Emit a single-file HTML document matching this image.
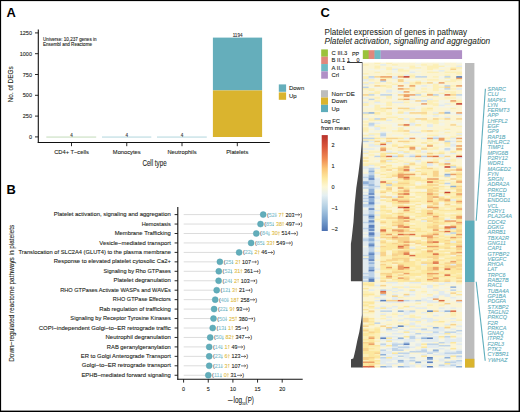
<!DOCTYPE html>
<html><head><meta charset="utf-8"><title>Figure</title>
<style>
html,body{margin:0;padding:0;background:#fff;width:520px;height:412px;overflow:hidden}
svg{display:block;font-family:"Liberation Sans", sans-serif}
</style></head>
<body>
<svg width="520" height="412" viewBox="0 0 520 412" shape-rendering="auto">
<rect x="0" y="0" width="520" height="412" fill="#fff"/>
<text x="6.6" y="16.9" font-size="12.9" font-weight="bold" fill="#000">A</text>
<line x1="38.3" y1="29.6" x2="38.3" y2="143" stroke="#111" stroke-width="1.1"/>
<line x1="37.8" y1="142.5" x2="269.8" y2="142.5" stroke="#111" stroke-width="1.1"/>
<line x1="35" y1="136.90" x2="38.3" y2="136.90" stroke="#111" stroke-width="0.9"/>
<text x="32" y="138.90" font-size="5.5" fill="#231f20" text-anchor="end" stroke="#231f20" stroke-width="0.1">0</text>
<line x1="35" y1="116.10" x2="38.3" y2="116.10" stroke="#111" stroke-width="0.9"/>
<text x="32" y="118.10" font-size="5.5" fill="#231f20" text-anchor="end" stroke="#231f20" stroke-width="0.1">250</text>
<line x1="35" y1="95.30" x2="38.3" y2="95.30" stroke="#111" stroke-width="0.9"/>
<text x="32" y="97.30" font-size="5.5" fill="#231f20" text-anchor="end" stroke="#231f20" stroke-width="0.1">500</text>
<line x1="35" y1="74.50" x2="38.3" y2="74.50" stroke="#111" stroke-width="0.9"/>
<text x="32" y="76.50" font-size="5.5" fill="#231f20" text-anchor="end" stroke="#231f20" stroke-width="0.1">750</text>
<line x1="35" y1="53.70" x2="38.3" y2="53.70" stroke="#111" stroke-width="0.9"/>
<text x="32" y="55.70" font-size="5.5" fill="#231f20" text-anchor="end" stroke="#231f20" stroke-width="0.1">1000</text>
<line x1="35" y1="32.90" x2="38.3" y2="32.90" stroke="#111" stroke-width="0.9"/>
<text x="32" y="34.90" font-size="5.5" fill="#231f20" text-anchor="end" stroke="#231f20" stroke-width="0.1">1250</text>
<line x1="71.5" y1="142.5" x2="71.5" y2="146.2" stroke="#111" stroke-width="0.9"/>
<text x="71.5" y="153.9" font-size="5.75" fill="#231f20" text-anchor="middle" stroke="#231f20" stroke-width="0.1">CD4+ T−cells</text>
<line x1="126.75" y1="142.5" x2="126.75" y2="146.2" stroke="#111" stroke-width="0.9"/>
<text x="126.75" y="153.9" font-size="5.75" fill="#231f20" text-anchor="middle" stroke="#231f20" stroke-width="0.1">Monocytes</text>
<line x1="182.0" y1="142.5" x2="182.0" y2="146.2" stroke="#111" stroke-width="0.9"/>
<text x="182.0" y="153.9" font-size="5.75" fill="#231f20" text-anchor="middle" stroke="#231f20" stroke-width="0.1">Neutrophils</text>
<line x1="237.3" y1="142.5" x2="237.3" y2="146.2" stroke="#111" stroke-width="0.9"/>
<text x="237.3" y="153.9" font-size="5.75" fill="#231f20" text-anchor="middle" stroke="#231f20" stroke-width="0.1">Platelets</text>
<rect x="46.3" y="136.6" width="49.9" height="0.9" fill="#bcd8b2"/>
<rect x="102" y="136.6" width="49.3" height="0.9" fill="#a9d2da"/>
<rect x="157" y="136.6" width="49.8" height="0.9" fill="#a9d2da"/>
<text x="71.5" y="136.7" font-size="4.6" fill="#333" text-anchor="middle" stroke="#333" stroke-width="0.1">4</text>
<text x="126.75" y="136.7" font-size="4.6" fill="#333" text-anchor="middle" stroke="#333" stroke-width="0.1">4</text>
<text x="182.0" y="136.7" font-size="4.6" fill="#333" text-anchor="middle" stroke="#333" stroke-width="0.1">4</text>
<rect x="212.9" y="37.6" width="49.2" height="52.8" fill="#65aebb"/>
<rect x="212.9" y="90.4" width="49.2" height="46.6" fill="#dab42e"/>
<text x="237.6" y="36.7" font-size="4.6" fill="#333" text-anchor="middle" stroke="#333" stroke-width="0.1">1194</text>
<text x="43" y="40.6" font-size="4.6" fill="#231f20" textLength="53.6" lengthAdjust="spacingAndGlyphs" stroke="#231f20" stroke-width="0.1">Universe: 10,237 genes in</text>
<text x="43" y="45.6" font-size="4.6" fill="#231f20" stroke="#231f20" stroke-width="0.1">Ensembl and Reactome</text>
<rect x="278.8" y="84.4" width="7.3" height="7.4" fill="#65aebb"/>
<rect x="278.8" y="92.4" width="7.3" height="7.4" fill="#dab42e"/>
<text x="289" y="90.0" font-size="6.0" fill="#231f20" textLength="15.2" lengthAdjust="spacingAndGlyphs" stroke="#231f20" stroke-width="0.1">Down</text>
<text x="289" y="97.8" font-size="6.0" fill="#231f20" stroke="#231f20" stroke-width="0.1">Up</text>
<text x="154.5" y="165.8" font-size="8.4" text-anchor="middle" fill="#231f20" textLength="24.2" lengthAdjust="spacingAndGlyphs" stroke="#231f20" stroke-width="0.1">Cell type</text>
<text transform="translate(13.0,84.3) rotate(-90)" x="0" y="0" font-size="8.0" text-anchor="middle" fill="#231f20" textLength="36" lengthAdjust="spacingAndGlyphs" stroke="#231f20" stroke-width="0.1">No. of DEGs</text>
<text x="6.5" y="194.3" font-size="12.9" font-weight="bold" fill="#000">B</text>
<line x1="177.8" y1="207.0" x2="177.8" y2="379.7" stroke="#111" stroke-width="1.1"/>
<line x1="177.3" y1="379.2" x2="302.7" y2="379.2" stroke="#111" stroke-width="1.1"/>
<line x1="174.6" y1="214.60" x2="177.8" y2="214.60" stroke="#111" stroke-width="0.9"/>
<text x="53.75" y="216.20" font-size="5.6" fill="#231f20" textLength="117.10" lengthAdjust="spacingAndGlyphs" stroke="#231f20" stroke-width="0.1">Platelet activation, signaling and aggregation</text>
<line x1="183.7" y1="214.60" x2="263.2" y2="214.60" stroke="#dcdcdc" stroke-width="1"/>
<circle cx="263.2" cy="214.60" r="3.0" fill="#62adba" stroke="#4f9faf" stroke-width="0.45"/>
<text x="267.00" y="216.55" font-size="5.4" fill="#555" stroke="#555" stroke-width="0.1">(</text><text x="268.80" y="216.55" font-size="5.4" fill="#86c1cd" stroke="#86c1cd" stroke-width="0.1">52</text><path d="M275.90 212.80 V216.50 M275.10 215.50 L275.90 216.55 L276.70 215.50" stroke="#5aa6b4" stroke-width="0.55" fill="none"/><text x="278.60" y="216.55" font-size="5.4" fill="#e0bb45" stroke="#e0bb45" stroke-width="0.1">7</text><path d="M282.70 216.55 V212.90 M281.90 213.90 L282.70 212.85 L283.50 213.90" stroke="#e0bb45" stroke-width="0.55" fill="none"/><text x="285.40" y="216.55" font-size="5.4" fill="#231f20" stroke="#231f20" stroke-width="0.1">203</text><path d="M295.00 214.70 H299.60 M298.50 213.70 L299.70 214.70 L298.50 215.70" stroke="#231f20" stroke-width="0.6" fill="none"/><text x="300.20" y="216.55" font-size="5.4" fill="#231f20" stroke="#231f20" stroke-width="0.1">)</text>
<line x1="174.6" y1="224.05" x2="177.8" y2="224.05" stroke="#111" stroke-width="0.9"/>
<text x="141.65" y="225.65" font-size="5.6" fill="#231f20" textLength="29.20" lengthAdjust="spacingAndGlyphs" stroke="#231f20" stroke-width="0.1">Hemostasis</text>
<line x1="183.7" y1="224.05" x2="260.5" y2="224.05" stroke="#dcdcdc" stroke-width="1"/>
<circle cx="260.5" cy="224.05" r="3.0" fill="#62adba" stroke="#4f9faf" stroke-width="0.45"/>
<text x="264.30" y="226.00" font-size="5.4" fill="#555" stroke="#555" stroke-width="0.1">(</text><text x="266.10" y="226.00" font-size="5.4" fill="#86c1cd" stroke="#86c1cd" stroke-width="0.1">85</text><path d="M273.20 222.25 V225.95 M272.40 224.95 L273.20 226.00 L274.00 224.95" stroke="#5aa6b4" stroke-width="0.55" fill="none"/><text x="275.90" y="226.00" font-size="5.4" fill="#e0bb45" stroke="#e0bb45" stroke-width="0.1">38</text><path d="M283.00 226.00 V222.35 M282.20 223.35 L283.00 222.30 L283.80 223.35" stroke="#e0bb45" stroke-width="0.55" fill="none"/><text x="285.70" y="226.00" font-size="5.4" fill="#231f20" stroke="#231f20" stroke-width="0.1">497</text><path d="M295.30 224.15 H299.90 M298.80 223.15 L300.00 224.15 L298.80 225.15" stroke="#231f20" stroke-width="0.6" fill="none"/><text x="300.50" y="226.00" font-size="5.4" fill="#231f20" stroke="#231f20" stroke-width="0.1">)</text>
<line x1="174.6" y1="233.50" x2="177.8" y2="233.50" stroke="#111" stroke-width="0.9"/>
<text x="114.65" y="235.10" font-size="5.6" fill="#231f20" textLength="56.20" lengthAdjust="spacingAndGlyphs" stroke="#231f20" stroke-width="0.1">Membrane Trafficking</text>
<line x1="183.7" y1="233.50" x2="256.3" y2="233.50" stroke="#dcdcdc" stroke-width="1"/>
<circle cx="256.3" cy="233.50" r="3.0" fill="#62adba" stroke="#4f9faf" stroke-width="0.45"/>
<text x="260.10" y="235.45" font-size="5.4" fill="#555" stroke="#555" stroke-width="0.1">(</text><text x="261.90" y="235.45" font-size="5.4" fill="#86c1cd" stroke="#86c1cd" stroke-width="0.1">84</text><path d="M269.00 231.70 V235.40 M268.20 234.40 L269.00 235.45 L269.80 234.40" stroke="#5aa6b4" stroke-width="0.55" fill="none"/><text x="271.70" y="235.45" font-size="5.4" fill="#e0bb45" stroke="#e0bb45" stroke-width="0.1">30</text><path d="M278.80 235.45 V231.80 M278.00 232.80 L278.80 231.75 L279.60 232.80" stroke="#e0bb45" stroke-width="0.55" fill="none"/><text x="281.50" y="235.45" font-size="5.4" fill="#231f20" stroke="#231f20" stroke-width="0.1">514</text><path d="M291.10 233.60 H295.70 M294.60 232.60 L295.80 233.60 L294.60 234.60" stroke="#231f20" stroke-width="0.6" fill="none"/><text x="296.30" y="235.45" font-size="5.4" fill="#231f20" stroke="#231f20" stroke-width="0.1">)</text>
<line x1="174.6" y1="242.95" x2="177.8" y2="242.95" stroke="#111" stroke-width="0.9"/>
<text x="99.35" y="244.55" font-size="5.6" fill="#231f20" textLength="71.50" lengthAdjust="spacingAndGlyphs" stroke="#231f20" stroke-width="0.1">Vesicle−mediated transport</text>
<line x1="183.7" y1="242.95" x2="251.1" y2="242.95" stroke="#dcdcdc" stroke-width="1"/>
<circle cx="251.1" cy="242.95" r="3.0" fill="#62adba" stroke="#4f9faf" stroke-width="0.45"/>
<text x="254.90" y="244.90" font-size="5.4" fill="#555" stroke="#555" stroke-width="0.1">(</text><text x="256.70" y="244.90" font-size="5.4" fill="#86c1cd" stroke="#86c1cd" stroke-width="0.1">85</text><path d="M263.80 241.15 V244.85 M263.00 243.85 L263.80 244.90 L264.60 243.85" stroke="#5aa6b4" stroke-width="0.55" fill="none"/><text x="266.50" y="244.90" font-size="5.4" fill="#e0bb45" stroke="#e0bb45" stroke-width="0.1">33</text><path d="M273.60 244.90 V241.25 M272.80 242.25 L273.60 241.20 L274.40 242.25" stroke="#e0bb45" stroke-width="0.55" fill="none"/><text x="276.30" y="244.90" font-size="5.4" fill="#231f20" stroke="#231f20" stroke-width="0.1">549</text><path d="M285.90 243.05 H290.50 M289.40 242.05 L290.60 243.05 L289.40 244.05" stroke="#231f20" stroke-width="0.6" fill="none"/><text x="291.10" y="244.90" font-size="5.4" fill="#231f20" stroke="#231f20" stroke-width="0.1">)</text>
<line x1="174.6" y1="252.40" x2="177.8" y2="252.40" stroke="#111" stroke-width="0.9"/>
<text x="18.55" y="254.00" font-size="5.6" fill="#231f20" textLength="152.30" lengthAdjust="spacingAndGlyphs" stroke="#231f20" stroke-width="0.1">Translocation of SLC2A4 (GLUT4) to the plasma membrane</text>
<line x1="183.7" y1="252.40" x2="239.1" y2="252.40" stroke="#dcdcdc" stroke-width="1"/>
<circle cx="239.1" cy="252.40" r="3.0" fill="#62adba" stroke="#4f9faf" stroke-width="0.45"/>
<text x="242.90" y="254.35" font-size="5.4" fill="#555" stroke="#555" stroke-width="0.1">(</text><text x="244.70" y="254.35" font-size="5.4" fill="#86c1cd" stroke="#86c1cd" stroke-width="0.1">22</text><path d="M251.80 250.60 V254.30 M251.00 253.30 L251.80 254.35 L252.60 253.30" stroke="#5aa6b4" stroke-width="0.55" fill="none"/><text x="254.50" y="254.35" font-size="5.4" fill="#e0bb45" stroke="#e0bb45" stroke-width="0.1">2</text><path d="M258.60 254.35 V250.70 M257.80 251.70 L258.60 250.65 L259.40 251.70" stroke="#e0bb45" stroke-width="0.55" fill="none"/><text x="261.30" y="254.35" font-size="5.4" fill="#231f20" stroke="#231f20" stroke-width="0.1">46</text><path d="M267.90 252.50 H272.50 M271.40 251.50 L272.60 252.50 L271.40 253.50" stroke="#231f20" stroke-width="0.6" fill="none"/><text x="273.10" y="254.35" font-size="5.4" fill="#231f20" stroke="#231f20" stroke-width="0.1">)</text>
<line x1="174.6" y1="261.85" x2="177.8" y2="261.85" stroke="#111" stroke-width="0.9"/>
<text x="53.75" y="263.45" font-size="5.6" fill="#231f20" textLength="117.10" lengthAdjust="spacingAndGlyphs" stroke="#231f20" stroke-width="0.1">Response to elevated platelet cytosolic Ca2+</text>
<line x1="183.7" y1="261.85" x2="219.9" y2="261.85" stroke="#dcdcdc" stroke-width="1"/>
<circle cx="219.9" cy="261.85" r="3.0" fill="#62adba" stroke="#4f9faf" stroke-width="0.45"/>
<text x="223.70" y="263.80" font-size="5.4" fill="#555" stroke="#555" stroke-width="0.1">(</text><text x="225.50" y="263.80" font-size="5.4" fill="#86c1cd" stroke="#86c1cd" stroke-width="0.1">25</text><path d="M232.60 260.05 V263.75 M231.80 262.75 L232.60 263.80 L233.40 262.75" stroke="#5aa6b4" stroke-width="0.55" fill="none"/><text x="235.30" y="263.80" font-size="5.4" fill="#e0bb45" stroke="#e0bb45" stroke-width="0.1">2</text><path d="M239.40 263.80 V260.15 M238.60 261.15 L239.40 260.10 L240.20 261.15" stroke="#e0bb45" stroke-width="0.55" fill="none"/><text x="242.10" y="263.80" font-size="5.4" fill="#231f20" stroke="#231f20" stroke-width="0.1">107</text><path d="M251.70 261.95 H256.30 M255.20 260.95 L256.40 261.95 L255.20 262.95" stroke="#231f20" stroke-width="0.6" fill="none"/><text x="256.90" y="263.80" font-size="5.4" fill="#231f20" stroke="#231f20" stroke-width="0.1">)</text>
<line x1="174.6" y1="271.30" x2="177.8" y2="271.30" stroke="#111" stroke-width="0.9"/>
<text x="103.45" y="272.90" font-size="5.6" fill="#231f20" textLength="67.40" lengthAdjust="spacingAndGlyphs" stroke="#231f20" stroke-width="0.1">Signaling by Rho GTPases</text>
<line x1="183.7" y1="271.30" x2="218.8" y2="271.30" stroke="#dcdcdc" stroke-width="1"/>
<circle cx="218.8" cy="271.30" r="3.0" fill="#62adba" stroke="#4f9faf" stroke-width="0.45"/>
<text x="222.60" y="273.25" font-size="5.4" fill="#555" stroke="#555" stroke-width="0.1">(</text><text x="224.40" y="273.25" font-size="5.4" fill="#86c1cd" stroke="#86c1cd" stroke-width="0.1">52</text><path d="M231.50 269.50 V273.20 M230.70 272.20 L231.50 273.25 L232.30 272.20" stroke="#5aa6b4" stroke-width="0.55" fill="none"/><text x="234.20" y="273.25" font-size="5.4" fill="#e0bb45" stroke="#e0bb45" stroke-width="0.1">31</text><path d="M241.30 273.25 V269.60 M240.50 270.60 L241.30 269.55 L242.10 270.60" stroke="#e0bb45" stroke-width="0.55" fill="none"/><text x="244.00" y="273.25" font-size="5.4" fill="#231f20" stroke="#231f20" stroke-width="0.1">361</text><path d="M253.60 271.40 H258.20 M257.10 270.40 L258.30 271.40 L257.10 272.40" stroke="#231f20" stroke-width="0.6" fill="none"/><text x="258.80" y="273.25" font-size="5.4" fill="#231f20" stroke="#231f20" stroke-width="0.1">)</text>
<line x1="174.6" y1="280.75" x2="177.8" y2="280.75" stroke="#111" stroke-width="0.9"/>
<text x="113.55" y="282.35" font-size="5.6" fill="#231f20" textLength="57.30" lengthAdjust="spacingAndGlyphs" stroke="#231f20" stroke-width="0.1">Platelet degranulation</text>
<line x1="183.7" y1="280.75" x2="218.6" y2="280.75" stroke="#dcdcdc" stroke-width="1"/>
<circle cx="218.6" cy="280.75" r="3.0" fill="#62adba" stroke="#4f9faf" stroke-width="0.45"/>
<text x="222.40" y="282.70" font-size="5.4" fill="#555" stroke="#555" stroke-width="0.1">(</text><text x="224.20" y="282.70" font-size="5.4" fill="#86c1cd" stroke="#86c1cd" stroke-width="0.1">24</text><path d="M231.30 278.95 V282.65 M230.50 281.65 L231.30 282.70 L232.10 281.65" stroke="#5aa6b4" stroke-width="0.55" fill="none"/><text x="234.00" y="282.70" font-size="5.4" fill="#e0bb45" stroke="#e0bb45" stroke-width="0.1">2</text><path d="M238.10 282.70 V279.05 M237.30 280.05 L238.10 279.00 L238.90 280.05" stroke="#e0bb45" stroke-width="0.55" fill="none"/><text x="240.80" y="282.70" font-size="5.4" fill="#231f20" stroke="#231f20" stroke-width="0.1">103</text><path d="M250.40 280.85 H255.00 M253.90 279.85 L255.10 280.85 L253.90 281.85" stroke="#231f20" stroke-width="0.6" fill="none"/><text x="255.60" y="282.70" font-size="5.4" fill="#231f20" stroke="#231f20" stroke-width="0.1">)</text>
<line x1="174.6" y1="290.20" x2="177.8" y2="290.20" stroke="#111" stroke-width="0.9"/>
<text x="60.15" y="291.80" font-size="5.6" fill="#231f20" textLength="110.70" lengthAdjust="spacingAndGlyphs" stroke="#231f20" stroke-width="0.1">RHO GTPases Activate WASPs and WAVEs</text>
<line x1="183.7" y1="290.20" x2="216.7" y2="290.20" stroke="#dcdcdc" stroke-width="1"/>
<circle cx="216.7" cy="290.20" r="3.0" fill="#62adba" stroke="#4f9faf" stroke-width="0.45"/>
<text x="220.50" y="292.15" font-size="5.4" fill="#555" stroke="#555" stroke-width="0.1">(</text><text x="222.30" y="292.15" font-size="5.4" fill="#86c1cd" stroke="#86c1cd" stroke-width="0.1">12</text><path d="M229.40 288.40 V292.10 M228.60 291.10 L229.40 292.15 L230.20 291.10" stroke="#5aa6b4" stroke-width="0.55" fill="none"/><text x="232.10" y="292.15" font-size="5.4" fill="#e0bb45" stroke="#e0bb45" stroke-width="0.1">3</text><path d="M236.20 292.15 V288.50 M235.40 289.50 L236.20 288.45 L237.00 289.50" stroke="#e0bb45" stroke-width="0.55" fill="none"/><text x="238.90" y="292.15" font-size="5.4" fill="#231f20" stroke="#231f20" stroke-width="0.1">21</text><path d="M245.50 290.30 H250.10 M249.00 289.30 L250.20 290.30 L249.00 291.30" stroke="#231f20" stroke-width="0.6" fill="none"/><text x="250.70" y="292.15" font-size="5.4" fill="#231f20" stroke="#231f20" stroke-width="0.1">)</text>
<line x1="174.6" y1="299.65" x2="177.8" y2="299.65" stroke="#111" stroke-width="0.9"/>
<text x="112.85" y="301.25" font-size="5.6" fill="#231f20" textLength="58.00" lengthAdjust="spacingAndGlyphs" stroke="#231f20" stroke-width="0.1">RHO GTPase Effectors</text>
<line x1="183.7" y1="299.65" x2="215.2" y2="299.65" stroke="#dcdcdc" stroke-width="1"/>
<circle cx="215.2" cy="299.65" r="3.0" fill="#62adba" stroke="#4f9faf" stroke-width="0.45"/>
<text x="219.00" y="301.60" font-size="5.4" fill="#555" stroke="#555" stroke-width="0.1">(</text><text x="220.80" y="301.60" font-size="5.4" fill="#86c1cd" stroke="#86c1cd" stroke-width="0.1">40</text><path d="M227.90 297.85 V301.55 M227.10 300.55 L227.90 301.60 L228.70 300.55" stroke="#5aa6b4" stroke-width="0.55" fill="none"/><text x="230.60" y="301.60" font-size="5.4" fill="#e0bb45" stroke="#e0bb45" stroke-width="0.1">18</text><path d="M237.70 301.60 V297.95 M236.90 298.95 L237.70 297.90 L238.50 298.95" stroke="#e0bb45" stroke-width="0.55" fill="none"/><text x="240.40" y="301.60" font-size="5.4" fill="#231f20" stroke="#231f20" stroke-width="0.1">258</text><path d="M250.00 299.75 H254.60 M253.50 298.75 L254.70 299.75 L253.50 300.75" stroke="#231f20" stroke-width="0.6" fill="none"/><text x="255.20" y="301.60" font-size="5.4" fill="#231f20" stroke="#231f20" stroke-width="0.1">)</text>
<line x1="174.6" y1="309.10" x2="177.8" y2="309.10" stroke="#111" stroke-width="0.9"/>
<text x="99.15" y="310.70" font-size="5.6" fill="#231f20" textLength="71.70" lengthAdjust="spacingAndGlyphs" stroke="#231f20" stroke-width="0.1">Rab regulation of trafficking</text>
<line x1="183.7" y1="309.10" x2="214.1" y2="309.10" stroke="#dcdcdc" stroke-width="1"/>
<circle cx="214.1" cy="309.10" r="3.0" fill="#62adba" stroke="#4f9faf" stroke-width="0.45"/>
<text x="217.90" y="311.05" font-size="5.4" fill="#555" stroke="#555" stroke-width="0.1">(</text><text x="219.70" y="311.05" font-size="5.4" fill="#86c1cd" stroke="#86c1cd" stroke-width="0.1">22</text><path d="M226.80 307.30 V311.00 M226.00 310.00 L226.80 311.05 L227.60 310.00" stroke="#5aa6b4" stroke-width="0.55" fill="none"/><text x="229.50" y="311.05" font-size="5.4" fill="#e0bb45" stroke="#e0bb45" stroke-width="0.1">9</text><path d="M233.60 311.05 V307.40 M232.80 308.40 L233.60 307.35 L234.40 308.40" stroke="#e0bb45" stroke-width="0.55" fill="none"/><text x="236.30" y="311.05" font-size="5.4" fill="#231f20" stroke="#231f20" stroke-width="0.1">93</text><path d="M242.90 309.20 H247.50 M246.40 308.20 L247.60 309.20 L246.40 310.20" stroke="#231f20" stroke-width="0.6" fill="none"/><text x="248.10" y="311.05" font-size="5.4" fill="#231f20" stroke="#231f20" stroke-width="0.1">)</text>
<line x1="174.6" y1="318.55" x2="177.8" y2="318.55" stroke="#111" stroke-width="0.9"/>
<text x="70.35" y="320.15" font-size="5.6" fill="#231f20" textLength="100.50" lengthAdjust="spacingAndGlyphs" stroke="#231f20" stroke-width="0.1">Signaling by Receptor Tyrosine Kinases</text>
<line x1="183.7" y1="318.55" x2="213.5" y2="318.55" stroke="#dcdcdc" stroke-width="1"/>
<circle cx="213.5" cy="318.55" r="3.0" fill="#62adba" stroke="#4f9faf" stroke-width="0.45"/>
<text x="217.30" y="320.50" font-size="5.4" fill="#555" stroke="#555" stroke-width="0.1">(</text><text x="219.10" y="320.50" font-size="5.4" fill="#86c1cd" stroke="#86c1cd" stroke-width="0.1">50</text><path d="M226.20 316.75 V320.45 M225.40 319.45 L226.20 320.50 L227.00 319.45" stroke="#5aa6b4" stroke-width="0.55" fill="none"/><text x="228.90" y="320.50" font-size="5.4" fill="#e0bb45" stroke="#e0bb45" stroke-width="0.1">25</text><path d="M236.00 320.50 V316.85 M235.20 317.85 L236.00 316.80 L236.80 317.85" stroke="#e0bb45" stroke-width="0.55" fill="none"/><text x="238.70" y="320.50" font-size="5.4" fill="#231f20" stroke="#231f20" stroke-width="0.1">380</text><path d="M248.30 318.65 H252.90 M251.80 317.65 L253.00 318.65 L251.80 319.65" stroke="#231f20" stroke-width="0.6" fill="none"/><text x="253.50" y="320.50" font-size="5.4" fill="#231f20" stroke="#231f20" stroke-width="0.1">)</text>
<line x1="174.6" y1="328.00" x2="177.8" y2="328.00" stroke="#111" stroke-width="0.9"/>
<text x="38.75" y="329.60" font-size="5.6" fill="#231f20" textLength="132.10" lengthAdjust="spacingAndGlyphs" stroke="#231f20" stroke-width="0.1">COPI−independent Golgi−to−ER retrograde traffic</text>
<line x1="183.7" y1="328.00" x2="212.7" y2="328.00" stroke="#dcdcdc" stroke-width="1"/>
<circle cx="212.7" cy="328.00" r="3.0" fill="#62adba" stroke="#4f9faf" stroke-width="0.45"/>
<text x="216.50" y="329.95" font-size="5.4" fill="#555" stroke="#555" stroke-width="0.1">(</text><text x="218.30" y="329.95" font-size="5.4" fill="#86c1cd" stroke="#86c1cd" stroke-width="0.1">13</text><path d="M225.40 326.20 V329.90 M224.60 328.90 L225.40 329.95 L226.20 328.90" stroke="#5aa6b4" stroke-width="0.55" fill="none"/><text x="228.10" y="329.95" font-size="5.4" fill="#e0bb45" stroke="#e0bb45" stroke-width="0.1">1</text><path d="M232.20 329.95 V326.30 M231.40 327.30 L232.20 326.25 L233.00 327.30" stroke="#e0bb45" stroke-width="0.55" fill="none"/><text x="234.90" y="329.95" font-size="5.4" fill="#231f20" stroke="#231f20" stroke-width="0.1">35</text><path d="M241.50 328.10 H246.10 M245.00 327.10 L246.20 328.10 L245.00 329.10" stroke="#231f20" stroke-width="0.6" fill="none"/><text x="246.70" y="329.95" font-size="5.4" fill="#231f20" stroke="#231f20" stroke-width="0.1">)</text>
<line x1="174.6" y1="337.45" x2="177.8" y2="337.45" stroke="#111" stroke-width="0.9"/>
<text x="105.55" y="339.05" font-size="5.6" fill="#231f20" textLength="65.30" lengthAdjust="spacingAndGlyphs" stroke="#231f20" stroke-width="0.1">Neutrophil degranulation</text>
<line x1="183.7" y1="337.45" x2="210.2" y2="337.45" stroke="#dcdcdc" stroke-width="1"/>
<circle cx="210.2" cy="337.45" r="3.0" fill="#62adba" stroke="#4f9faf" stroke-width="0.45"/>
<text x="214.00" y="339.40" font-size="5.4" fill="#555" stroke="#555" stroke-width="0.1">(</text><text x="215.80" y="339.40" font-size="5.4" fill="#86c1cd" stroke="#86c1cd" stroke-width="0.1">50</text><path d="M222.90 335.65 V339.35 M222.10 338.35 L222.90 339.40 L223.70 338.35" stroke="#5aa6b4" stroke-width="0.55" fill="none"/><text x="225.60" y="339.40" font-size="5.4" fill="#e0bb45" stroke="#e0bb45" stroke-width="0.1">82</text><path d="M232.70 339.40 V335.75 M231.90 336.75 L232.70 335.70 L233.50 336.75" stroke="#e0bb45" stroke-width="0.55" fill="none"/><text x="235.40" y="339.40" font-size="5.4" fill="#231f20" stroke="#231f20" stroke-width="0.1">347</text><path d="M245.00 337.55 H249.60 M248.50 336.55 L249.70 337.55 L248.50 338.55" stroke="#231f20" stroke-width="0.6" fill="none"/><text x="250.20" y="339.40" font-size="5.4" fill="#231f20" stroke="#231f20" stroke-width="0.1">)</text>
<line x1="174.6" y1="346.90" x2="177.8" y2="346.90" stroke="#111" stroke-width="0.9"/>
<text x="106.85" y="348.50" font-size="5.6" fill="#231f20" textLength="64.00" lengthAdjust="spacingAndGlyphs" stroke="#231f20" stroke-width="0.1">RAB geranylgeranylation</text>
<line x1="183.7" y1="346.90" x2="209.2" y2="346.90" stroke="#dcdcdc" stroke-width="1"/>
<circle cx="209.2" cy="346.90" r="3.0" fill="#62adba" stroke="#4f9faf" stroke-width="0.45"/>
<text x="213.00" y="348.85" font-size="5.4" fill="#555" stroke="#555" stroke-width="0.1">(</text><text x="214.80" y="348.85" font-size="5.4" fill="#86c1cd" stroke="#86c1cd" stroke-width="0.1">14</text><path d="M221.90 345.10 V348.80 M221.10 347.80 L221.90 348.85 L222.70 347.80" stroke="#5aa6b4" stroke-width="0.55" fill="none"/><text x="224.60" y="348.85" font-size="5.4" fill="#e0bb45" stroke="#e0bb45" stroke-width="0.1">1</text><path d="M228.70 348.85 V345.20 M227.90 346.20 L228.70 345.15 L229.50 346.20" stroke="#e0bb45" stroke-width="0.55" fill="none"/><text x="231.40" y="348.85" font-size="5.4" fill="#231f20" stroke="#231f20" stroke-width="0.1">49</text><path d="M238.00 347.00 H242.60 M241.50 346.00 L242.70 347.00 L241.50 348.00" stroke="#231f20" stroke-width="0.6" fill="none"/><text x="243.20" y="348.85" font-size="5.4" fill="#231f20" stroke="#231f20" stroke-width="0.1">)</text>
<line x1="174.6" y1="356.35" x2="177.8" y2="356.35" stroke="#111" stroke-width="0.9"/>
<text x="80.75" y="357.95" font-size="5.6" fill="#231f20" textLength="90.10" lengthAdjust="spacingAndGlyphs" stroke="#231f20" stroke-width="0.1">ER to Golgi Anterograde Transport</text>
<line x1="183.7" y1="356.35" x2="209.2" y2="356.35" stroke="#dcdcdc" stroke-width="1"/>
<circle cx="209.2" cy="356.35" r="3.0" fill="#62adba" stroke="#4f9faf" stroke-width="0.45"/>
<text x="213.00" y="358.30" font-size="5.4" fill="#555" stroke="#555" stroke-width="0.1">(</text><text x="214.80" y="358.30" font-size="5.4" fill="#86c1cd" stroke="#86c1cd" stroke-width="0.1">23</text><path d="M221.90 354.55 V358.25 M221.10 357.25 L221.90 358.30 L222.70 357.25" stroke="#5aa6b4" stroke-width="0.55" fill="none"/><text x="224.60" y="358.30" font-size="5.4" fill="#e0bb45" stroke="#e0bb45" stroke-width="0.1">6</text><path d="M228.70 358.30 V354.65 M227.90 355.65 L228.70 354.60 L229.50 355.65" stroke="#e0bb45" stroke-width="0.55" fill="none"/><text x="231.40" y="358.30" font-size="5.4" fill="#231f20" stroke="#231f20" stroke-width="0.1">123</text><path d="M241.00 356.45 H245.60 M244.50 355.45 L245.70 356.45 L244.50 357.45" stroke="#231f20" stroke-width="0.6" fill="none"/><text x="246.20" y="358.30" font-size="5.4" fill="#231f20" stroke="#231f20" stroke-width="0.1">)</text>
<line x1="174.6" y1="365.80" x2="177.8" y2="365.80" stroke="#111" stroke-width="0.9"/>
<text x="81.85" y="367.40" font-size="5.6" fill="#231f20" textLength="89.00" lengthAdjust="spacingAndGlyphs" stroke="#231f20" stroke-width="0.1">Golgi−to−ER retrograde transport</text>
<line x1="183.7" y1="365.80" x2="209.2" y2="365.80" stroke="#dcdcdc" stroke-width="1"/>
<circle cx="209.2" cy="365.80" r="3.0" fill="#62adba" stroke="#4f9faf" stroke-width="0.45"/>
<text x="213.00" y="367.75" font-size="5.4" fill="#555" stroke="#555" stroke-width="0.1">(</text><text x="214.80" y="367.75" font-size="5.4" fill="#86c1cd" stroke="#86c1cd" stroke-width="0.1">21</text><path d="M221.90 364.00 V367.70 M221.10 366.70 L221.90 367.75 L222.70 366.70" stroke="#5aa6b4" stroke-width="0.55" fill="none"/><text x="224.60" y="367.75" font-size="5.4" fill="#e0bb45" stroke="#e0bb45" stroke-width="0.1">3</text><path d="M228.70 367.75 V364.10 M227.90 365.10 L228.70 364.05 L229.50 365.10" stroke="#e0bb45" stroke-width="0.55" fill="none"/><text x="231.40" y="367.75" font-size="5.4" fill="#231f20" stroke="#231f20" stroke-width="0.1">107</text><path d="M241.00 365.90 H245.60 M244.50 364.90 L245.70 365.90 L244.50 366.90" stroke="#231f20" stroke-width="0.6" fill="none"/><text x="246.20" y="367.75" font-size="5.4" fill="#231f20" stroke="#231f20" stroke-width="0.1">)</text>
<line x1="174.6" y1="375.25" x2="177.8" y2="375.25" stroke="#111" stroke-width="0.9"/>
<text x="81.45" y="376.85" font-size="5.6" fill="#231f20" textLength="89.40" lengthAdjust="spacingAndGlyphs" stroke="#231f20" stroke-width="0.1">EPHB−mediated forward signaling</text>
<line x1="183.7" y1="375.25" x2="208.3" y2="375.25" stroke="#dcdcdc" stroke-width="1"/>
<circle cx="208.3" cy="375.25" r="3.0" fill="#62adba" stroke="#4f9faf" stroke-width="0.45"/>
<text x="212.10" y="377.20" font-size="5.4" fill="#555" stroke="#555" stroke-width="0.1">(</text><text x="213.90" y="377.20" font-size="5.4" fill="#86c1cd" stroke="#86c1cd" stroke-width="0.1">11</text><path d="M221.00 373.45 V377.15 M220.20 376.15 L221.00 377.20 L221.80 376.15" stroke="#5aa6b4" stroke-width="0.55" fill="none"/><text x="223.70" y="377.20" font-size="5.4" fill="#e0bb45" stroke="#e0bb45" stroke-width="0.1">0</text><path d="M227.80 377.20 V373.55 M227.00 374.55 L227.80 373.50 L228.60 374.55" stroke="#e0bb45" stroke-width="0.55" fill="none"/><text x="230.50" y="377.20" font-size="5.4" fill="#231f20" stroke="#231f20" stroke-width="0.1">31</text><path d="M237.10 375.35 H241.70 M240.60 374.35 L241.80 375.35 L240.60 376.35" stroke="#231f20" stroke-width="0.6" fill="none"/><text x="242.30" y="377.20" font-size="5.4" fill="#231f20" stroke="#231f20" stroke-width="0.1">)</text>
<line x1="183.60" y1="379.2" x2="183.60" y2="382.6" stroke="#111" stroke-width="0.9"/>
<text x="183.60" y="390.8" font-size="5.4" fill="#231f20" text-anchor="middle" stroke="#231f20" stroke-width="0.1">0</text>
<line x1="208.25" y1="379.2" x2="208.25" y2="382.6" stroke="#111" stroke-width="0.9"/>
<text x="208.25" y="390.8" font-size="5.4" fill="#231f20" text-anchor="middle" stroke="#231f20" stroke-width="0.1">5</text>
<line x1="232.90" y1="379.2" x2="232.90" y2="382.6" stroke="#111" stroke-width="0.9"/>
<text x="232.90" y="390.8" font-size="5.4" fill="#231f20" text-anchor="middle" stroke="#231f20" stroke-width="0.1">10</text>
<line x1="257.55" y1="379.2" x2="257.55" y2="382.6" stroke="#111" stroke-width="0.9"/>
<text x="257.55" y="390.8" font-size="5.4" fill="#231f20" text-anchor="middle" stroke="#231f20" stroke-width="0.1">15</text>
<line x1="282.20" y1="379.2" x2="282.20" y2="382.6" stroke="#111" stroke-width="0.9"/>
<text x="282.20" y="390.8" font-size="5.4" fill="#231f20" text-anchor="middle" stroke="#231f20" stroke-width="0.1">20</text>
<text x="227.8" y="402.7" font-size="8" fill="#231f20" textLength="5.5" lengthAdjust="spacingAndGlyphs" stroke="#231f20" stroke-width="0.1">−</text>
<text x="233.6" y="402.7" font-size="8.2" fill="#231f20" textLength="8.5" lengthAdjust="spacingAndGlyphs" stroke="#231f20" stroke-width="0.1">log</text>
<text x="242.0" y="404.8" font-size="4.4" fill="#231f20" textLength="3.6" lengthAdjust="spacingAndGlyphs" stroke="#231f20" stroke-width="0.1">10</text>
<text x="245.6" y="402.7" font-size="8.2" fill="#231f20" textLength="8.3" lengthAdjust="spacingAndGlyphs" stroke="#231f20" stroke-width="0.1">(P)</text>
<text transform="translate(13.6,293.3) rotate(-90)" x="0" y="0" font-size="7.6" text-anchor="middle" fill="#231f20" textLength="137" lengthAdjust="spacingAndGlyphs" stroke="#231f20" stroke-width="0.1">Down−regulated reactome pathways in platelets</text>
<text x="320.6" y="17.1" font-size="12.9" font-weight="bold" fill="#000">C</text>
<text x="324.5" y="35.3" font-size="8.9" fill="#231f20" stroke="#231f20" stroke-width="0.05" textLength="142.6" lengthAdjust="spacingAndGlyphs">Platelet expression of genes in pathway</text>
<text x="324.5" y="44.3" font-size="8.9" font-style="italic" fill="#231f20" stroke="#231f20" stroke-width="0.05" textLength="165.7" lengthAdjust="spacingAndGlyphs">Platelet activation, signalling and aggregation</text>
<rect x="321.2" y="49.40" width="6.7" height="7.33" fill="#9bc23b"/>
<text x="331.6" y="55.00" font-size="5.85" fill="#231f20" stroke="#231f20" stroke-width="0.1">C III.3</text>
<rect x="321.2" y="56.72" width="6.7" height="7.33" fill="#e0877c"/>
<text x="331.6" y="62.32" font-size="5.85" fill="#231f20" stroke="#231f20" stroke-width="0.1">B II.1</text>
<rect x="321.2" y="64.04" width="6.7" height="7.33" fill="#6dbac3"/>
<text x="331.6" y="69.64" font-size="5.85" fill="#231f20" stroke="#231f20" stroke-width="0.1">A II.1</text>
<rect x="321.2" y="71.36" width="6.7" height="7.33" fill="#b08fc6"/>
<text x="331.6" y="76.96" font-size="5.85" fill="#231f20" stroke="#231f20" stroke-width="0.1">Crl</text>
<text x="351.9" y="55.5" font-size="5.4" fill="#231f20" stroke="#231f20" stroke-width="0.1">PP</text>
<text x="347.0" y="61.7" font-size="5.4" fill="#231f20" stroke="#231f20" stroke-width="0.1">1</text>
<text x="356.6" y="61.7" font-size="5.4" fill="#231f20" stroke="#231f20" stroke-width="0.1">0</text>
<path d="M347.0 62.5 H362.4" stroke="#222" stroke-width="0.9" fill="none"/>
<rect x="321.0" y="90.20" width="7" height="7.31" fill="#bdbdbd"/>
<text x="331.6" y="96.00" font-size="6.1" fill="#231f20" stroke="#231f20" stroke-width="0.1">Non−DE</text>
<rect x="321.0" y="97.50" width="7" height="7.31" fill="#dab42e"/>
<text x="331.6" y="103.30" font-size="6.1" fill="#231f20" stroke="#231f20" stroke-width="0.1">Down</text>
<rect x="321.0" y="104.80" width="7" height="7.31" fill="#5eadbb"/>
<text x="331.6" y="110.60" font-size="6.1" fill="#231f20" stroke="#231f20" stroke-width="0.1">Up</text>
<text x="321.0" y="123.4" font-size="5.75" fill="#231f20" stroke="#231f20" stroke-width="0.1">Log FC</text>
<text x="321.0" y="129.7" font-size="6.05" fill="#231f20" stroke="#231f20" stroke-width="0.1">from mean</text>
<defs><linearGradient id="cb" x1="0" y1="0" x2="0" y2="1"><stop offset="0" stop-color="#b8312b"/><stop offset="0.12" stop-color="#d9553a"/><stop offset="0.25" stop-color="#f08c52"/><stop offset="0.35" stop-color="#fbc677"/><stop offset="0.45" stop-color="#fde9a0"/><stop offset="0.54" stop-color="#fcf7d6"/><stop offset="0.63" stop-color="#e4eff2"/><stop offset="0.77" stop-color="#aac9e1"/><stop offset="0.90" stop-color="#739bca"/><stop offset="1" stop-color="#4b70b1"/></linearGradient></defs>
<rect x="321.7" y="135.1" width="6.1" height="95.9" fill="url(#cb)"/>
<text x="331.6" y="146.5" font-size="5.5" fill="#231f20" stroke="#231f20" stroke-width="0.1">2</text>
<text x="331.6" y="167.9" font-size="5.5" fill="#231f20" stroke="#231f20" stroke-width="0.1">1</text>
<text x="331.6" y="189.0" font-size="5.5" fill="#231f20" stroke="#231f20" stroke-width="0.1">0</text>
<text x="331.6" y="210.3" font-size="5.5" fill="#231f20" stroke="#231f20" stroke-width="0.1">−1</text>
<text x="331.6" y="230.9" font-size="5.5" fill="#231f20" stroke="#231f20" stroke-width="0.1">−2</text>
<rect x="380.32" y="50.2" width="81.76" height="8.8" fill="#b08fc6"/>
<rect x="362.80" y="50.2" width="6.24" height="8.8" fill="#9bc23b"/>
<rect x="368.64" y="50.2" width="6.24" height="8.8" fill="#e0877c"/>
<rect x="374.48" y="50.2" width="6.04" height="8.8" fill="#6dbac3"/>
<g><rect x="362.80" y="62.60" width="6.34" height="2.00" fill="#fbf4d2"/>
<rect x="362.80" y="64.10" width="6.34" height="2.00" fill="#fcefb6"/>
<rect x="362.80" y="65.60" width="6.34" height="8.01" fill="#fbf4d2"/>
<rect x="362.80" y="73.11" width="6.34" height="2.00" fill="#fcefb6"/>
<rect x="362.80" y="74.62" width="6.34" height="2.00" fill="#f3f4e6"/>
<rect x="362.80" y="76.12" width="6.34" height="3.50" fill="#fcefb6"/>
<rect x="362.80" y="79.12" width="6.34" height="2.00" fill="#e2ebef"/>
<rect x="362.80" y="80.62" width="6.34" height="2.00" fill="#f3f4e6"/>
<rect x="362.80" y="82.13" width="6.34" height="2.00" fill="#fcefb6"/>
<rect x="362.80" y="83.63" width="6.34" height="2.00" fill="#e2ebef"/>
<rect x="362.80" y="85.13" width="6.34" height="2.00" fill="#fbf4d2"/>
<rect x="362.80" y="86.63" width="6.34" height="2.00" fill="#bed3e8"/>
<rect x="362.80" y="88.13" width="6.34" height="2.00" fill="#fcefb6"/>
<rect x="362.80" y="89.64" width="6.34" height="5.01" fill="#fbf4d2"/>
<rect x="362.80" y="94.14" width="6.34" height="2.00" fill="#f8d38c"/>
<rect x="362.80" y="95.64" width="6.34" height="2.00" fill="#fbf4d2"/>
<rect x="362.80" y="97.15" width="6.34" height="2.00" fill="#e2ebef"/>
<rect x="362.80" y="98.65" width="6.34" height="3.50" fill="#fbf4d2"/>
<rect x="362.80" y="101.65" width="6.34" height="2.00" fill="#e2ebef"/>
<rect x="362.80" y="103.15" width="6.34" height="3.50" fill="#fcefb6"/>
<rect x="362.80" y="106.16" width="6.34" height="2.00" fill="#f3f4e6"/>
<rect x="362.80" y="107.66" width="6.34" height="5.01" fill="#fbf4d2"/>
<rect x="362.80" y="112.17" width="6.34" height="2.00" fill="#bed3e8"/>
<rect x="362.80" y="113.67" width="6.34" height="2.00" fill="#fcefb6"/>
<rect x="362.80" y="115.17" width="6.34" height="3.50" fill="#fbf4d2"/>
<rect x="362.80" y="118.17" width="6.34" height="2.00" fill="#e2ebef"/>
<rect x="362.80" y="119.67" width="6.34" height="2.00" fill="#fbf4d2"/>
<rect x="362.80" y="121.18" width="6.34" height="2.00" fill="#fcefb6"/>
<rect x="362.80" y="122.68" width="6.34" height="2.00" fill="#fbf4d2"/>
<rect x="362.80" y="124.18" width="6.34" height="2.00" fill="#fcefb6"/>
<rect x="362.80" y="125.68" width="6.34" height="2.00" fill="#fbf4d2"/>
<rect x="362.80" y="127.18" width="6.34" height="5.01" fill="#fcefb6"/>
<rect x="362.80" y="131.69" width="6.34" height="2.00" fill="#fbf4d2"/>
<rect x="362.80" y="133.19" width="6.34" height="2.00" fill="#f3f4e6"/>
<rect x="362.80" y="134.69" width="6.34" height="2.00" fill="#fcefb6"/>
<rect x="362.80" y="136.20" width="6.34" height="2.00" fill="#fbf4d2"/>
<rect x="362.80" y="137.70" width="6.34" height="2.00" fill="#bed3e8"/>
<rect x="362.80" y="139.20" width="6.34" height="2.00" fill="#fcefb6"/>
<rect x="362.80" y="140.70" width="6.34" height="2.00" fill="#bed3e8"/>
<rect x="362.80" y="142.20" width="6.34" height="2.00" fill="#f3f4e6"/>
<rect x="362.80" y="143.71" width="6.34" height="5.01" fill="#fbf4d2"/>
<rect x="362.80" y="148.21" width="6.34" height="2.00" fill="#e2ebef"/>
<rect x="362.80" y="149.71" width="6.34" height="2.00" fill="#fbf4d2"/>
<rect x="362.80" y="151.22" width="6.34" height="2.00" fill="#e2ebef"/>
<rect x="362.80" y="152.72" width="6.34" height="2.00" fill="#fcefb6"/>
<rect x="362.80" y="154.22" width="6.34" height="2.00" fill="#f3f4e6"/>
<rect x="362.80" y="155.72" width="6.34" height="2.00" fill="#fbf4d2"/>
<rect x="362.80" y="157.22" width="6.34" height="2.00" fill="#fce79e"/>
<rect x="362.80" y="158.73" width="6.34" height="2.00" fill="#fbf4d2"/>
<rect x="362.80" y="160.23" width="6.34" height="2.00" fill="#fce79e"/>
<rect x="362.80" y="161.73" width="6.34" height="2.00" fill="#fbf4d2"/>
<rect x="362.80" y="163.23" width="6.34" height="3.50" fill="#fcefb6"/>
<rect x="362.80" y="166.24" width="6.34" height="3.50" fill="#e2ebef"/>
<rect x="362.80" y="169.24" width="6.34" height="3.50" fill="#f3f4e6"/>
<rect x="362.80" y="172.24" width="6.34" height="2.00" fill="#fbf4d2"/>
<rect x="362.80" y="173.75" width="6.34" height="3.50" fill="#e2ebef"/>
<rect x="362.80" y="176.75" width="6.34" height="2.00" fill="#bed3e8"/>
<rect x="362.80" y="178.25" width="6.34" height="3.50" fill="#e2ebef"/>
<rect x="362.80" y="181.26" width="6.34" height="3.50" fill="#8fb0d8"/>
<rect x="362.80" y="184.26" width="6.34" height="2.00" fill="#bed3e8"/>
<rect x="362.80" y="185.76" width="6.34" height="2.00" fill="#e2ebef"/>
<rect x="362.80" y="187.26" width="6.34" height="2.00" fill="#bed3e8"/>
<rect x="362.80" y="188.77" width="6.34" height="3.50" fill="#f3f4e6"/>
<rect x="362.80" y="191.77" width="6.34" height="2.00" fill="#e2ebef"/>
<rect x="362.80" y="193.27" width="6.34" height="2.00" fill="#f3f4e6"/>
<rect x="362.80" y="194.77" width="6.34" height="2.00" fill="#bed3e8"/>
<rect x="362.80" y="196.28" width="6.34" height="2.00" fill="#e2ebef"/>
<rect x="362.80" y="197.78" width="6.34" height="2.00" fill="#bed3e8"/>
<rect x="362.80" y="199.28" width="6.34" height="2.00" fill="#e2ebef"/>
<rect x="362.80" y="200.78" width="6.34" height="2.00" fill="#bed3e8"/>
<rect x="362.80" y="202.28" width="6.34" height="2.00" fill="#f3f4e6"/>
<rect x="362.80" y="203.79" width="6.34" height="3.50" fill="#bed3e8"/>
<rect x="362.80" y="206.79" width="6.34" height="2.00" fill="#e2ebef"/>
<rect x="362.80" y="208.29" width="6.34" height="2.00" fill="#f3f4e6"/>
<rect x="362.80" y="209.79" width="6.34" height="5.01" fill="#e2ebef"/>
<rect x="362.80" y="214.30" width="6.34" height="2.00" fill="#bed3e8"/>
<rect x="362.80" y="215.80" width="6.34" height="6.51" fill="#e2ebef"/>
<rect x="362.80" y="221.81" width="6.34" height="2.00" fill="#bed3e8"/>
<rect x="362.80" y="223.31" width="6.34" height="5.01" fill="#e2ebef"/>
<rect x="362.80" y="227.82" width="6.34" height="2.00" fill="#bed3e8"/>
<rect x="362.80" y="229.32" width="6.34" height="3.50" fill="#e2ebef"/>
<rect x="362.80" y="232.32" width="6.34" height="2.00" fill="#f3f4e6"/>
<rect x="362.80" y="233.82" width="6.34" height="2.00" fill="#e2ebef"/>
<rect x="362.80" y="235.33" width="6.34" height="2.00" fill="#f3f4e6"/>
<rect x="362.80" y="236.83" width="6.34" height="2.00" fill="#e2ebef"/>
<rect x="362.80" y="238.33" width="6.34" height="3.50" fill="#bed3e8"/>
<rect x="362.80" y="241.33" width="6.34" height="5.01" fill="#e2ebef"/>
<rect x="362.80" y="245.84" width="6.34" height="2.00" fill="#f3f4e6"/>
<rect x="362.80" y="247.34" width="6.34" height="8.01" fill="#e2ebef"/>
<rect x="362.80" y="254.85" width="6.34" height="2.00" fill="#bed3e8"/>
<rect x="362.80" y="256.35" width="6.34" height="2.00" fill="#fbf4d2"/>
<rect x="362.80" y="257.86" width="6.34" height="2.00" fill="#bed3e8"/>
<rect x="362.80" y="259.36" width="6.34" height="14.02" fill="#e2ebef"/>
<rect x="362.80" y="272.88" width="6.34" height="2.00" fill="#bed3e8"/>
<rect x="362.80" y="274.38" width="6.34" height="2.00" fill="#e2ebef"/>
<rect x="362.80" y="275.88" width="6.34" height="3.50" fill="#bed3e8"/>
<rect x="362.80" y="278.88" width="6.34" height="2.00" fill="#e2ebef"/>
<rect x="362.80" y="280.39" width="6.34" height="2.00" fill="#bed3e8"/>
<rect x="362.80" y="281.89" width="6.34" height="2.00" fill="#fcefb6"/>
<rect x="362.80" y="283.39" width="6.34" height="2.00" fill="#fce79e"/>
<rect x="362.80" y="284.89" width="6.34" height="2.00" fill="#fcefb6"/>
<rect x="362.80" y="286.39" width="6.34" height="2.00" fill="#fbf4d2"/>
<rect x="362.80" y="287.90" width="6.34" height="2.00" fill="#fce79e"/>
<rect x="362.80" y="289.40" width="6.34" height="2.00" fill="#fbf4d2"/>
<rect x="362.80" y="290.90" width="6.34" height="3.50" fill="#fcefb6"/>
<rect x="362.80" y="293.90" width="6.34" height="2.00" fill="#fce79e"/>
<rect x="362.80" y="295.41" width="6.34" height="2.00" fill="#fcefb6"/>
<rect x="362.80" y="296.91" width="6.34" height="5.01" fill="#fbf4d2"/>
<rect x="362.80" y="301.41" width="6.34" height="2.00" fill="#fce79e"/>
<rect x="362.80" y="302.92" width="6.34" height="2.00" fill="#fcefb6"/>
<rect x="362.80" y="304.42" width="6.34" height="2.00" fill="#fce79e"/>
<rect x="362.80" y="305.92" width="6.34" height="2.00" fill="#fcefb6"/>
<rect x="362.80" y="307.42" width="6.34" height="2.00" fill="#fbf4d2"/>
<rect x="362.80" y="308.92" width="6.34" height="2.00" fill="#fce79e"/>
<rect x="362.80" y="310.43" width="6.34" height="2.00" fill="#fbf4d2"/>
<rect x="362.80" y="311.93" width="6.34" height="2.00" fill="#fcefb6"/>
<rect x="362.80" y="313.43" width="6.34" height="3.50" fill="#fbf4d2"/>
<rect x="362.80" y="316.43" width="6.34" height="2.00" fill="#fcefb6"/>
<rect x="362.80" y="317.93" width="6.34" height="5.01" fill="#f8d38c"/>
<rect x="362.80" y="322.44" width="6.34" height="2.00" fill="#fbf4d2"/>
<rect x="362.80" y="323.94" width="6.34" height="2.00" fill="#fcefb6"/>
<rect x="362.80" y="325.44" width="6.34" height="2.00" fill="#f8d38c"/>
<rect x="362.80" y="326.95" width="6.34" height="2.00" fill="#fbf4d2"/>
<rect x="362.80" y="328.45" width="6.34" height="2.00" fill="#fce79e"/>
<rect x="362.80" y="329.95" width="6.34" height="2.00" fill="#f8d38c"/>
<rect x="362.80" y="331.45" width="6.34" height="2.00" fill="#fcefb6"/>
<rect x="362.80" y="332.95" width="6.34" height="3.50" fill="#fce79e"/>
<rect x="362.80" y="335.96" width="6.34" height="3.50" fill="#fcefb6"/>
<rect x="362.80" y="338.96" width="6.34" height="2.00" fill="#fce79e"/>
<rect x="362.80" y="340.46" width="6.34" height="2.00" fill="#fcefb6"/>
<rect x="362.80" y="341.97" width="6.34" height="2.00" fill="#f8d38c"/>
<rect x="362.80" y="343.47" width="6.34" height="5.01" fill="#fce79e"/>
<rect x="362.80" y="347.97" width="6.34" height="3.50" fill="#f8d38c"/>
<rect x="362.80" y="350.98" width="6.34" height="3.50" fill="#fce79e"/>
<rect x="362.80" y="353.98" width="6.34" height="3.50" fill="#fcefb6"/>
<rect x="362.80" y="356.99" width="6.34" height="3.50" fill="#f8d38c"/>
<rect x="362.80" y="359.99" width="6.34" height="2.00" fill="#fcefb6"/>
<rect x="362.80" y="361.49" width="6.34" height="2.00" fill="#eca066"/>
<rect x="362.80" y="362.99" width="6.34" height="3.50" fill="#fce79e"/>
<rect x="362.80" y="366.00" width="6.34" height="1.50" fill="#dc6a45"/>
<rect x="368.64" y="62.60" width="6.34" height="6.51" fill="#fbf4d2"/>
<rect x="368.64" y="68.61" width="6.34" height="2.00" fill="#f3f4e6"/>
<rect x="368.64" y="70.11" width="6.34" height="6.51" fill="#fbf4d2"/>
<rect x="368.64" y="76.12" width="6.34" height="2.00" fill="#bed3e8"/>
<rect x="368.64" y="77.62" width="6.34" height="2.00" fill="#e2ebef"/>
<rect x="368.64" y="79.12" width="6.34" height="2.00" fill="#fcefb6"/>
<rect x="368.64" y="80.62" width="6.34" height="2.00" fill="#fbf4d2"/>
<rect x="368.64" y="82.13" width="6.34" height="2.00" fill="#e2ebef"/>
<rect x="368.64" y="83.63" width="6.34" height="3.50" fill="#fbf4d2"/>
<rect x="368.64" y="86.63" width="6.34" height="2.00" fill="#f3f4e6"/>
<rect x="368.64" y="88.13" width="6.34" height="3.50" fill="#fcefb6"/>
<rect x="368.64" y="91.14" width="6.34" height="2.00" fill="#f3f4e6"/>
<rect x="368.64" y="92.64" width="6.34" height="2.00" fill="#fcefb6"/>
<rect x="368.64" y="94.14" width="6.34" height="2.00" fill="#bed3e8"/>
<rect x="368.64" y="95.64" width="6.34" height="3.50" fill="#fbf4d2"/>
<rect x="368.64" y="98.65" width="6.34" height="2.00" fill="#bed3e8"/>
<rect x="368.64" y="100.15" width="6.34" height="5.01" fill="#fbf4d2"/>
<rect x="368.64" y="104.66" width="6.34" height="3.50" fill="#f3f4e6"/>
<rect x="368.64" y="107.66" width="6.34" height="5.01" fill="#fbf4d2"/>
<rect x="368.64" y="112.17" width="6.34" height="2.00" fill="#8fb0d8"/>
<rect x="368.64" y="113.67" width="6.34" height="2.00" fill="#fbf4d2"/>
<rect x="368.64" y="115.17" width="6.34" height="2.00" fill="#f3f4e6"/>
<rect x="368.64" y="116.67" width="6.34" height="2.00" fill="#fbf4d2"/>
<rect x="368.64" y="118.17" width="6.34" height="3.50" fill="#fcefb6"/>
<rect x="368.64" y="121.18" width="6.34" height="2.00" fill="#fbf4d2"/>
<rect x="368.64" y="122.68" width="6.34" height="3.50" fill="#bed3e8"/>
<rect x="368.64" y="125.68" width="6.34" height="2.00" fill="#e2ebef"/>
<rect x="368.64" y="127.18" width="6.34" height="2.00" fill="#f3f4e6"/>
<rect x="368.64" y="128.69" width="6.34" height="2.00" fill="#fbf4d2"/>
<rect x="368.64" y="130.19" width="6.34" height="3.50" fill="#f3f4e6"/>
<rect x="368.64" y="133.19" width="6.34" height="2.00" fill="#fcefb6"/>
<rect x="368.64" y="134.69" width="6.34" height="2.00" fill="#e2ebef"/>
<rect x="368.64" y="136.20" width="6.34" height="2.00" fill="#fbf4d2"/>
<rect x="368.64" y="137.70" width="6.34" height="2.00" fill="#bed3e8"/>
<rect x="368.64" y="139.20" width="6.34" height="2.00" fill="#fcefb6"/>
<rect x="368.64" y="140.70" width="6.34" height="2.00" fill="#e2ebef"/>
<rect x="368.64" y="142.20" width="6.34" height="2.00" fill="#fbf4d2"/>
<rect x="368.64" y="143.71" width="6.34" height="3.50" fill="#e2ebef"/>
<rect x="368.64" y="146.71" width="6.34" height="2.00" fill="#fbf4d2"/>
<rect x="368.64" y="148.21" width="6.34" height="2.00" fill="#e2ebef"/>
<rect x="368.64" y="149.71" width="6.34" height="2.00" fill="#fbf4d2"/>
<rect x="368.64" y="151.22" width="6.34" height="2.00" fill="#fcefb6"/>
<rect x="368.64" y="152.72" width="6.34" height="2.00" fill="#fbf4d2"/>
<rect x="368.64" y="154.22" width="6.34" height="2.00" fill="#fcefb6"/>
<rect x="368.64" y="155.72" width="6.34" height="8.01" fill="#fbf4d2"/>
<rect x="368.64" y="163.23" width="6.34" height="2.00" fill="#fcefb6"/>
<rect x="368.64" y="164.73" width="6.34" height="2.00" fill="#e2ebef"/>
<rect x="368.64" y="166.24" width="6.34" height="2.00" fill="#f3f4e6"/>
<rect x="368.64" y="167.74" width="6.34" height="3.50" fill="#bed3e8"/>
<rect x="368.64" y="170.74" width="6.34" height="2.00" fill="#8fb0d8"/>
<rect x="368.64" y="172.24" width="6.34" height="3.50" fill="#bed3e8"/>
<rect x="368.64" y="175.25" width="6.34" height="3.50" fill="#8fb0d8"/>
<rect x="368.64" y="178.25" width="6.34" height="2.00" fill="#5b80bd"/>
<rect x="368.64" y="179.75" width="6.34" height="5.01" fill="#bed3e8"/>
<rect x="368.64" y="184.26" width="6.34" height="2.00" fill="#8fb0d8"/>
<rect x="368.64" y="185.76" width="6.34" height="3.50" fill="#bed3e8"/>
<rect x="368.64" y="188.77" width="6.34" height="5.01" fill="#8fb0d8"/>
<rect x="368.64" y="193.27" width="6.34" height="2.00" fill="#5b80bd"/>
<rect x="368.64" y="194.77" width="6.34" height="2.00" fill="#bed3e8"/>
<rect x="368.64" y="196.28" width="6.34" height="2.00" fill="#5b80bd"/>
<rect x="368.64" y="197.78" width="6.34" height="5.01" fill="#8fb0d8"/>
<rect x="368.64" y="202.28" width="6.34" height="2.00" fill="#5b80bd"/>
<rect x="368.64" y="203.79" width="6.34" height="2.00" fill="#8fb0d8"/>
<rect x="368.64" y="205.29" width="6.34" height="3.50" fill="#bed3e8"/>
<rect x="368.64" y="208.29" width="6.34" height="2.00" fill="#5b80bd"/>
<rect x="368.64" y="209.79" width="6.34" height="5.01" fill="#bed3e8"/>
<rect x="368.64" y="214.30" width="6.34" height="2.00" fill="#8fb0d8"/>
<rect x="368.64" y="215.80" width="6.34" height="2.00" fill="#5b80bd"/>
<rect x="368.64" y="217.30" width="6.34" height="2.00" fill="#8fb0d8"/>
<rect x="368.64" y="218.80" width="6.34" height="2.00" fill="#bed3e8"/>
<rect x="368.64" y="220.31" width="6.34" height="2.00" fill="#5b80bd"/>
<rect x="368.64" y="221.81" width="6.34" height="2.00" fill="#8fb0d8"/>
<rect x="368.64" y="223.31" width="6.34" height="2.00" fill="#bed3e8"/>
<rect x="368.64" y="224.81" width="6.34" height="3.50" fill="#5b80bd"/>
<rect x="368.64" y="227.82" width="6.34" height="2.00" fill="#8fb0d8"/>
<rect x="368.64" y="229.32" width="6.34" height="2.00" fill="#5b80bd"/>
<rect x="368.64" y="230.82" width="6.34" height="2.00" fill="#bed3e8"/>
<rect x="368.64" y="232.32" width="6.34" height="3.50" fill="#5b80bd"/>
<rect x="368.64" y="235.33" width="6.34" height="2.00" fill="#8fb0d8"/>
<rect x="368.64" y="236.83" width="6.34" height="2.00" fill="#bed3e8"/>
<rect x="368.64" y="238.33" width="6.34" height="3.50" fill="#8fb0d8"/>
<rect x="368.64" y="241.33" width="6.34" height="2.00" fill="#bed3e8"/>
<rect x="368.64" y="242.84" width="6.34" height="2.00" fill="#8fb0d8"/>
<rect x="368.64" y="244.34" width="6.34" height="2.00" fill="#5b80bd"/>
<rect x="368.64" y="245.84" width="6.34" height="2.00" fill="#8fb0d8"/>
<rect x="368.64" y="247.34" width="6.34" height="5.01" fill="#bed3e8"/>
<rect x="368.64" y="251.85" width="6.34" height="2.00" fill="#8fb0d8"/>
<rect x="368.64" y="253.35" width="6.34" height="2.00" fill="#5b80bd"/>
<rect x="368.64" y="254.85" width="6.34" height="5.01" fill="#8fb0d8"/>
<rect x="368.64" y="259.36" width="6.34" height="2.00" fill="#5b80bd"/>
<rect x="368.64" y="260.86" width="6.34" height="2.00" fill="#bed3e8"/>
<rect x="368.64" y="262.36" width="6.34" height="2.00" fill="#8fb0d8"/>
<rect x="368.64" y="263.86" width="6.34" height="3.50" fill="#bed3e8"/>
<rect x="368.64" y="266.87" width="6.34" height="3.50" fill="#8fb0d8"/>
<rect x="368.64" y="269.87" width="6.34" height="2.00" fill="#5b80bd"/>
<rect x="368.64" y="271.37" width="6.34" height="6.51" fill="#bed3e8"/>
<rect x="368.64" y="277.38" width="6.34" height="2.00" fill="#8fb0d8"/>
<rect x="368.64" y="278.88" width="6.34" height="3.50" fill="#5b80bd"/>
<rect x="368.64" y="281.89" width="6.34" height="2.00" fill="#fcefb6"/>
<rect x="368.64" y="283.39" width="6.34" height="3.50" fill="#fce79e"/>
<rect x="368.64" y="286.39" width="6.34" height="3.50" fill="#fbf4d2"/>
<rect x="368.64" y="289.40" width="6.34" height="2.00" fill="#e2ebef"/>
<rect x="368.64" y="290.90" width="6.34" height="2.00" fill="#fbf4d2"/>
<rect x="368.64" y="292.40" width="6.34" height="2.00" fill="#fcefb6"/>
<rect x="368.64" y="293.90" width="6.34" height="2.00" fill="#fce79e"/>
<rect x="368.64" y="295.41" width="6.34" height="6.51" fill="#fbf4d2"/>
<rect x="368.64" y="301.41" width="6.34" height="3.50" fill="#fce79e"/>
<rect x="368.64" y="304.42" width="6.34" height="2.00" fill="#fbf4d2"/>
<rect x="368.64" y="305.92" width="6.34" height="2.00" fill="#fce79e"/>
<rect x="368.64" y="307.42" width="6.34" height="2.00" fill="#fcefb6"/>
<rect x="368.64" y="308.92" width="6.34" height="2.00" fill="#fbf4d2"/>
<rect x="368.64" y="310.43" width="6.34" height="2.00" fill="#f8d38c"/>
<rect x="368.64" y="311.93" width="6.34" height="2.00" fill="#fcefb6"/>
<rect x="368.64" y="313.43" width="6.34" height="5.01" fill="#fbf4d2"/>
<rect x="368.64" y="317.93" width="6.34" height="2.00" fill="#fce79e"/>
<rect x="368.64" y="319.44" width="6.34" height="2.00" fill="#fcefb6"/>
<rect x="368.64" y="320.94" width="6.34" height="2.00" fill="#fce79e"/>
<rect x="368.64" y="322.44" width="6.34" height="2.00" fill="#fcefb6"/>
<rect x="368.64" y="323.94" width="6.34" height="2.00" fill="#fce79e"/>
<rect x="368.64" y="325.44" width="6.34" height="3.50" fill="#fbf4d2"/>
<rect x="368.64" y="328.45" width="6.34" height="3.50" fill="#fcefb6"/>
<rect x="368.64" y="331.45" width="6.34" height="2.00" fill="#f8d38c"/>
<rect x="368.64" y="332.95" width="6.34" height="2.00" fill="#fce79e"/>
<rect x="368.64" y="334.46" width="6.34" height="2.00" fill="#fcefb6"/>
<rect x="368.64" y="335.96" width="6.34" height="2.00" fill="#f8d38c"/>
<rect x="368.64" y="337.46" width="6.34" height="2.00" fill="#eca066"/>
<rect x="368.64" y="338.96" width="6.34" height="3.50" fill="#fce79e"/>
<rect x="368.64" y="341.97" width="6.34" height="2.00" fill="#f8d38c"/>
<rect x="368.64" y="343.47" width="6.34" height="2.00" fill="#eca066"/>
<rect x="368.64" y="344.97" width="6.34" height="2.00" fill="#fce79e"/>
<rect x="368.64" y="346.47" width="6.34" height="2.00" fill="#fcefb6"/>
<rect x="368.64" y="347.97" width="6.34" height="2.00" fill="#fce79e"/>
<rect x="368.64" y="349.48" width="6.34" height="2.00" fill="#fcefb6"/>
<rect x="368.64" y="350.98" width="6.34" height="6.51" fill="#fce79e"/>
<rect x="368.64" y="356.99" width="6.34" height="2.00" fill="#f8d38c"/>
<rect x="368.64" y="358.49" width="6.34" height="3.50" fill="#fce79e"/>
<rect x="368.64" y="361.49" width="6.34" height="2.00" fill="#eca066"/>
<rect x="368.64" y="362.99" width="6.34" height="2.00" fill="#fce79e"/>
<rect x="368.64" y="364.50" width="6.34" height="2.00" fill="#f8d38c"/>
<rect x="368.64" y="366.00" width="6.34" height="1.50" fill="#dc6a45"/>
<rect x="374.48" y="62.60" width="6.34" height="2.00" fill="#fcefb6"/>
<rect x="374.48" y="64.10" width="6.34" height="2.00" fill="#fbf4d2"/>
<rect x="374.48" y="65.60" width="6.34" height="3.50" fill="#fcefb6"/>
<rect x="374.48" y="68.61" width="6.34" height="2.00" fill="#fbf4d2"/>
<rect x="374.48" y="70.11" width="6.34" height="2.00" fill="#f3f4e6"/>
<rect x="374.48" y="71.61" width="6.34" height="2.00" fill="#fcefb6"/>
<rect x="374.48" y="73.11" width="6.34" height="3.50" fill="#fbf4d2"/>
<rect x="374.48" y="76.12" width="6.34" height="2.00" fill="#f8d38c"/>
<rect x="374.48" y="77.62" width="6.34" height="2.00" fill="#f3f4e6"/>
<rect x="374.48" y="79.12" width="6.34" height="3.50" fill="#fbf4d2"/>
<rect x="374.48" y="82.13" width="6.34" height="2.00" fill="#fcefb6"/>
<rect x="374.48" y="83.63" width="6.34" height="2.00" fill="#fbf4d2"/>
<rect x="374.48" y="85.13" width="6.34" height="2.00" fill="#f8d38c"/>
<rect x="374.48" y="86.63" width="6.34" height="2.00" fill="#f3f4e6"/>
<rect x="374.48" y="88.13" width="6.34" height="3.50" fill="#fbf4d2"/>
<rect x="374.48" y="91.14" width="6.34" height="3.50" fill="#fcefb6"/>
<rect x="374.48" y="94.14" width="6.34" height="2.00" fill="#f3f4e6"/>
<rect x="374.48" y="95.64" width="6.34" height="2.00" fill="#fbf4d2"/>
<rect x="374.48" y="97.15" width="6.34" height="2.00" fill="#fcefb6"/>
<rect x="374.48" y="98.65" width="6.34" height="2.00" fill="#fbf4d2"/>
<rect x="374.48" y="100.15" width="6.34" height="2.00" fill="#fcefb6"/>
<rect x="374.48" y="101.65" width="6.34" height="2.00" fill="#e2ebef"/>
<rect x="374.48" y="103.15" width="6.34" height="2.00" fill="#f3f4e6"/>
<rect x="374.48" y="104.66" width="6.34" height="6.51" fill="#fcefb6"/>
<rect x="374.48" y="110.66" width="6.34" height="2.00" fill="#fbf4d2"/>
<rect x="374.48" y="112.17" width="6.34" height="2.00" fill="#fce79e"/>
<rect x="374.48" y="113.67" width="6.34" height="2.00" fill="#fcefb6"/>
<rect x="374.48" y="115.17" width="6.34" height="3.50" fill="#fbf4d2"/>
<rect x="374.48" y="118.17" width="6.34" height="2.00" fill="#bed3e8"/>
<rect x="374.48" y="119.67" width="6.34" height="2.00" fill="#fcefb6"/>
<rect x="374.48" y="121.18" width="6.34" height="2.00" fill="#f3f4e6"/>
<rect x="374.48" y="122.68" width="6.34" height="2.00" fill="#e2ebef"/>
<rect x="374.48" y="124.18" width="6.34" height="2.00" fill="#fbf4d2"/>
<rect x="374.48" y="125.68" width="6.34" height="2.00" fill="#fcefb6"/>
<rect x="374.48" y="127.18" width="6.34" height="3.50" fill="#e2ebef"/>
<rect x="374.48" y="130.19" width="6.34" height="2.00" fill="#fbf4d2"/>
<rect x="374.48" y="131.69" width="6.34" height="2.00" fill="#f3f4e6"/>
<rect x="374.48" y="133.19" width="6.34" height="2.00" fill="#fcefb6"/>
<rect x="374.48" y="134.69" width="6.34" height="3.50" fill="#fbf4d2"/>
<rect x="374.48" y="137.70" width="6.34" height="2.00" fill="#fce79e"/>
<rect x="374.48" y="139.20" width="6.34" height="2.00" fill="#fbf4d2"/>
<rect x="374.48" y="140.70" width="6.34" height="2.00" fill="#f8d38c"/>
<rect x="374.48" y="142.20" width="6.34" height="2.00" fill="#fbf4d2"/>
<rect x="374.48" y="143.71" width="6.34" height="2.00" fill="#fcefb6"/>
<rect x="374.48" y="145.21" width="6.34" height="2.00" fill="#e2ebef"/>
<rect x="374.48" y="146.71" width="6.34" height="3.50" fill="#f3f4e6"/>
<rect x="374.48" y="149.71" width="6.34" height="2.00" fill="#fbf4d2"/>
<rect x="374.48" y="151.22" width="6.34" height="2.00" fill="#fcefb6"/>
<rect x="374.48" y="152.72" width="6.34" height="2.00" fill="#f3f4e6"/>
<rect x="374.48" y="154.22" width="6.34" height="2.00" fill="#fbf4d2"/>
<rect x="374.48" y="155.72" width="6.34" height="2.00" fill="#bed3e8"/>
<rect x="374.48" y="157.22" width="6.34" height="3.50" fill="#fbf4d2"/>
<rect x="374.48" y="160.23" width="6.34" height="2.00" fill="#f3f4e6"/>
<rect x="374.48" y="161.73" width="6.34" height="2.00" fill="#fbf4d2"/>
<rect x="374.48" y="163.23" width="6.34" height="3.50" fill="#fcefb6"/>
<rect x="374.48" y="166.24" width="6.34" height="2.00" fill="#fbf4d2"/>
<rect x="374.48" y="167.74" width="6.34" height="2.00" fill="#e2ebef"/>
<rect x="374.48" y="169.24" width="6.34" height="3.50" fill="#fbf4d2"/>
<rect x="374.48" y="172.24" width="6.34" height="2.00" fill="#fcefb6"/>
<rect x="374.48" y="173.75" width="6.34" height="2.00" fill="#f3f4e6"/>
<rect x="374.48" y="175.25" width="6.34" height="2.00" fill="#fbf4d2"/>
<rect x="374.48" y="176.75" width="6.34" height="2.00" fill="#f3f4e6"/>
<rect x="374.48" y="178.25" width="6.34" height="8.01" fill="#e2ebef"/>
<rect x="374.48" y="185.76" width="6.34" height="2.00" fill="#bed3e8"/>
<rect x="374.48" y="187.26" width="6.34" height="2.00" fill="#e2ebef"/>
<rect x="374.48" y="188.77" width="6.34" height="2.00" fill="#f3f4e6"/>
<rect x="374.48" y="190.27" width="6.34" height="3.50" fill="#fbf4d2"/>
<rect x="374.48" y="193.27" width="6.34" height="3.50" fill="#f3f4e6"/>
<rect x="374.48" y="196.28" width="6.34" height="3.50" fill="#e2ebef"/>
<rect x="374.48" y="199.28" width="6.34" height="3.50" fill="#f3f4e6"/>
<rect x="374.48" y="202.28" width="6.34" height="2.00" fill="#e2ebef"/>
<rect x="374.48" y="203.79" width="6.34" height="2.00" fill="#f3f4e6"/>
<rect x="374.48" y="205.29" width="6.34" height="2.00" fill="#fbf4d2"/>
<rect x="374.48" y="206.79" width="6.34" height="2.00" fill="#f3f4e6"/>
<rect x="374.48" y="208.29" width="6.34" height="2.00" fill="#fbf4d2"/>
<rect x="374.48" y="209.79" width="6.34" height="2.00" fill="#e2ebef"/>
<rect x="374.48" y="211.30" width="6.34" height="3.50" fill="#fbf4d2"/>
<rect x="374.48" y="214.30" width="6.34" height="2.00" fill="#e2ebef"/>
<rect x="374.48" y="215.80" width="6.34" height="3.50" fill="#fbf4d2"/>
<rect x="374.48" y="218.80" width="6.34" height="2.00" fill="#fcefb6"/>
<rect x="374.48" y="220.31" width="6.34" height="2.00" fill="#fbf4d2"/>
<rect x="374.48" y="221.81" width="6.34" height="11.01" fill="#f3f4e6"/>
<rect x="374.48" y="232.32" width="6.34" height="5.01" fill="#e2ebef"/>
<rect x="374.48" y="236.83" width="6.34" height="2.00" fill="#fbf4d2"/>
<rect x="374.48" y="238.33" width="6.34" height="2.00" fill="#f3f4e6"/>
<rect x="374.48" y="239.83" width="6.34" height="2.00" fill="#e2ebef"/>
<rect x="374.48" y="241.33" width="6.34" height="5.01" fill="#f3f4e6"/>
<rect x="374.48" y="245.84" width="6.34" height="2.00" fill="#e2ebef"/>
<rect x="374.48" y="247.34" width="6.34" height="2.00" fill="#fbf4d2"/>
<rect x="374.48" y="248.84" width="6.34" height="2.00" fill="#f3f4e6"/>
<rect x="374.48" y="250.35" width="6.34" height="2.00" fill="#fbf4d2"/>
<rect x="374.48" y="251.85" width="6.34" height="3.50" fill="#e2ebef"/>
<rect x="374.48" y="254.85" width="6.34" height="5.01" fill="#f3f4e6"/>
<rect x="374.48" y="259.36" width="6.34" height="2.00" fill="#fbf4d2"/>
<rect x="374.48" y="260.86" width="6.34" height="8.01" fill="#f3f4e6"/>
<rect x="374.48" y="268.37" width="6.34" height="2.00" fill="#e2ebef"/>
<rect x="374.48" y="269.87" width="6.34" height="2.00" fill="#f3f4e6"/>
<rect x="374.48" y="271.37" width="6.34" height="2.00" fill="#fbf4d2"/>
<rect x="374.48" y="272.88" width="6.34" height="5.01" fill="#f3f4e6"/>
<rect x="374.48" y="277.38" width="6.34" height="2.00" fill="#e2ebef"/>
<rect x="374.48" y="278.88" width="6.34" height="2.00" fill="#f3f4e6"/>
<rect x="374.48" y="280.39" width="6.34" height="3.50" fill="#fbf4d2"/>
<rect x="374.48" y="283.39" width="6.34" height="2.00" fill="#f3f4e6"/>
<rect x="374.48" y="284.89" width="6.34" height="2.00" fill="#e2ebef"/>
<rect x="374.48" y="286.39" width="6.34" height="2.00" fill="#fbf4d2"/>
<rect x="374.48" y="287.90" width="6.34" height="2.00" fill="#f3f4e6"/>
<rect x="374.48" y="289.40" width="6.34" height="6.51" fill="#fbf4d2"/>
<rect x="374.48" y="295.41" width="6.34" height="2.00" fill="#fcefb6"/>
<rect x="374.48" y="296.91" width="6.34" height="2.00" fill="#e2ebef"/>
<rect x="374.48" y="298.41" width="6.34" height="2.00" fill="#fbf4d2"/>
<rect x="374.48" y="299.91" width="6.34" height="2.00" fill="#e2ebef"/>
<rect x="374.48" y="301.41" width="6.34" height="2.00" fill="#fbf4d2"/>
<rect x="374.48" y="302.92" width="6.34" height="2.00" fill="#f3f4e6"/>
<rect x="374.48" y="304.42" width="6.34" height="3.50" fill="#fbf4d2"/>
<rect x="374.48" y="307.42" width="6.34" height="2.00" fill="#e2ebef"/>
<rect x="374.48" y="308.92" width="6.34" height="2.00" fill="#fbf4d2"/>
<rect x="374.48" y="310.43" width="6.34" height="8.01" fill="#f3f4e6"/>
<rect x="374.48" y="317.93" width="6.34" height="2.00" fill="#fbf4d2"/>
<rect x="374.48" y="319.44" width="6.34" height="2.00" fill="#f3f4e6"/>
<rect x="374.48" y="320.94" width="6.34" height="2.00" fill="#fbf4d2"/>
<rect x="374.48" y="322.44" width="6.34" height="2.00" fill="#bed3e8"/>
<rect x="374.48" y="323.94" width="6.34" height="3.50" fill="#fbf4d2"/>
<rect x="374.48" y="326.95" width="6.34" height="2.00" fill="#fcefb6"/>
<rect x="374.48" y="328.45" width="6.34" height="5.01" fill="#fce79e"/>
<rect x="374.48" y="332.95" width="6.34" height="6.51" fill="#fcefb6"/>
<rect x="374.48" y="338.96" width="6.34" height="2.00" fill="#fbf4d2"/>
<rect x="374.48" y="340.46" width="6.34" height="2.00" fill="#fcefb6"/>
<rect x="374.48" y="341.97" width="6.34" height="3.50" fill="#fbf4d2"/>
<rect x="374.48" y="344.97" width="6.34" height="2.00" fill="#fce79e"/>
<rect x="374.48" y="346.47" width="6.34" height="5.01" fill="#fcefb6"/>
<rect x="374.48" y="350.98" width="6.34" height="2.00" fill="#fce79e"/>
<rect x="374.48" y="352.48" width="6.34" height="2.00" fill="#f8d38c"/>
<rect x="374.48" y="353.98" width="6.34" height="2.00" fill="#fcefb6"/>
<rect x="374.48" y="355.48" width="6.34" height="3.50" fill="#fce79e"/>
<rect x="374.48" y="358.49" width="6.34" height="2.00" fill="#fbf4d2"/>
<rect x="374.48" y="359.99" width="6.34" height="2.00" fill="#fce79e"/>
<rect x="374.48" y="361.49" width="6.34" height="2.00" fill="#fcefb6"/>
<rect x="374.48" y="362.99" width="6.34" height="2.00" fill="#fce79e"/>
<rect x="374.48" y="364.50" width="6.34" height="2.00" fill="#fbf4d2"/>
<rect x="374.48" y="366.00" width="6.34" height="1.50" fill="#fcefb6"/>
<rect x="380.32" y="62.60" width="6.34" height="2.00" fill="#fbf4d2"/>
<rect x="380.32" y="64.10" width="6.34" height="2.00" fill="#e2ebef"/>
<rect x="380.32" y="65.60" width="6.34" height="3.50" fill="#fbf4d2"/>
<rect x="380.32" y="68.61" width="6.34" height="2.00" fill="#f3f4e6"/>
<rect x="380.32" y="70.11" width="6.34" height="6.51" fill="#fbf4d2"/>
<rect x="380.32" y="76.12" width="6.34" height="2.00" fill="#eca066"/>
<rect x="380.32" y="77.62" width="6.34" height="2.00" fill="#fcefb6"/>
<rect x="380.32" y="79.12" width="6.34" height="2.00" fill="#eca066"/>
<rect x="380.32" y="80.62" width="6.34" height="2.00" fill="#bed3e8"/>
<rect x="380.32" y="82.13" width="6.34" height="3.50" fill="#fbf4d2"/>
<rect x="380.32" y="85.13" width="6.34" height="2.00" fill="#fce79e"/>
<rect x="380.32" y="86.63" width="6.34" height="6.51" fill="#fbf4d2"/>
<rect x="380.32" y="92.64" width="6.34" height="2.00" fill="#f3f4e6"/>
<rect x="380.32" y="94.14" width="6.34" height="2.00" fill="#bed3e8"/>
<rect x="380.32" y="95.64" width="6.34" height="2.00" fill="#fbf4d2"/>
<rect x="380.32" y="97.15" width="6.34" height="2.00" fill="#f3f4e6"/>
<rect x="380.32" y="98.65" width="6.34" height="5.01" fill="#fbf4d2"/>
<rect x="380.32" y="103.15" width="6.34" height="2.00" fill="#f3f4e6"/>
<rect x="380.32" y="104.66" width="6.34" height="2.00" fill="#fbf4d2"/>
<rect x="380.32" y="106.16" width="6.34" height="2.00" fill="#f3f4e6"/>
<rect x="380.32" y="107.66" width="6.34" height="2.00" fill="#fce79e"/>
<rect x="380.32" y="109.16" width="6.34" height="3.50" fill="#fcefb6"/>
<rect x="380.32" y="112.17" width="6.34" height="6.51" fill="#fbf4d2"/>
<rect x="380.32" y="118.17" width="6.34" height="2.00" fill="#f8d38c"/>
<rect x="380.32" y="119.67" width="6.34" height="2.00" fill="#fcefb6"/>
<rect x="380.32" y="121.18" width="6.34" height="3.50" fill="#f3f4e6"/>
<rect x="380.32" y="124.18" width="6.34" height="3.50" fill="#fbf4d2"/>
<rect x="380.32" y="127.18" width="6.34" height="2.00" fill="#fcefb6"/>
<rect x="380.32" y="128.69" width="6.34" height="3.50" fill="#fbf4d2"/>
<rect x="380.32" y="131.69" width="6.34" height="2.00" fill="#e2ebef"/>
<rect x="380.32" y="133.19" width="6.34" height="3.50" fill="#bed3e8"/>
<rect x="380.32" y="136.20" width="6.34" height="2.00" fill="#e2ebef"/>
<rect x="380.32" y="137.70" width="6.34" height="2.00" fill="#fcefb6"/>
<rect x="380.32" y="139.20" width="6.34" height="2.00" fill="#fbf4d2"/>
<rect x="380.32" y="140.70" width="6.34" height="2.00" fill="#f3f4e6"/>
<rect x="380.32" y="142.20" width="6.34" height="2.00" fill="#fce79e"/>
<rect x="380.32" y="143.71" width="6.34" height="2.00" fill="#dc6a45"/>
<rect x="380.32" y="145.21" width="6.34" height="2.00" fill="#f3f4e6"/>
<rect x="380.32" y="146.71" width="6.34" height="2.00" fill="#f8d38c"/>
<rect x="380.32" y="148.21" width="6.34" height="3.50" fill="#eca066"/>
<rect x="380.32" y="151.22" width="6.34" height="2.00" fill="#fbf4d2"/>
<rect x="380.32" y="152.72" width="6.34" height="3.50" fill="#fce79e"/>
<rect x="380.32" y="155.72" width="6.34" height="2.00" fill="#f8d38c"/>
<rect x="380.32" y="157.22" width="6.34" height="3.50" fill="#fcefb6"/>
<rect x="380.32" y="160.23" width="6.34" height="2.00" fill="#f8d38c"/>
<rect x="380.32" y="161.73" width="6.34" height="2.00" fill="#fce79e"/>
<rect x="380.32" y="163.23" width="6.34" height="2.00" fill="#fcefb6"/>
<rect x="380.32" y="164.73" width="6.34" height="2.00" fill="#fbf4d2"/>
<rect x="380.32" y="166.24" width="6.34" height="2.00" fill="#f8d38c"/>
<rect x="380.32" y="167.74" width="6.34" height="5.01" fill="#fcefb6"/>
<rect x="380.32" y="172.24" width="6.34" height="2.00" fill="#fbf4d2"/>
<rect x="380.32" y="173.75" width="6.34" height="2.00" fill="#fce79e"/>
<rect x="380.32" y="175.25" width="6.34" height="2.00" fill="#fbf4d2"/>
<rect x="380.32" y="176.75" width="6.34" height="2.00" fill="#fcefb6"/>
<rect x="380.32" y="178.25" width="6.34" height="2.00" fill="#fbf4d2"/>
<rect x="380.32" y="179.75" width="6.34" height="2.00" fill="#fcefb6"/>
<rect x="380.32" y="181.26" width="6.34" height="2.00" fill="#dc6a45"/>
<rect x="380.32" y="182.76" width="6.34" height="2.00" fill="#fce79e"/>
<rect x="380.32" y="184.26" width="6.34" height="5.01" fill="#fcefb6"/>
<rect x="380.32" y="188.77" width="6.34" height="2.00" fill="#fbf4d2"/>
<rect x="380.32" y="190.27" width="6.34" height="2.00" fill="#fce79e"/>
<rect x="380.32" y="191.77" width="6.34" height="2.00" fill="#f8d38c"/>
<rect x="380.32" y="193.27" width="6.34" height="2.00" fill="#fbf4d2"/>
<rect x="380.32" y="194.77" width="6.34" height="2.00" fill="#fcefb6"/>
<rect x="380.32" y="196.28" width="6.34" height="2.00" fill="#f8d38c"/>
<rect x="380.32" y="197.78" width="6.34" height="2.00" fill="#f3f4e6"/>
<rect x="380.32" y="199.28" width="6.34" height="2.00" fill="#fce79e"/>
<rect x="380.32" y="200.78" width="6.34" height="5.01" fill="#fbf4d2"/>
<rect x="380.32" y="205.29" width="6.34" height="3.50" fill="#fce79e"/>
<rect x="380.32" y="208.29" width="6.34" height="2.00" fill="#fcefb6"/>
<rect x="380.32" y="209.79" width="6.34" height="2.00" fill="#fce79e"/>
<rect x="380.32" y="211.30" width="6.34" height="3.50" fill="#fcefb6"/>
<rect x="380.32" y="214.30" width="6.34" height="5.01" fill="#fce79e"/>
<rect x="380.32" y="218.80" width="6.34" height="2.00" fill="#fbf4d2"/>
<rect x="380.32" y="220.31" width="6.34" height="2.00" fill="#fce79e"/>
<rect x="380.32" y="221.81" width="6.34" height="2.00" fill="#f8d38c"/>
<rect x="380.32" y="223.31" width="6.34" height="2.00" fill="#fcefb6"/>
<rect x="380.32" y="224.81" width="6.34" height="2.00" fill="#fbf4d2"/>
<rect x="380.32" y="226.31" width="6.34" height="3.50" fill="#fce79e"/>
<rect x="380.32" y="229.32" width="6.34" height="2.00" fill="#dc6a45"/>
<rect x="380.32" y="230.82" width="6.34" height="2.00" fill="#eca066"/>
<rect x="380.32" y="232.32" width="6.34" height="2.00" fill="#fce79e"/>
<rect x="380.32" y="233.82" width="6.34" height="2.00" fill="#f8d38c"/>
<rect x="380.32" y="235.33" width="6.34" height="2.00" fill="#fce79e"/>
<rect x="380.32" y="236.83" width="6.34" height="2.00" fill="#f8d38c"/>
<rect x="380.32" y="238.33" width="6.34" height="2.00" fill="#fbf4d2"/>
<rect x="380.32" y="239.83" width="6.34" height="2.00" fill="#fce79e"/>
<rect x="380.32" y="241.33" width="6.34" height="2.00" fill="#f8d38c"/>
<rect x="380.32" y="242.84" width="6.34" height="2.00" fill="#fce79e"/>
<rect x="380.32" y="244.34" width="6.34" height="2.00" fill="#fcefb6"/>
<rect x="380.32" y="245.84" width="6.34" height="2.00" fill="#f8d38c"/>
<rect x="380.32" y="247.34" width="6.34" height="5.01" fill="#fce79e"/>
<rect x="380.32" y="251.85" width="6.34" height="5.01" fill="#f8d38c"/>
<rect x="380.32" y="256.35" width="6.34" height="5.01" fill="#fcefb6"/>
<rect x="380.32" y="260.86" width="6.34" height="2.00" fill="#f8d38c"/>
<rect x="380.32" y="262.36" width="6.34" height="2.00" fill="#fcefb6"/>
<rect x="380.32" y="263.86" width="6.34" height="2.00" fill="#f8d38c"/>
<rect x="380.32" y="265.37" width="6.34" height="5.01" fill="#fce79e"/>
<rect x="380.32" y="269.87" width="6.34" height="3.50" fill="#fcefb6"/>
<rect x="380.32" y="272.88" width="6.34" height="2.00" fill="#f8d38c"/>
<rect x="380.32" y="274.38" width="6.34" height="2.00" fill="#fce79e"/>
<rect x="380.32" y="275.88" width="6.34" height="2.00" fill="#fcefb6"/>
<rect x="380.32" y="277.38" width="6.34" height="2.00" fill="#fce79e"/>
<rect x="380.32" y="278.88" width="6.34" height="2.00" fill="#fcefb6"/>
<rect x="380.32" y="280.39" width="6.34" height="2.00" fill="#f8d38c"/>
<rect x="380.32" y="281.89" width="6.34" height="3.50" fill="#fbf4d2"/>
<rect x="380.32" y="284.89" width="6.34" height="2.00" fill="#f8d38c"/>
<rect x="380.32" y="286.39" width="6.34" height="3.50" fill="#fbf4d2"/>
<rect x="380.32" y="289.40" width="6.34" height="2.00" fill="#bed3e8"/>
<rect x="380.32" y="290.90" width="6.34" height="2.00" fill="#dc6a45"/>
<rect x="380.32" y="292.40" width="6.34" height="2.00" fill="#eca066"/>
<rect x="380.32" y="293.90" width="6.34" height="2.00" fill="#bed3e8"/>
<rect x="380.32" y="295.41" width="6.34" height="3.50" fill="#f3f4e6"/>
<rect x="380.32" y="298.41" width="6.34" height="2.00" fill="#e2ebef"/>
<rect x="380.32" y="299.91" width="6.34" height="2.00" fill="#5b80bd"/>
<rect x="380.32" y="301.41" width="6.34" height="2.00" fill="#f3f4e6"/>
<rect x="380.32" y="302.92" width="6.34" height="2.00" fill="#fbf4d2"/>
<rect x="380.32" y="304.42" width="6.34" height="2.00" fill="#f3f4e6"/>
<rect x="380.32" y="305.92" width="6.34" height="2.00" fill="#e2ebef"/>
<rect x="380.32" y="307.42" width="6.34" height="2.00" fill="#fce79e"/>
<rect x="380.32" y="308.92" width="6.34" height="2.00" fill="#f3f4e6"/>
<rect x="380.32" y="310.43" width="6.34" height="2.00" fill="#bed3e8"/>
<rect x="380.32" y="311.93" width="6.34" height="2.00" fill="#fbf4d2"/>
<rect x="380.32" y="313.43" width="6.34" height="2.00" fill="#e2ebef"/>
<rect x="380.32" y="314.93" width="6.34" height="2.00" fill="#fcefb6"/>
<rect x="380.32" y="316.43" width="6.34" height="2.00" fill="#fbf4d2"/>
<rect x="380.32" y="317.93" width="6.34" height="2.00" fill="#fcefb6"/>
<rect x="380.32" y="319.44" width="6.34" height="3.50" fill="#f3f4e6"/>
<rect x="380.32" y="322.44" width="6.34" height="2.00" fill="#fbf4d2"/>
<rect x="380.32" y="323.94" width="6.34" height="2.00" fill="#f3f4e6"/>
<rect x="380.32" y="325.44" width="6.34" height="2.00" fill="#f8d38c"/>
<rect x="380.32" y="326.95" width="6.34" height="2.00" fill="#fbf4d2"/>
<rect x="380.32" y="328.45" width="6.34" height="3.50" fill="#f3f4e6"/>
<rect x="380.32" y="331.45" width="6.34" height="2.00" fill="#fbf4d2"/>
<rect x="380.32" y="332.95" width="6.34" height="3.50" fill="#f3f4e6"/>
<rect x="380.32" y="335.96" width="6.34" height="2.00" fill="#e2ebef"/>
<rect x="380.32" y="337.46" width="6.34" height="2.00" fill="#5b80bd"/>
<rect x="380.32" y="338.96" width="6.34" height="2.00" fill="#e2ebef"/>
<rect x="380.32" y="340.46" width="6.34" height="3.50" fill="#f3f4e6"/>
<rect x="380.32" y="343.47" width="6.34" height="2.00" fill="#bed3e8"/>
<rect x="380.32" y="344.97" width="6.34" height="2.00" fill="#e2ebef"/>
<rect x="380.32" y="346.47" width="6.34" height="2.00" fill="#fbf4d2"/>
<rect x="380.32" y="347.97" width="6.34" height="2.00" fill="#f3f4e6"/>
<rect x="380.32" y="349.48" width="6.34" height="2.00" fill="#bed3e8"/>
<rect x="380.32" y="350.98" width="6.34" height="3.50" fill="#e2ebef"/>
<rect x="380.32" y="353.98" width="6.34" height="2.00" fill="#8fb0d8"/>
<rect x="380.32" y="355.48" width="6.34" height="2.00" fill="#f3f4e6"/>
<rect x="380.32" y="356.99" width="6.34" height="2.00" fill="#bed3e8"/>
<rect x="380.32" y="358.49" width="6.34" height="6.51" fill="#e2ebef"/>
<rect x="380.32" y="364.50" width="6.34" height="2.00" fill="#fbf4d2"/>
<rect x="380.32" y="366.00" width="6.34" height="1.50" fill="#8fb0d8"/>
<rect x="386.16" y="62.60" width="6.34" height="2.00" fill="#fcefb6"/>
<rect x="386.16" y="64.10" width="6.34" height="3.50" fill="#fbf4d2"/>
<rect x="386.16" y="67.11" width="6.34" height="3.50" fill="#fcefb6"/>
<rect x="386.16" y="70.11" width="6.34" height="3.50" fill="#fbf4d2"/>
<rect x="386.16" y="73.11" width="6.34" height="2.00" fill="#fcefb6"/>
<rect x="386.16" y="74.62" width="6.34" height="2.00" fill="#fbf4d2"/>
<rect x="386.16" y="76.12" width="6.34" height="2.00" fill="#eca066"/>
<rect x="386.16" y="77.62" width="6.34" height="2.00" fill="#fcefb6"/>
<rect x="386.16" y="79.12" width="6.34" height="3.50" fill="#fbf4d2"/>
<rect x="386.16" y="82.13" width="6.34" height="2.00" fill="#fcefb6"/>
<rect x="386.16" y="83.63" width="6.34" height="2.00" fill="#fbf4d2"/>
<rect x="386.16" y="85.13" width="6.34" height="3.50" fill="#fcefb6"/>
<rect x="386.16" y="88.13" width="6.34" height="2.00" fill="#fbf4d2"/>
<rect x="386.16" y="89.64" width="6.34" height="3.50" fill="#e2ebef"/>
<rect x="386.16" y="92.64" width="6.34" height="2.00" fill="#fbf4d2"/>
<rect x="386.16" y="94.14" width="6.34" height="2.00" fill="#bed3e8"/>
<rect x="386.16" y="95.64" width="6.34" height="3.50" fill="#fcefb6"/>
<rect x="386.16" y="98.65" width="6.34" height="3.50" fill="#fbf4d2"/>
<rect x="386.16" y="101.65" width="6.34" height="5.01" fill="#fcefb6"/>
<rect x="386.16" y="106.16" width="6.34" height="2.00" fill="#fbf4d2"/>
<rect x="386.16" y="107.66" width="6.34" height="2.00" fill="#f8d38c"/>
<rect x="386.16" y="109.16" width="6.34" height="3.50" fill="#fbf4d2"/>
<rect x="386.16" y="112.17" width="6.34" height="3.50" fill="#fcefb6"/>
<rect x="386.16" y="115.17" width="6.34" height="2.00" fill="#fbf4d2"/>
<rect x="386.16" y="116.67" width="6.34" height="2.00" fill="#fcefb6"/>
<rect x="386.16" y="118.17" width="6.34" height="2.00" fill="#fbf4d2"/>
<rect x="386.16" y="119.67" width="6.34" height="2.00" fill="#e2ebef"/>
<rect x="386.16" y="121.18" width="6.34" height="2.00" fill="#fbf4d2"/>
<rect x="386.16" y="122.68" width="6.34" height="2.00" fill="#f3f4e6"/>
<rect x="386.16" y="124.18" width="6.34" height="8.01" fill="#fbf4d2"/>
<rect x="386.16" y="131.69" width="6.34" height="2.00" fill="#f3f4e6"/>
<rect x="386.16" y="133.19" width="6.34" height="5.01" fill="#fbf4d2"/>
<rect x="386.16" y="137.70" width="6.34" height="2.00" fill="#f8d38c"/>
<rect x="386.16" y="139.20" width="6.34" height="2.00" fill="#fcefb6"/>
<rect x="386.16" y="140.70" width="6.34" height="2.00" fill="#f8d38c"/>
<rect x="386.16" y="142.20" width="6.34" height="2.00" fill="#e2ebef"/>
<rect x="386.16" y="143.71" width="6.34" height="5.01" fill="#fbf4d2"/>
<rect x="386.16" y="148.21" width="6.34" height="2.00" fill="#fcefb6"/>
<rect x="386.16" y="149.71" width="6.34" height="2.00" fill="#f3f4e6"/>
<rect x="386.16" y="151.22" width="6.34" height="2.00" fill="#e2ebef"/>
<rect x="386.16" y="152.72" width="6.34" height="2.00" fill="#fce79e"/>
<rect x="386.16" y="154.22" width="6.34" height="2.00" fill="#f3f4e6"/>
<rect x="386.16" y="155.72" width="6.34" height="2.00" fill="#dc6a45"/>
<rect x="386.16" y="157.22" width="6.34" height="2.00" fill="#fbf4d2"/>
<rect x="386.16" y="158.73" width="6.34" height="2.00" fill="#fce79e"/>
<rect x="386.16" y="160.23" width="6.34" height="2.00" fill="#e2ebef"/>
<rect x="386.16" y="161.73" width="6.34" height="2.00" fill="#fcefb6"/>
<rect x="386.16" y="163.23" width="6.34" height="2.00" fill="#fbf4d2"/>
<rect x="386.16" y="164.73" width="6.34" height="2.00" fill="#fce79e"/>
<rect x="386.16" y="166.24" width="6.34" height="3.50" fill="#fcefb6"/>
<rect x="386.16" y="169.24" width="6.34" height="2.00" fill="#f8d38c"/>
<rect x="386.16" y="170.74" width="6.34" height="2.00" fill="#fbf4d2"/>
<rect x="386.16" y="172.24" width="6.34" height="5.01" fill="#fcefb6"/>
<rect x="386.16" y="176.75" width="6.34" height="2.00" fill="#fce79e"/>
<rect x="386.16" y="178.25" width="6.34" height="2.00" fill="#f3f4e6"/>
<rect x="386.16" y="179.75" width="6.34" height="3.50" fill="#fcefb6"/>
<rect x="386.16" y="182.76" width="6.34" height="2.00" fill="#f8d38c"/>
<rect x="386.16" y="184.26" width="6.34" height="2.00" fill="#bed3e8"/>
<rect x="386.16" y="185.76" width="6.34" height="2.00" fill="#fcefb6"/>
<rect x="386.16" y="187.26" width="6.34" height="3.50" fill="#f8d38c"/>
<rect x="386.16" y="190.27" width="6.34" height="2.00" fill="#fce79e"/>
<rect x="386.16" y="191.77" width="6.34" height="3.50" fill="#fbf4d2"/>
<rect x="386.16" y="194.77" width="6.34" height="2.00" fill="#f3f4e6"/>
<rect x="386.16" y="196.28" width="6.34" height="2.00" fill="#f8d38c"/>
<rect x="386.16" y="197.78" width="6.34" height="3.50" fill="#fcefb6"/>
<rect x="386.16" y="200.78" width="6.34" height="2.00" fill="#fce79e"/>
<rect x="386.16" y="202.28" width="6.34" height="5.01" fill="#fbf4d2"/>
<rect x="386.16" y="206.79" width="6.34" height="2.00" fill="#fcefb6"/>
<rect x="386.16" y="208.29" width="6.34" height="2.00" fill="#fbf4d2"/>
<rect x="386.16" y="209.79" width="6.34" height="3.50" fill="#fce79e"/>
<rect x="386.16" y="212.80" width="6.34" height="2.00" fill="#fbf4d2"/>
<rect x="386.16" y="214.30" width="6.34" height="3.50" fill="#fce79e"/>
<rect x="386.16" y="217.30" width="6.34" height="2.00" fill="#f8d38c"/>
<rect x="386.16" y="218.80" width="6.34" height="9.51" fill="#fcefb6"/>
<rect x="386.16" y="227.82" width="6.34" height="2.00" fill="#fce79e"/>
<rect x="386.16" y="229.32" width="6.34" height="3.50" fill="#fcefb6"/>
<rect x="386.16" y="232.32" width="6.34" height="2.00" fill="#fce79e"/>
<rect x="386.16" y="233.82" width="6.34" height="2.00" fill="#eca066"/>
<rect x="386.16" y="235.33" width="6.34" height="2.00" fill="#fcefb6"/>
<rect x="386.16" y="236.83" width="6.34" height="2.00" fill="#f8d38c"/>
<rect x="386.16" y="238.33" width="6.34" height="2.00" fill="#fce79e"/>
<rect x="386.16" y="239.83" width="6.34" height="2.00" fill="#fbf4d2"/>
<rect x="386.16" y="241.33" width="6.34" height="2.00" fill="#fcefb6"/>
<rect x="386.16" y="242.84" width="6.34" height="8.01" fill="#fce79e"/>
<rect x="386.16" y="250.35" width="6.34" height="5.01" fill="#fbf4d2"/>
<rect x="386.16" y="254.85" width="6.34" height="5.01" fill="#fcefb6"/>
<rect x="386.16" y="259.36" width="6.34" height="2.00" fill="#f8d38c"/>
<rect x="386.16" y="260.86" width="6.34" height="2.00" fill="#fce79e"/>
<rect x="386.16" y="262.36" width="6.34" height="3.50" fill="#fcefb6"/>
<rect x="386.16" y="265.37" width="6.34" height="2.00" fill="#fce79e"/>
<rect x="386.16" y="266.87" width="6.34" height="2.00" fill="#eca066"/>
<rect x="386.16" y="268.37" width="6.34" height="2.00" fill="#fce79e"/>
<rect x="386.16" y="269.87" width="6.34" height="3.50" fill="#fcefb6"/>
<rect x="386.16" y="272.88" width="6.34" height="3.50" fill="#f8d38c"/>
<rect x="386.16" y="275.88" width="6.34" height="2.00" fill="#eca066"/>
<rect x="386.16" y="277.38" width="6.34" height="2.00" fill="#f8d38c"/>
<rect x="386.16" y="278.88" width="6.34" height="2.00" fill="#fbf4d2"/>
<rect x="386.16" y="280.39" width="6.34" height="2.00" fill="#fcefb6"/>
<rect x="386.16" y="281.89" width="6.34" height="2.00" fill="#e2ebef"/>
<rect x="386.16" y="283.39" width="6.34" height="3.50" fill="#fbf4d2"/>
<rect x="386.16" y="286.39" width="6.34" height="2.00" fill="#f3f4e6"/>
<rect x="386.16" y="287.90" width="6.34" height="2.00" fill="#fbf4d2"/>
<rect x="386.16" y="289.40" width="6.34" height="2.00" fill="#e2ebef"/>
<rect x="386.16" y="290.90" width="6.34" height="6.51" fill="#fbf4d2"/>
<rect x="386.16" y="296.91" width="6.34" height="2.00" fill="#f3f4e6"/>
<rect x="386.16" y="298.41" width="6.34" height="2.00" fill="#fbf4d2"/>
<rect x="386.16" y="299.91" width="6.34" height="2.00" fill="#f8d38c"/>
<rect x="386.16" y="301.41" width="6.34" height="2.00" fill="#e2ebef"/>
<rect x="386.16" y="302.92" width="6.34" height="2.00" fill="#f3f4e6"/>
<rect x="386.16" y="304.42" width="6.34" height="3.50" fill="#fbf4d2"/>
<rect x="386.16" y="307.42" width="6.34" height="2.00" fill="#e2ebef"/>
<rect x="386.16" y="308.92" width="6.34" height="2.00" fill="#f3f4e6"/>
<rect x="386.16" y="310.43" width="6.34" height="2.00" fill="#bed3e8"/>
<rect x="386.16" y="311.93" width="6.34" height="2.00" fill="#f3f4e6"/>
<rect x="386.16" y="313.43" width="6.34" height="3.50" fill="#fbf4d2"/>
<rect x="386.16" y="316.43" width="6.34" height="2.00" fill="#e2ebef"/>
<rect x="386.16" y="317.93" width="6.34" height="2.00" fill="#fbf4d2"/>
<rect x="386.16" y="319.44" width="6.34" height="2.00" fill="#e2ebef"/>
<rect x="386.16" y="320.94" width="6.34" height="3.50" fill="#fbf4d2"/>
<rect x="386.16" y="323.94" width="6.34" height="2.00" fill="#fcefb6"/>
<rect x="386.16" y="325.44" width="6.34" height="2.00" fill="#f3f4e6"/>
<rect x="386.16" y="326.95" width="6.34" height="2.00" fill="#f8d38c"/>
<rect x="386.16" y="328.45" width="6.34" height="2.00" fill="#bed3e8"/>
<rect x="386.16" y="329.95" width="6.34" height="2.00" fill="#e2ebef"/>
<rect x="386.16" y="331.45" width="6.34" height="2.00" fill="#f3f4e6"/>
<rect x="386.16" y="332.95" width="6.34" height="2.00" fill="#fbf4d2"/>
<rect x="386.16" y="334.46" width="6.34" height="2.00" fill="#f3f4e6"/>
<rect x="386.16" y="335.96" width="6.34" height="2.00" fill="#e2ebef"/>
<rect x="386.16" y="337.46" width="6.34" height="2.00" fill="#fce79e"/>
<rect x="386.16" y="338.96" width="6.34" height="2.00" fill="#e2ebef"/>
<rect x="386.16" y="340.46" width="6.34" height="2.00" fill="#fce79e"/>
<rect x="386.16" y="341.97" width="6.34" height="3.50" fill="#f3f4e6"/>
<rect x="386.16" y="344.97" width="6.34" height="2.00" fill="#fce79e"/>
<rect x="386.16" y="346.47" width="6.34" height="2.00" fill="#f3f4e6"/>
<rect x="386.16" y="347.97" width="6.34" height="2.00" fill="#e2ebef"/>
<rect x="386.16" y="349.48" width="6.34" height="2.00" fill="#f3f4e6"/>
<rect x="386.16" y="350.98" width="6.34" height="3.50" fill="#e2ebef"/>
<rect x="386.16" y="353.98" width="6.34" height="2.00" fill="#f3f4e6"/>
<rect x="386.16" y="355.48" width="6.34" height="2.00" fill="#e2ebef"/>
<rect x="386.16" y="356.99" width="6.34" height="2.00" fill="#fce79e"/>
<rect x="386.16" y="358.49" width="6.34" height="3.50" fill="#e2ebef"/>
<rect x="386.16" y="361.49" width="6.34" height="2.00" fill="#f3f4e6"/>
<rect x="386.16" y="362.99" width="6.34" height="3.50" fill="#e2ebef"/>
<rect x="386.16" y="366.00" width="6.34" height="1.50" fill="#bed3e8"/>
<rect x="392.00" y="62.60" width="6.34" height="2.00" fill="#fbf4d2"/>
<rect x="392.00" y="64.10" width="6.34" height="2.00" fill="#fcefb6"/>
<rect x="392.00" y="65.60" width="6.34" height="2.00" fill="#f3f4e6"/>
<rect x="392.00" y="67.11" width="6.34" height="2.00" fill="#fbf4d2"/>
<rect x="392.00" y="68.61" width="6.34" height="2.00" fill="#e2ebef"/>
<rect x="392.00" y="70.11" width="6.34" height="3.50" fill="#f3f4e6"/>
<rect x="392.00" y="73.11" width="6.34" height="3.50" fill="#fbf4d2"/>
<rect x="392.00" y="76.12" width="6.34" height="3.50" fill="#e2ebef"/>
<rect x="392.00" y="79.12" width="6.34" height="2.00" fill="#fbf4d2"/>
<rect x="392.00" y="80.62" width="6.34" height="2.00" fill="#f3f4e6"/>
<rect x="392.00" y="82.13" width="6.34" height="2.00" fill="#fbf4d2"/>
<rect x="392.00" y="83.63" width="6.34" height="2.00" fill="#fcefb6"/>
<rect x="392.00" y="85.13" width="6.34" height="3.50" fill="#f3f4e6"/>
<rect x="392.00" y="88.13" width="6.34" height="2.00" fill="#fbf4d2"/>
<rect x="392.00" y="89.64" width="6.34" height="3.50" fill="#f3f4e6"/>
<rect x="392.00" y="92.64" width="6.34" height="2.00" fill="#fbf4d2"/>
<rect x="392.00" y="94.14" width="6.34" height="6.51" fill="#f3f4e6"/>
<rect x="392.00" y="100.15" width="6.34" height="2.00" fill="#fbf4d2"/>
<rect x="392.00" y="101.65" width="6.34" height="2.00" fill="#e2ebef"/>
<rect x="392.00" y="103.15" width="6.34" height="6.51" fill="#fbf4d2"/>
<rect x="392.00" y="109.16" width="6.34" height="3.50" fill="#f3f4e6"/>
<rect x="392.00" y="112.17" width="6.34" height="2.00" fill="#fbf4d2"/>
<rect x="392.00" y="113.67" width="6.34" height="2.00" fill="#f3f4e6"/>
<rect x="392.00" y="115.17" width="6.34" height="2.00" fill="#fbf4d2"/>
<rect x="392.00" y="116.67" width="6.34" height="2.00" fill="#fcefb6"/>
<rect x="392.00" y="118.17" width="6.34" height="5.01" fill="#fbf4d2"/>
<rect x="392.00" y="122.68" width="6.34" height="5.01" fill="#f3f4e6"/>
<rect x="392.00" y="127.18" width="6.34" height="2.00" fill="#fbf4d2"/>
<rect x="392.00" y="128.69" width="6.34" height="2.00" fill="#f3f4e6"/>
<rect x="392.00" y="130.19" width="6.34" height="2.00" fill="#fcefb6"/>
<rect x="392.00" y="131.69" width="6.34" height="3.50" fill="#fbf4d2"/>
<rect x="392.00" y="134.69" width="6.34" height="2.00" fill="#f3f4e6"/>
<rect x="392.00" y="136.20" width="6.34" height="2.00" fill="#fbf4d2"/>
<rect x="392.00" y="137.70" width="6.34" height="2.00" fill="#f8d38c"/>
<rect x="392.00" y="139.20" width="6.34" height="5.01" fill="#fbf4d2"/>
<rect x="392.00" y="143.71" width="6.34" height="2.00" fill="#fcefb6"/>
<rect x="392.00" y="145.21" width="6.34" height="2.00" fill="#fce79e"/>
<rect x="392.00" y="146.71" width="6.34" height="5.01" fill="#fbf4d2"/>
<rect x="392.00" y="151.22" width="6.34" height="2.00" fill="#f3f4e6"/>
<rect x="392.00" y="152.72" width="6.34" height="2.00" fill="#fce79e"/>
<rect x="392.00" y="154.22" width="6.34" height="2.00" fill="#f3f4e6"/>
<rect x="392.00" y="155.72" width="6.34" height="2.00" fill="#bed3e8"/>
<rect x="392.00" y="157.22" width="6.34" height="2.00" fill="#fbf4d2"/>
<rect x="392.00" y="158.73" width="6.34" height="2.00" fill="#fcefb6"/>
<rect x="392.00" y="160.23" width="6.34" height="2.00" fill="#fbf4d2"/>
<rect x="392.00" y="161.73" width="6.34" height="2.00" fill="#fcefb6"/>
<rect x="392.00" y="163.23" width="6.34" height="2.00" fill="#f3f4e6"/>
<rect x="392.00" y="164.73" width="6.34" height="3.50" fill="#fbf4d2"/>
<rect x="392.00" y="167.74" width="6.34" height="2.00" fill="#fce79e"/>
<rect x="392.00" y="169.24" width="6.34" height="2.00" fill="#fbf4d2"/>
<rect x="392.00" y="170.74" width="6.34" height="3.50" fill="#fcefb6"/>
<rect x="392.00" y="173.75" width="6.34" height="2.00" fill="#fce79e"/>
<rect x="392.00" y="175.25" width="6.34" height="2.00" fill="#f8d38c"/>
<rect x="392.00" y="176.75" width="6.34" height="3.50" fill="#fbf4d2"/>
<rect x="392.00" y="179.75" width="6.34" height="2.00" fill="#fcefb6"/>
<rect x="392.00" y="181.26" width="6.34" height="2.00" fill="#e2ebef"/>
<rect x="392.00" y="182.76" width="6.34" height="2.00" fill="#fcefb6"/>
<rect x="392.00" y="184.26" width="6.34" height="2.00" fill="#fce79e"/>
<rect x="392.00" y="185.76" width="6.34" height="2.00" fill="#fcefb6"/>
<rect x="392.00" y="187.26" width="6.34" height="5.01" fill="#fbf4d2"/>
<rect x="392.00" y="191.77" width="6.34" height="2.00" fill="#fce79e"/>
<rect x="392.00" y="193.27" width="6.34" height="2.00" fill="#fcefb6"/>
<rect x="392.00" y="194.77" width="6.34" height="2.00" fill="#fbf4d2"/>
<rect x="392.00" y="196.28" width="6.34" height="2.00" fill="#e2ebef"/>
<rect x="392.00" y="197.78" width="6.34" height="2.00" fill="#fce79e"/>
<rect x="392.00" y="199.28" width="6.34" height="2.00" fill="#eca066"/>
<rect x="392.00" y="200.78" width="6.34" height="3.50" fill="#fce79e"/>
<rect x="392.00" y="203.79" width="6.34" height="3.50" fill="#fcefb6"/>
<rect x="392.00" y="206.79" width="6.34" height="6.51" fill="#fbf4d2"/>
<rect x="392.00" y="212.80" width="6.34" height="2.00" fill="#fce79e"/>
<rect x="392.00" y="214.30" width="6.34" height="3.50" fill="#fcefb6"/>
<rect x="392.00" y="217.30" width="6.34" height="2.00" fill="#f8d38c"/>
<rect x="392.00" y="218.80" width="6.34" height="2.00" fill="#fcefb6"/>
<rect x="392.00" y="220.31" width="6.34" height="2.00" fill="#fce79e"/>
<rect x="392.00" y="221.81" width="6.34" height="2.00" fill="#f8d38c"/>
<rect x="392.00" y="223.31" width="6.34" height="2.00" fill="#fce79e"/>
<rect x="392.00" y="224.81" width="6.34" height="2.00" fill="#f8d38c"/>
<rect x="392.00" y="226.31" width="6.34" height="2.00" fill="#fbf4d2"/>
<rect x="392.00" y="227.82" width="6.34" height="2.00" fill="#fcefb6"/>
<rect x="392.00" y="229.32" width="6.34" height="2.00" fill="#eca066"/>
<rect x="392.00" y="230.82" width="6.34" height="2.00" fill="#f8d38c"/>
<rect x="392.00" y="232.32" width="6.34" height="2.00" fill="#fce79e"/>
<rect x="392.00" y="233.82" width="6.34" height="2.00" fill="#fcefb6"/>
<rect x="392.00" y="235.33" width="6.34" height="2.00" fill="#f8d38c"/>
<rect x="392.00" y="236.83" width="6.34" height="2.00" fill="#eca066"/>
<rect x="392.00" y="238.33" width="6.34" height="2.00" fill="#f8d38c"/>
<rect x="392.00" y="239.83" width="6.34" height="3.50" fill="#fcefb6"/>
<rect x="392.00" y="242.84" width="6.34" height="2.00" fill="#f8d38c"/>
<rect x="392.00" y="244.34" width="6.34" height="5.01" fill="#fce79e"/>
<rect x="392.00" y="248.84" width="6.34" height="2.00" fill="#fcefb6"/>
<rect x="392.00" y="250.35" width="6.34" height="3.50" fill="#fce79e"/>
<rect x="392.00" y="253.35" width="6.34" height="3.50" fill="#f8d38c"/>
<rect x="392.00" y="256.35" width="6.34" height="2.00" fill="#fce79e"/>
<rect x="392.00" y="257.86" width="6.34" height="3.50" fill="#f8d38c"/>
<rect x="392.00" y="260.86" width="6.34" height="2.00" fill="#fcefb6"/>
<rect x="392.00" y="262.36" width="6.34" height="2.00" fill="#f8d38c"/>
<rect x="392.00" y="263.86" width="6.34" height="2.00" fill="#fbf4d2"/>
<rect x="392.00" y="265.37" width="6.34" height="3.50" fill="#fcefb6"/>
<rect x="392.00" y="268.37" width="6.34" height="3.50" fill="#fce79e"/>
<rect x="392.00" y="271.37" width="6.34" height="2.00" fill="#f8d38c"/>
<rect x="392.00" y="272.88" width="6.34" height="2.00" fill="#fce79e"/>
<rect x="392.00" y="274.38" width="6.34" height="2.00" fill="#fcefb6"/>
<rect x="392.00" y="275.88" width="6.34" height="2.00" fill="#fce79e"/>
<rect x="392.00" y="277.38" width="6.34" height="2.00" fill="#fcefb6"/>
<rect x="392.00" y="278.88" width="6.34" height="2.00" fill="#fce79e"/>
<rect x="392.00" y="280.39" width="6.34" height="2.00" fill="#fcefb6"/>
<rect x="392.00" y="281.89" width="6.34" height="2.00" fill="#e2ebef"/>
<rect x="392.00" y="283.39" width="6.34" height="3.50" fill="#f3f4e6"/>
<rect x="392.00" y="286.39" width="6.34" height="2.00" fill="#fcefb6"/>
<rect x="392.00" y="287.90" width="6.34" height="2.00" fill="#e2ebef"/>
<rect x="392.00" y="289.40" width="6.34" height="2.00" fill="#fbf4d2"/>
<rect x="392.00" y="290.90" width="6.34" height="2.00" fill="#e2ebef"/>
<rect x="392.00" y="292.40" width="6.34" height="2.00" fill="#fbf4d2"/>
<rect x="392.00" y="293.90" width="6.34" height="2.00" fill="#e2ebef"/>
<rect x="392.00" y="295.41" width="6.34" height="2.00" fill="#f8d38c"/>
<rect x="392.00" y="296.91" width="6.34" height="3.50" fill="#e2ebef"/>
<rect x="392.00" y="299.91" width="6.34" height="2.00" fill="#f8d38c"/>
<rect x="392.00" y="301.41" width="6.34" height="2.00" fill="#e2ebef"/>
<rect x="392.00" y="302.92" width="6.34" height="3.50" fill="#fbf4d2"/>
<rect x="392.00" y="305.92" width="6.34" height="2.00" fill="#e2ebef"/>
<rect x="392.00" y="307.42" width="6.34" height="2.00" fill="#f3f4e6"/>
<rect x="392.00" y="308.92" width="6.34" height="2.00" fill="#fbf4d2"/>
<rect x="392.00" y="310.43" width="6.34" height="2.00" fill="#f3f4e6"/>
<rect x="392.00" y="311.93" width="6.34" height="2.00" fill="#fbf4d2"/>
<rect x="392.00" y="313.43" width="6.34" height="2.00" fill="#fcefb6"/>
<rect x="392.00" y="314.93" width="6.34" height="3.50" fill="#fbf4d2"/>
<rect x="392.00" y="317.93" width="6.34" height="2.00" fill="#f3f4e6"/>
<rect x="392.00" y="319.44" width="6.34" height="6.51" fill="#fbf4d2"/>
<rect x="392.00" y="325.44" width="6.34" height="2.00" fill="#f3f4e6"/>
<rect x="392.00" y="326.95" width="6.34" height="2.00" fill="#bed3e8"/>
<rect x="392.00" y="328.45" width="6.34" height="2.00" fill="#f3f4e6"/>
<rect x="392.00" y="329.95" width="6.34" height="2.00" fill="#e2ebef"/>
<rect x="392.00" y="331.45" width="6.34" height="2.00" fill="#f3f4e6"/>
<rect x="392.00" y="332.95" width="6.34" height="2.00" fill="#e2ebef"/>
<rect x="392.00" y="334.46" width="6.34" height="2.00" fill="#f3f4e6"/>
<rect x="392.00" y="335.96" width="6.34" height="2.00" fill="#e2ebef"/>
<rect x="392.00" y="337.46" width="6.34" height="2.00" fill="#f3f4e6"/>
<rect x="392.00" y="338.96" width="6.34" height="2.00" fill="#e2ebef"/>
<rect x="392.00" y="340.46" width="6.34" height="2.00" fill="#f3f4e6"/>
<rect x="392.00" y="341.97" width="6.34" height="2.00" fill="#e2ebef"/>
<rect x="392.00" y="343.47" width="6.34" height="3.50" fill="#bed3e8"/>
<rect x="392.00" y="346.47" width="6.34" height="2.00" fill="#e2ebef"/>
<rect x="392.00" y="347.97" width="6.34" height="3.50" fill="#bed3e8"/>
<rect x="392.00" y="350.98" width="6.34" height="2.00" fill="#f3f4e6"/>
<rect x="392.00" y="352.48" width="6.34" height="2.00" fill="#fce79e"/>
<rect x="392.00" y="353.98" width="6.34" height="2.00" fill="#e2ebef"/>
<rect x="392.00" y="355.48" width="6.34" height="2.00" fill="#f3f4e6"/>
<rect x="392.00" y="356.99" width="6.34" height="3.50" fill="#e2ebef"/>
<rect x="392.00" y="359.99" width="6.34" height="3.50" fill="#f3f4e6"/>
<rect x="392.00" y="362.99" width="6.34" height="2.00" fill="#e2ebef"/>
<rect x="392.00" y="364.50" width="6.34" height="2.00" fill="#fbf4d2"/>
<rect x="392.00" y="366.00" width="6.34" height="1.50" fill="#f3f4e6"/>
<rect x="397.84" y="62.60" width="6.34" height="5.01" fill="#fbf4d2"/>
<rect x="397.84" y="67.11" width="6.34" height="2.00" fill="#f3f4e6"/>
<rect x="397.84" y="68.61" width="6.34" height="3.50" fill="#fcefb6"/>
<rect x="397.84" y="71.61" width="6.34" height="3.50" fill="#fbf4d2"/>
<rect x="397.84" y="74.62" width="6.34" height="2.00" fill="#fcefb6"/>
<rect x="397.84" y="76.12" width="6.34" height="2.00" fill="#eca066"/>
<rect x="397.84" y="77.62" width="6.34" height="2.00" fill="#fbf4d2"/>
<rect x="397.84" y="79.12" width="6.34" height="3.50" fill="#f8d38c"/>
<rect x="397.84" y="82.13" width="6.34" height="3.50" fill="#fbf4d2"/>
<rect x="397.84" y="85.13" width="6.34" height="2.00" fill="#eca066"/>
<rect x="397.84" y="86.63" width="6.34" height="2.00" fill="#fbf4d2"/>
<rect x="397.84" y="88.13" width="6.34" height="2.00" fill="#eca066"/>
<rect x="397.84" y="89.64" width="6.34" height="2.00" fill="#fbf4d2"/>
<rect x="397.84" y="91.14" width="6.34" height="2.00" fill="#e2ebef"/>
<rect x="397.84" y="92.64" width="6.34" height="2.00" fill="#f3f4e6"/>
<rect x="397.84" y="94.14" width="6.34" height="2.00" fill="#f8d38c"/>
<rect x="397.84" y="95.64" width="6.34" height="3.50" fill="#fbf4d2"/>
<rect x="397.84" y="98.65" width="6.34" height="2.00" fill="#f8d38c"/>
<rect x="397.84" y="100.15" width="6.34" height="2.00" fill="#fbf4d2"/>
<rect x="397.84" y="101.65" width="6.34" height="2.00" fill="#e2ebef"/>
<rect x="397.84" y="103.15" width="6.34" height="2.00" fill="#fbf4d2"/>
<rect x="397.84" y="104.66" width="6.34" height="2.00" fill="#f3f4e6"/>
<rect x="397.84" y="106.16" width="6.34" height="2.00" fill="#fbf4d2"/>
<rect x="397.84" y="107.66" width="6.34" height="2.00" fill="#f8d38c"/>
<rect x="397.84" y="109.16" width="6.34" height="2.00" fill="#fbf4d2"/>
<rect x="397.84" y="110.66" width="6.34" height="2.00" fill="#fcefb6"/>
<rect x="397.84" y="112.17" width="6.34" height="2.00" fill="#fce79e"/>
<rect x="397.84" y="113.67" width="6.34" height="2.00" fill="#f3f4e6"/>
<rect x="397.84" y="115.17" width="6.34" height="2.00" fill="#fbf4d2"/>
<rect x="397.84" y="116.67" width="6.34" height="2.00" fill="#f3f4e6"/>
<rect x="397.84" y="118.17" width="6.34" height="2.00" fill="#fce79e"/>
<rect x="397.84" y="119.67" width="6.34" height="5.01" fill="#fbf4d2"/>
<rect x="397.84" y="124.18" width="6.34" height="2.00" fill="#f8d38c"/>
<rect x="397.84" y="125.68" width="6.34" height="2.00" fill="#f3f4e6"/>
<rect x="397.84" y="127.18" width="6.34" height="3.50" fill="#fcefb6"/>
<rect x="397.84" y="130.19" width="6.34" height="2.00" fill="#fce79e"/>
<rect x="397.84" y="131.69" width="6.34" height="3.50" fill="#fbf4d2"/>
<rect x="397.84" y="134.69" width="6.34" height="2.00" fill="#f3f4e6"/>
<rect x="397.84" y="136.20" width="6.34" height="2.00" fill="#fbf4d2"/>
<rect x="397.84" y="137.70" width="6.34" height="2.00" fill="#fce79e"/>
<rect x="397.84" y="139.20" width="6.34" height="2.00" fill="#fbf4d2"/>
<rect x="397.84" y="140.70" width="6.34" height="2.00" fill="#f8d38c"/>
<rect x="397.84" y="142.20" width="6.34" height="5.01" fill="#fbf4d2"/>
<rect x="397.84" y="146.71" width="6.34" height="2.00" fill="#f8d38c"/>
<rect x="397.84" y="148.21" width="6.34" height="2.00" fill="#fbf4d2"/>
<rect x="397.84" y="149.71" width="6.34" height="2.00" fill="#fcefb6"/>
<rect x="397.84" y="151.22" width="6.34" height="2.00" fill="#e2ebef"/>
<rect x="397.84" y="152.72" width="6.34" height="2.00" fill="#f3f4e6"/>
<rect x="397.84" y="154.22" width="6.34" height="2.00" fill="#fce79e"/>
<rect x="397.84" y="155.72" width="6.34" height="2.00" fill="#f8d38c"/>
<rect x="397.84" y="157.22" width="6.34" height="3.50" fill="#fbf4d2"/>
<rect x="397.84" y="160.23" width="6.34" height="2.00" fill="#fcefb6"/>
<rect x="397.84" y="161.73" width="6.34" height="5.01" fill="#fbf4d2"/>
<rect x="397.84" y="166.24" width="6.34" height="2.00" fill="#fce79e"/>
<rect x="397.84" y="167.74" width="6.34" height="3.50" fill="#f8d38c"/>
<rect x="397.84" y="170.74" width="6.34" height="2.00" fill="#fce79e"/>
<rect x="397.84" y="172.24" width="6.34" height="2.00" fill="#f8d38c"/>
<rect x="397.84" y="173.75" width="6.34" height="5.01" fill="#eca066"/>
<rect x="397.84" y="178.25" width="6.34" height="2.00" fill="#fce79e"/>
<rect x="397.84" y="179.75" width="6.34" height="2.00" fill="#fcefb6"/>
<rect x="397.84" y="181.26" width="6.34" height="2.00" fill="#fce79e"/>
<rect x="397.84" y="182.76" width="6.34" height="2.00" fill="#f8d38c"/>
<rect x="397.84" y="184.26" width="6.34" height="3.50" fill="#fce79e"/>
<rect x="397.84" y="187.26" width="6.34" height="2.00" fill="#eca066"/>
<rect x="397.84" y="188.77" width="6.34" height="2.00" fill="#fcefb6"/>
<rect x="397.84" y="190.27" width="6.34" height="2.00" fill="#f8d38c"/>
<rect x="397.84" y="191.77" width="6.34" height="2.00" fill="#fce79e"/>
<rect x="397.84" y="193.27" width="6.34" height="2.00" fill="#eca066"/>
<rect x="397.84" y="194.77" width="6.34" height="2.00" fill="#fce79e"/>
<rect x="397.84" y="196.28" width="6.34" height="2.00" fill="#eca066"/>
<rect x="397.84" y="197.78" width="6.34" height="2.00" fill="#fce79e"/>
<rect x="397.84" y="199.28" width="6.34" height="2.00" fill="#f8d38c"/>
<rect x="397.84" y="200.78" width="6.34" height="2.00" fill="#eca066"/>
<rect x="397.84" y="202.28" width="6.34" height="2.00" fill="#f8d38c"/>
<rect x="397.84" y="203.79" width="6.34" height="2.00" fill="#fcefb6"/>
<rect x="397.84" y="205.29" width="6.34" height="2.00" fill="#f8d38c"/>
<rect x="397.84" y="206.79" width="6.34" height="2.00" fill="#dc6a45"/>
<rect x="397.84" y="208.29" width="6.34" height="2.00" fill="#fbf4d2"/>
<rect x="397.84" y="209.79" width="6.34" height="3.50" fill="#fcefb6"/>
<rect x="397.84" y="212.80" width="6.34" height="2.00" fill="#f8d38c"/>
<rect x="397.84" y="214.30" width="6.34" height="2.00" fill="#fce79e"/>
<rect x="397.84" y="215.80" width="6.34" height="3.50" fill="#eca066"/>
<rect x="397.84" y="218.80" width="6.34" height="6.51" fill="#f8d38c"/>
<rect x="397.84" y="224.81" width="6.34" height="3.50" fill="#eca066"/>
<rect x="397.84" y="227.82" width="6.34" height="2.00" fill="#fce79e"/>
<rect x="397.84" y="229.32" width="6.34" height="3.50" fill="#eca066"/>
<rect x="397.84" y="232.32" width="6.34" height="2.00" fill="#fce79e"/>
<rect x="397.84" y="233.82" width="6.34" height="2.00" fill="#dc6a45"/>
<rect x="397.84" y="235.33" width="6.34" height="2.00" fill="#fcefb6"/>
<rect x="397.84" y="236.83" width="6.34" height="6.51" fill="#f8d38c"/>
<rect x="397.84" y="242.84" width="6.34" height="2.00" fill="#fce79e"/>
<rect x="397.84" y="244.34" width="6.34" height="2.00" fill="#f8d38c"/>
<rect x="397.84" y="245.84" width="6.34" height="2.00" fill="#dc6a45"/>
<rect x="397.84" y="247.34" width="6.34" height="2.00" fill="#eca066"/>
<rect x="397.84" y="248.84" width="6.34" height="2.00" fill="#fcefb6"/>
<rect x="397.84" y="250.35" width="6.34" height="5.01" fill="#f8d38c"/>
<rect x="397.84" y="254.85" width="6.34" height="3.50" fill="#fce79e"/>
<rect x="397.84" y="257.86" width="6.34" height="2.00" fill="#f8d38c"/>
<rect x="397.84" y="259.36" width="6.34" height="2.00" fill="#fce79e"/>
<rect x="397.84" y="260.86" width="6.34" height="2.00" fill="#fcefb6"/>
<rect x="397.84" y="262.36" width="6.34" height="2.00" fill="#fce79e"/>
<rect x="397.84" y="263.86" width="6.34" height="2.00" fill="#f8d38c"/>
<rect x="397.84" y="265.37" width="6.34" height="5.01" fill="#eca066"/>
<rect x="397.84" y="269.87" width="6.34" height="2.00" fill="#fce79e"/>
<rect x="397.84" y="271.37" width="6.34" height="2.00" fill="#f8d38c"/>
<rect x="397.84" y="272.88" width="6.34" height="2.00" fill="#fcefb6"/>
<rect x="397.84" y="274.38" width="6.34" height="2.00" fill="#f8d38c"/>
<rect x="397.84" y="275.88" width="6.34" height="2.00" fill="#fcefb6"/>
<rect x="397.84" y="277.38" width="6.34" height="2.00" fill="#eca066"/>
<rect x="397.84" y="278.88" width="6.34" height="3.50" fill="#fce79e"/>
<rect x="397.84" y="281.89" width="6.34" height="3.50" fill="#fbf4d2"/>
<rect x="397.84" y="284.89" width="6.34" height="2.00" fill="#f3f4e6"/>
<rect x="397.84" y="286.39" width="6.34" height="2.00" fill="#fcefb6"/>
<rect x="397.84" y="287.90" width="6.34" height="2.00" fill="#fbf4d2"/>
<rect x="397.84" y="289.40" width="6.34" height="2.00" fill="#e2ebef"/>
<rect x="397.84" y="290.90" width="6.34" height="2.00" fill="#f3f4e6"/>
<rect x="397.84" y="292.40" width="6.34" height="2.00" fill="#fbf4d2"/>
<rect x="397.84" y="293.90" width="6.34" height="2.00" fill="#f3f4e6"/>
<rect x="397.84" y="295.41" width="6.34" height="2.00" fill="#fbf4d2"/>
<rect x="397.84" y="296.91" width="6.34" height="2.00" fill="#fcefb6"/>
<rect x="397.84" y="298.41" width="6.34" height="2.00" fill="#f3f4e6"/>
<rect x="397.84" y="299.91" width="6.34" height="2.00" fill="#dc6a45"/>
<rect x="397.84" y="301.41" width="6.34" height="2.00" fill="#e2ebef"/>
<rect x="397.84" y="302.92" width="6.34" height="5.01" fill="#fbf4d2"/>
<rect x="397.84" y="307.42" width="6.34" height="2.00" fill="#fcefb6"/>
<rect x="397.84" y="308.92" width="6.34" height="2.00" fill="#f3f4e6"/>
<rect x="397.84" y="310.43" width="6.34" height="2.00" fill="#8fb0d8"/>
<rect x="397.84" y="311.93" width="6.34" height="2.00" fill="#f3f4e6"/>
<rect x="397.84" y="313.43" width="6.34" height="2.00" fill="#fbf4d2"/>
<rect x="397.84" y="314.93" width="6.34" height="2.00" fill="#e2ebef"/>
<rect x="397.84" y="316.43" width="6.34" height="2.00" fill="#f3f4e6"/>
<rect x="397.84" y="317.93" width="6.34" height="2.00" fill="#fbf4d2"/>
<rect x="397.84" y="319.44" width="6.34" height="2.00" fill="#e2ebef"/>
<rect x="397.84" y="320.94" width="6.34" height="2.00" fill="#f3f4e6"/>
<rect x="397.84" y="322.44" width="6.34" height="2.00" fill="#fcefb6"/>
<rect x="397.84" y="323.94" width="6.34" height="2.00" fill="#fbf4d2"/>
<rect x="397.84" y="325.44" width="6.34" height="2.00" fill="#5b80bd"/>
<rect x="397.84" y="326.95" width="6.34" height="2.00" fill="#fbf4d2"/>
<rect x="397.84" y="328.45" width="6.34" height="2.00" fill="#e2ebef"/>
<rect x="397.84" y="329.95" width="6.34" height="2.00" fill="#f3f4e6"/>
<rect x="397.84" y="331.45" width="6.34" height="2.00" fill="#fbf4d2"/>
<rect x="397.84" y="332.95" width="6.34" height="2.00" fill="#e2ebef"/>
<rect x="397.84" y="334.46" width="6.34" height="3.50" fill="#f3f4e6"/>
<rect x="397.84" y="337.46" width="6.34" height="2.00" fill="#8fb0d8"/>
<rect x="397.84" y="338.96" width="6.34" height="2.00" fill="#e2ebef"/>
<rect x="397.84" y="340.46" width="6.34" height="3.50" fill="#f3f4e6"/>
<rect x="397.84" y="343.47" width="6.34" height="2.00" fill="#bed3e8"/>
<rect x="397.84" y="344.97" width="6.34" height="2.00" fill="#f3f4e6"/>
<rect x="397.84" y="346.47" width="6.34" height="2.00" fill="#bed3e8"/>
<rect x="397.84" y="347.97" width="6.34" height="2.00" fill="#e2ebef"/>
<rect x="397.84" y="349.48" width="6.34" height="2.00" fill="#bed3e8"/>
<rect x="397.84" y="350.98" width="6.34" height="2.00" fill="#fbf4d2"/>
<rect x="397.84" y="352.48" width="6.34" height="2.00" fill="#bed3e8"/>
<rect x="397.84" y="353.98" width="6.34" height="2.00" fill="#f3f4e6"/>
<rect x="397.84" y="355.48" width="6.34" height="2.00" fill="#bed3e8"/>
<rect x="397.84" y="356.99" width="6.34" height="2.00" fill="#f3f4e6"/>
<rect x="397.84" y="358.49" width="6.34" height="2.00" fill="#e2ebef"/>
<rect x="397.84" y="359.99" width="6.34" height="2.00" fill="#8fb0d8"/>
<rect x="397.84" y="361.49" width="6.34" height="2.00" fill="#bed3e8"/>
<rect x="397.84" y="362.99" width="6.34" height="2.00" fill="#f3f4e6"/>
<rect x="397.84" y="364.50" width="6.34" height="2.00" fill="#fbf4d2"/>
<rect x="397.84" y="366.00" width="6.34" height="1.50" fill="#8fb0d8"/>
<rect x="403.68" y="62.60" width="6.34" height="5.01" fill="#fbf4d2"/>
<rect x="403.68" y="67.11" width="6.34" height="2.00" fill="#f3f4e6"/>
<rect x="403.68" y="68.61" width="6.34" height="2.00" fill="#fbf4d2"/>
<rect x="403.68" y="70.11" width="6.34" height="2.00" fill="#fcefb6"/>
<rect x="403.68" y="71.61" width="6.34" height="3.50" fill="#fbf4d2"/>
<rect x="403.68" y="74.62" width="6.34" height="2.00" fill="#e2ebef"/>
<rect x="403.68" y="76.12" width="6.34" height="2.00" fill="#c53b2d"/>
<rect x="403.68" y="77.62" width="6.34" height="2.00" fill="#fbf4d2"/>
<rect x="403.68" y="79.12" width="6.34" height="2.00" fill="#f3f4e6"/>
<rect x="403.68" y="80.62" width="6.34" height="2.00" fill="#fbf4d2"/>
<rect x="403.68" y="82.13" width="6.34" height="2.00" fill="#e2ebef"/>
<rect x="403.68" y="83.63" width="6.34" height="3.50" fill="#fbf4d2"/>
<rect x="403.68" y="86.63" width="6.34" height="2.00" fill="#f3f4e6"/>
<rect x="403.68" y="88.13" width="6.34" height="2.00" fill="#f8d38c"/>
<rect x="403.68" y="89.64" width="6.34" height="2.00" fill="#fbf4d2"/>
<rect x="403.68" y="91.14" width="6.34" height="2.00" fill="#eca066"/>
<rect x="403.68" y="92.64" width="6.34" height="2.00" fill="#fbf4d2"/>
<rect x="403.68" y="94.14" width="6.34" height="3.50" fill="#eca066"/>
<rect x="403.68" y="97.15" width="6.34" height="2.00" fill="#fbf4d2"/>
<rect x="403.68" y="98.65" width="6.34" height="2.00" fill="#eca066"/>
<rect x="403.68" y="100.15" width="6.34" height="2.00" fill="#fbf4d2"/>
<rect x="403.68" y="101.65" width="6.34" height="2.00" fill="#fcefb6"/>
<rect x="403.68" y="103.15" width="6.34" height="3.50" fill="#fbf4d2"/>
<rect x="403.68" y="106.16" width="6.34" height="2.00" fill="#f3f4e6"/>
<rect x="403.68" y="107.66" width="6.34" height="2.00" fill="#f8d38c"/>
<rect x="403.68" y="109.16" width="6.34" height="2.00" fill="#fcefb6"/>
<rect x="403.68" y="110.66" width="6.34" height="2.00" fill="#fbf4d2"/>
<rect x="403.68" y="112.17" width="6.34" height="2.00" fill="#e2ebef"/>
<rect x="403.68" y="113.67" width="6.34" height="2.00" fill="#f3f4e6"/>
<rect x="403.68" y="115.17" width="6.34" height="3.50" fill="#fbf4d2"/>
<rect x="403.68" y="118.17" width="6.34" height="2.00" fill="#e2ebef"/>
<rect x="403.68" y="119.67" width="6.34" height="2.00" fill="#fbf4d2"/>
<rect x="403.68" y="121.18" width="6.34" height="2.00" fill="#f3f4e6"/>
<rect x="403.68" y="122.68" width="6.34" height="2.00" fill="#fbf4d2"/>
<rect x="403.68" y="124.18" width="6.34" height="2.00" fill="#dc6a45"/>
<rect x="403.68" y="125.68" width="6.34" height="2.00" fill="#fcefb6"/>
<rect x="403.68" y="127.18" width="6.34" height="2.00" fill="#f3f4e6"/>
<rect x="403.68" y="128.69" width="6.34" height="2.00" fill="#fbf4d2"/>
<rect x="403.68" y="130.19" width="6.34" height="2.00" fill="#f8d38c"/>
<rect x="403.68" y="131.69" width="6.34" height="2.00" fill="#fbf4d2"/>
<rect x="403.68" y="133.19" width="6.34" height="2.00" fill="#fcefb6"/>
<rect x="403.68" y="134.69" width="6.34" height="3.50" fill="#fbf4d2"/>
<rect x="403.68" y="137.70" width="6.34" height="2.00" fill="#e2ebef"/>
<rect x="403.68" y="139.20" width="6.34" height="2.00" fill="#fbf4d2"/>
<rect x="403.68" y="140.70" width="6.34" height="2.00" fill="#f8d38c"/>
<rect x="403.68" y="142.20" width="6.34" height="2.00" fill="#fcefb6"/>
<rect x="403.68" y="143.71" width="6.34" height="2.00" fill="#f3f4e6"/>
<rect x="403.68" y="145.21" width="6.34" height="3.50" fill="#fce79e"/>
<rect x="403.68" y="148.21" width="6.34" height="3.50" fill="#fbf4d2"/>
<rect x="403.68" y="151.22" width="6.34" height="2.00" fill="#fce79e"/>
<rect x="403.68" y="152.72" width="6.34" height="2.00" fill="#e2ebef"/>
<rect x="403.68" y="154.22" width="6.34" height="2.00" fill="#fbf4d2"/>
<rect x="403.68" y="155.72" width="6.34" height="2.00" fill="#e2ebef"/>
<rect x="403.68" y="157.22" width="6.34" height="5.01" fill="#fbf4d2"/>
<rect x="403.68" y="161.73" width="6.34" height="2.00" fill="#fcefb6"/>
<rect x="403.68" y="163.23" width="6.34" height="2.00" fill="#e2ebef"/>
<rect x="403.68" y="164.73" width="6.34" height="2.00" fill="#fce79e"/>
<rect x="403.68" y="166.24" width="6.34" height="2.00" fill="#eca066"/>
<rect x="403.68" y="167.74" width="6.34" height="2.00" fill="#f8d38c"/>
<rect x="403.68" y="169.24" width="6.34" height="2.00" fill="#dc6a45"/>
<rect x="403.68" y="170.74" width="6.34" height="2.00" fill="#f8d38c"/>
<rect x="403.68" y="172.24" width="6.34" height="2.00" fill="#fcefb6"/>
<rect x="403.68" y="173.75" width="6.34" height="2.00" fill="#eca066"/>
<rect x="403.68" y="175.25" width="6.34" height="2.00" fill="#f8d38c"/>
<rect x="403.68" y="176.75" width="6.34" height="2.00" fill="#dc6a45"/>
<rect x="403.68" y="178.25" width="6.34" height="2.00" fill="#eca066"/>
<rect x="403.68" y="179.75" width="6.34" height="3.50" fill="#fce79e"/>
<rect x="403.68" y="182.76" width="6.34" height="2.00" fill="#f8d38c"/>
<rect x="403.68" y="184.26" width="6.34" height="2.00" fill="#fce79e"/>
<rect x="403.68" y="185.76" width="6.34" height="2.00" fill="#fcefb6"/>
<rect x="403.68" y="187.26" width="6.34" height="2.00" fill="#fce79e"/>
<rect x="403.68" y="188.77" width="6.34" height="2.00" fill="#f8d38c"/>
<rect x="403.68" y="190.27" width="6.34" height="2.00" fill="#eca066"/>
<rect x="403.68" y="191.77" width="6.34" height="2.00" fill="#f8d38c"/>
<rect x="403.68" y="193.27" width="6.34" height="2.00" fill="#dc6a45"/>
<rect x="403.68" y="194.77" width="6.34" height="5.01" fill="#fce79e"/>
<rect x="403.68" y="199.28" width="6.34" height="2.00" fill="#f8d38c"/>
<rect x="403.68" y="200.78" width="6.34" height="2.00" fill="#eca066"/>
<rect x="403.68" y="202.28" width="6.34" height="2.00" fill="#f8d38c"/>
<rect x="403.68" y="203.79" width="6.34" height="2.00" fill="#fbf4d2"/>
<rect x="403.68" y="205.29" width="6.34" height="2.00" fill="#fce79e"/>
<rect x="403.68" y="206.79" width="6.34" height="2.00" fill="#c53b2d"/>
<rect x="403.68" y="208.29" width="6.34" height="2.00" fill="#f8d38c"/>
<rect x="403.68" y="209.79" width="6.34" height="2.00" fill="#eca066"/>
<rect x="403.68" y="211.30" width="6.34" height="2.00" fill="#fce79e"/>
<rect x="403.68" y="212.80" width="6.34" height="3.50" fill="#fcefb6"/>
<rect x="403.68" y="215.80" width="6.34" height="2.00" fill="#f8d38c"/>
<rect x="403.68" y="217.30" width="6.34" height="2.00" fill="#dc6a45"/>
<rect x="403.68" y="218.80" width="6.34" height="2.00" fill="#fce79e"/>
<rect x="403.68" y="220.31" width="6.34" height="2.00" fill="#eca066"/>
<rect x="403.68" y="221.81" width="6.34" height="2.00" fill="#fcefb6"/>
<rect x="403.68" y="223.31" width="6.34" height="3.50" fill="#fce79e"/>
<rect x="403.68" y="226.31" width="6.34" height="2.00" fill="#dc6a45"/>
<rect x="403.68" y="227.82" width="6.34" height="2.00" fill="#fce79e"/>
<rect x="403.68" y="229.32" width="6.34" height="3.50" fill="#f8d38c"/>
<rect x="403.68" y="232.32" width="6.34" height="2.00" fill="#fcefb6"/>
<rect x="403.68" y="233.82" width="6.34" height="2.00" fill="#eca066"/>
<rect x="403.68" y="235.33" width="6.34" height="2.00" fill="#fce79e"/>
<rect x="403.68" y="236.83" width="6.34" height="5.01" fill="#f8d38c"/>
<rect x="403.68" y="241.33" width="6.34" height="2.00" fill="#eca066"/>
<rect x="403.68" y="242.84" width="6.34" height="2.00" fill="#fce79e"/>
<rect x="403.68" y="244.34" width="6.34" height="2.00" fill="#eca066"/>
<rect x="403.68" y="245.84" width="6.34" height="3.50" fill="#f8d38c"/>
<rect x="403.68" y="248.84" width="6.34" height="2.00" fill="#fce79e"/>
<rect x="403.68" y="250.35" width="6.34" height="2.00" fill="#f8d38c"/>
<rect x="403.68" y="251.85" width="6.34" height="2.00" fill="#eca066"/>
<rect x="403.68" y="253.35" width="6.34" height="2.00" fill="#dc6a45"/>
<rect x="403.68" y="254.85" width="6.34" height="3.50" fill="#fce79e"/>
<rect x="403.68" y="257.86" width="6.34" height="5.01" fill="#f8d38c"/>
<rect x="403.68" y="262.36" width="6.34" height="5.01" fill="#fce79e"/>
<rect x="403.68" y="266.87" width="6.34" height="2.00" fill="#dc6a45"/>
<rect x="403.68" y="268.37" width="6.34" height="2.00" fill="#f8d38c"/>
<rect x="403.68" y="269.87" width="6.34" height="3.50" fill="#fce79e"/>
<rect x="403.68" y="272.88" width="6.34" height="2.00" fill="#eca066"/>
<rect x="403.68" y="274.38" width="6.34" height="2.00" fill="#fcefb6"/>
<rect x="403.68" y="275.88" width="6.34" height="2.00" fill="#fce79e"/>
<rect x="403.68" y="277.38" width="6.34" height="3.50" fill="#f8d38c"/>
<rect x="403.68" y="280.39" width="6.34" height="2.00" fill="#fce79e"/>
<rect x="403.68" y="281.89" width="6.34" height="3.50" fill="#f3f4e6"/>
<rect x="403.68" y="284.89" width="6.34" height="2.00" fill="#fbf4d2"/>
<rect x="403.68" y="286.39" width="6.34" height="2.00" fill="#e2ebef"/>
<rect x="403.68" y="287.90" width="6.34" height="3.50" fill="#fbf4d2"/>
<rect x="403.68" y="290.90" width="6.34" height="2.00" fill="#f3f4e6"/>
<rect x="403.68" y="292.40" width="6.34" height="2.00" fill="#fbf4d2"/>
<rect x="403.68" y="293.90" width="6.34" height="2.00" fill="#f8d38c"/>
<rect x="403.68" y="295.41" width="6.34" height="2.00" fill="#e2ebef"/>
<rect x="403.68" y="296.91" width="6.34" height="3.50" fill="#fbf4d2"/>
<rect x="403.68" y="299.91" width="6.34" height="2.00" fill="#bed3e8"/>
<rect x="403.68" y="301.41" width="6.34" height="2.00" fill="#f3f4e6"/>
<rect x="403.68" y="302.92" width="6.34" height="3.50" fill="#fbf4d2"/>
<rect x="403.68" y="305.92" width="6.34" height="2.00" fill="#fce79e"/>
<rect x="403.68" y="307.42" width="6.34" height="2.00" fill="#f3f4e6"/>
<rect x="403.68" y="308.92" width="6.34" height="2.00" fill="#fbf4d2"/>
<rect x="403.68" y="310.43" width="6.34" height="5.01" fill="#e2ebef"/>
<rect x="403.68" y="314.93" width="6.34" height="3.50" fill="#fbf4d2"/>
<rect x="403.68" y="317.93" width="6.34" height="2.00" fill="#e2ebef"/>
<rect x="403.68" y="319.44" width="6.34" height="5.01" fill="#fbf4d2"/>
<rect x="403.68" y="323.94" width="6.34" height="2.00" fill="#fcefb6"/>
<rect x="403.68" y="325.44" width="6.34" height="2.00" fill="#e2ebef"/>
<rect x="403.68" y="326.95" width="6.34" height="2.00" fill="#f3f4e6"/>
<rect x="403.68" y="328.45" width="6.34" height="2.00" fill="#fbf4d2"/>
<rect x="403.68" y="329.95" width="6.34" height="2.00" fill="#e2ebef"/>
<rect x="403.68" y="331.45" width="6.34" height="2.00" fill="#fce79e"/>
<rect x="403.68" y="332.95" width="6.34" height="3.50" fill="#f3f4e6"/>
<rect x="403.68" y="335.96" width="6.34" height="2.00" fill="#fce79e"/>
<rect x="403.68" y="337.46" width="6.34" height="2.00" fill="#f3f4e6"/>
<rect x="403.68" y="338.96" width="6.34" height="3.50" fill="#e2ebef"/>
<rect x="403.68" y="341.97" width="6.34" height="2.00" fill="#bed3e8"/>
<rect x="403.68" y="343.47" width="6.34" height="2.00" fill="#5b80bd"/>
<rect x="403.68" y="344.97" width="6.34" height="2.00" fill="#e2ebef"/>
<rect x="403.68" y="346.47" width="6.34" height="2.00" fill="#bed3e8"/>
<rect x="403.68" y="347.97" width="6.34" height="2.00" fill="#e2ebef"/>
<rect x="403.68" y="349.48" width="6.34" height="2.00" fill="#fbf4d2"/>
<rect x="403.68" y="350.98" width="6.34" height="2.00" fill="#f3f4e6"/>
<rect x="403.68" y="352.48" width="6.34" height="2.00" fill="#bed3e8"/>
<rect x="403.68" y="353.98" width="6.34" height="5.01" fill="#e2ebef"/>
<rect x="403.68" y="358.49" width="6.34" height="2.00" fill="#f3f4e6"/>
<rect x="403.68" y="359.99" width="6.34" height="6.51" fill="#e2ebef"/>
<rect x="403.68" y="366.00" width="6.34" height="1.50" fill="#bed3e8"/>
<rect x="409.52" y="62.60" width="6.34" height="3.50" fill="#fbf4d2"/>
<rect x="409.52" y="65.60" width="6.34" height="3.50" fill="#fcefb6"/>
<rect x="409.52" y="68.61" width="6.34" height="2.00" fill="#fbf4d2"/>
<rect x="409.52" y="70.11" width="6.34" height="2.00" fill="#f3f4e6"/>
<rect x="409.52" y="71.61" width="6.34" height="2.00" fill="#e2ebef"/>
<rect x="409.52" y="73.11" width="6.34" height="2.00" fill="#fbf4d2"/>
<rect x="409.52" y="74.62" width="6.34" height="3.50" fill="#fcefb6"/>
<rect x="409.52" y="77.62" width="6.34" height="2.00" fill="#fbf4d2"/>
<rect x="409.52" y="79.12" width="6.34" height="2.00" fill="#f3f4e6"/>
<rect x="409.52" y="80.62" width="6.34" height="2.00" fill="#fbf4d2"/>
<rect x="409.52" y="82.13" width="6.34" height="3.50" fill="#fcefb6"/>
<rect x="409.52" y="85.13" width="6.34" height="2.00" fill="#eca066"/>
<rect x="409.52" y="86.63" width="6.34" height="5.01" fill="#fcefb6"/>
<rect x="409.52" y="91.14" width="6.34" height="3.50" fill="#fbf4d2"/>
<rect x="409.52" y="94.14" width="6.34" height="2.00" fill="#eca066"/>
<rect x="409.52" y="95.64" width="6.34" height="2.00" fill="#f3f4e6"/>
<rect x="409.52" y="97.15" width="6.34" height="2.00" fill="#fbf4d2"/>
<rect x="409.52" y="98.65" width="6.34" height="2.00" fill="#e2ebef"/>
<rect x="409.52" y="100.15" width="6.34" height="2.00" fill="#fbf4d2"/>
<rect x="409.52" y="101.65" width="6.34" height="2.00" fill="#f3f4e6"/>
<rect x="409.52" y="103.15" width="6.34" height="5.01" fill="#fbf4d2"/>
<rect x="409.52" y="107.66" width="6.34" height="2.00" fill="#e2ebef"/>
<rect x="409.52" y="109.16" width="6.34" height="2.00" fill="#fcefb6"/>
<rect x="409.52" y="110.66" width="6.34" height="2.00" fill="#f3f4e6"/>
<rect x="409.52" y="112.17" width="6.34" height="2.00" fill="#f8d38c"/>
<rect x="409.52" y="113.67" width="6.34" height="2.00" fill="#fbf4d2"/>
<rect x="409.52" y="115.17" width="6.34" height="2.00" fill="#f3f4e6"/>
<rect x="409.52" y="116.67" width="6.34" height="2.00" fill="#fbf4d2"/>
<rect x="409.52" y="118.17" width="6.34" height="5.01" fill="#fcefb6"/>
<rect x="409.52" y="122.68" width="6.34" height="3.50" fill="#e2ebef"/>
<rect x="409.52" y="125.68" width="6.34" height="5.01" fill="#fbf4d2"/>
<rect x="409.52" y="130.19" width="6.34" height="2.00" fill="#f3f4e6"/>
<rect x="409.52" y="131.69" width="6.34" height="2.00" fill="#e2ebef"/>
<rect x="409.52" y="133.19" width="6.34" height="3.50" fill="#fbf4d2"/>
<rect x="409.52" y="136.20" width="6.34" height="2.00" fill="#f3f4e6"/>
<rect x="409.52" y="137.70" width="6.34" height="2.00" fill="#eca066"/>
<rect x="409.52" y="139.20" width="6.34" height="2.00" fill="#fbf4d2"/>
<rect x="409.52" y="140.70" width="6.34" height="2.00" fill="#fcefb6"/>
<rect x="409.52" y="142.20" width="6.34" height="3.50" fill="#fbf4d2"/>
<rect x="409.52" y="145.21" width="6.34" height="2.00" fill="#fcefb6"/>
<rect x="409.52" y="146.71" width="6.34" height="3.50" fill="#eca066"/>
<rect x="409.52" y="149.71" width="6.34" height="2.00" fill="#fcefb6"/>
<rect x="409.52" y="151.22" width="6.34" height="3.50" fill="#fbf4d2"/>
<rect x="409.52" y="154.22" width="6.34" height="2.00" fill="#e2ebef"/>
<rect x="409.52" y="155.72" width="6.34" height="2.00" fill="#bed3e8"/>
<rect x="409.52" y="157.22" width="6.34" height="3.50" fill="#fbf4d2"/>
<rect x="409.52" y="160.23" width="6.34" height="2.00" fill="#f3f4e6"/>
<rect x="409.52" y="161.73" width="6.34" height="2.00" fill="#fcefb6"/>
<rect x="409.52" y="163.23" width="6.34" height="2.00" fill="#f8d38c"/>
<rect x="409.52" y="164.73" width="6.34" height="2.00" fill="#fcefb6"/>
<rect x="409.52" y="166.24" width="6.34" height="3.50" fill="#fbf4d2"/>
<rect x="409.52" y="169.24" width="6.34" height="2.00" fill="#e2ebef"/>
<rect x="409.52" y="170.74" width="6.34" height="2.00" fill="#fbf4d2"/>
<rect x="409.52" y="172.24" width="6.34" height="2.00" fill="#fcefb6"/>
<rect x="409.52" y="173.75" width="6.34" height="2.00" fill="#eca066"/>
<rect x="409.52" y="175.25" width="6.34" height="2.00" fill="#fcefb6"/>
<rect x="409.52" y="176.75" width="6.34" height="3.50" fill="#fce79e"/>
<rect x="409.52" y="179.75" width="6.34" height="5.01" fill="#fcefb6"/>
<rect x="409.52" y="184.26" width="6.34" height="2.00" fill="#fce79e"/>
<rect x="409.52" y="185.76" width="6.34" height="2.00" fill="#fbf4d2"/>
<rect x="409.52" y="187.26" width="6.34" height="2.00" fill="#fcefb6"/>
<rect x="409.52" y="188.77" width="6.34" height="3.50" fill="#fbf4d2"/>
<rect x="409.52" y="191.77" width="6.34" height="2.00" fill="#fcefb6"/>
<rect x="409.52" y="193.27" width="6.34" height="3.50" fill="#fbf4d2"/>
<rect x="409.52" y="196.28" width="6.34" height="2.00" fill="#fce79e"/>
<rect x="409.52" y="197.78" width="6.34" height="2.00" fill="#fbf4d2"/>
<rect x="409.52" y="199.28" width="6.34" height="2.00" fill="#fcefb6"/>
<rect x="409.52" y="200.78" width="6.34" height="2.00" fill="#fce79e"/>
<rect x="409.52" y="202.28" width="6.34" height="2.00" fill="#fcefb6"/>
<rect x="409.52" y="203.79" width="6.34" height="2.00" fill="#fbf4d2"/>
<rect x="409.52" y="205.29" width="6.34" height="2.00" fill="#fce79e"/>
<rect x="409.52" y="206.79" width="6.34" height="2.00" fill="#fcefb6"/>
<rect x="409.52" y="208.29" width="6.34" height="2.00" fill="#fce79e"/>
<rect x="409.52" y="209.79" width="6.34" height="2.00" fill="#fcefb6"/>
<rect x="409.52" y="211.30" width="6.34" height="2.00" fill="#fce79e"/>
<rect x="409.52" y="212.80" width="6.34" height="3.50" fill="#fcefb6"/>
<rect x="409.52" y="215.80" width="6.34" height="2.00" fill="#fbf4d2"/>
<rect x="409.52" y="217.30" width="6.34" height="2.00" fill="#fcefb6"/>
<rect x="409.52" y="218.80" width="6.34" height="2.00" fill="#f8d38c"/>
<rect x="409.52" y="220.31" width="6.34" height="3.50" fill="#fcefb6"/>
<rect x="409.52" y="223.31" width="6.34" height="2.00" fill="#fbf4d2"/>
<rect x="409.52" y="224.81" width="6.34" height="2.00" fill="#fce79e"/>
<rect x="409.52" y="226.31" width="6.34" height="2.00" fill="#fcefb6"/>
<rect x="409.52" y="227.82" width="6.34" height="2.00" fill="#fce79e"/>
<rect x="409.52" y="229.32" width="6.34" height="2.00" fill="#fbf4d2"/>
<rect x="409.52" y="230.82" width="6.34" height="2.00" fill="#f8d38c"/>
<rect x="409.52" y="232.32" width="6.34" height="2.00" fill="#fcefb6"/>
<rect x="409.52" y="233.82" width="6.34" height="2.00" fill="#dc6a45"/>
<rect x="409.52" y="235.33" width="6.34" height="2.00" fill="#fcefb6"/>
<rect x="409.52" y="236.83" width="6.34" height="3.50" fill="#fbf4d2"/>
<rect x="409.52" y="239.83" width="6.34" height="2.00" fill="#fcefb6"/>
<rect x="409.52" y="241.33" width="6.34" height="2.00" fill="#f8d38c"/>
<rect x="409.52" y="242.84" width="6.34" height="2.00" fill="#fbf4d2"/>
<rect x="409.52" y="244.34" width="6.34" height="2.00" fill="#fcefb6"/>
<rect x="409.52" y="245.84" width="6.34" height="2.00" fill="#fbf4d2"/>
<rect x="409.52" y="247.34" width="6.34" height="2.00" fill="#e2ebef"/>
<rect x="409.52" y="248.84" width="6.34" height="2.00" fill="#fce79e"/>
<rect x="409.52" y="250.35" width="6.34" height="2.00" fill="#fcefb6"/>
<rect x="409.52" y="251.85" width="6.34" height="2.00" fill="#fbf4d2"/>
<rect x="409.52" y="253.35" width="6.34" height="2.00" fill="#fcefb6"/>
<rect x="409.52" y="254.85" width="6.34" height="2.00" fill="#dc6a45"/>
<rect x="409.52" y="256.35" width="6.34" height="3.50" fill="#fcefb6"/>
<rect x="409.52" y="259.36" width="6.34" height="2.00" fill="#fbf4d2"/>
<rect x="409.52" y="260.86" width="6.34" height="6.51" fill="#fce79e"/>
<rect x="409.52" y="266.87" width="6.34" height="3.50" fill="#fcefb6"/>
<rect x="409.52" y="269.87" width="6.34" height="2.00" fill="#fce79e"/>
<rect x="409.52" y="271.37" width="6.34" height="2.00" fill="#fcefb6"/>
<rect x="409.52" y="272.88" width="6.34" height="3.50" fill="#fce79e"/>
<rect x="409.52" y="275.88" width="6.34" height="3.50" fill="#fcefb6"/>
<rect x="409.52" y="278.88" width="6.34" height="2.00" fill="#fbf4d2"/>
<rect x="409.52" y="280.39" width="6.34" height="2.00" fill="#fce79e"/>
<rect x="409.52" y="281.89" width="6.34" height="2.00" fill="#e2ebef"/>
<rect x="409.52" y="283.39" width="6.34" height="3.50" fill="#fbf4d2"/>
<rect x="409.52" y="286.39" width="6.34" height="2.00" fill="#fcefb6"/>
<rect x="409.52" y="287.90" width="6.34" height="2.00" fill="#f3f4e6"/>
<rect x="409.52" y="289.40" width="6.34" height="2.00" fill="#fce79e"/>
<rect x="409.52" y="290.90" width="6.34" height="2.00" fill="#e2ebef"/>
<rect x="409.52" y="292.40" width="6.34" height="2.00" fill="#f3f4e6"/>
<rect x="409.52" y="293.90" width="6.34" height="2.00" fill="#e2ebef"/>
<rect x="409.52" y="295.41" width="6.34" height="2.00" fill="#f3f4e6"/>
<rect x="409.52" y="296.91" width="6.34" height="3.50" fill="#fbf4d2"/>
<rect x="409.52" y="299.91" width="6.34" height="2.00" fill="#e2ebef"/>
<rect x="409.52" y="301.41" width="6.34" height="2.00" fill="#f3f4e6"/>
<rect x="409.52" y="302.92" width="6.34" height="3.50" fill="#fbf4d2"/>
<rect x="409.52" y="305.92" width="6.34" height="2.00" fill="#e2ebef"/>
<rect x="409.52" y="307.42" width="6.34" height="3.50" fill="#fbf4d2"/>
<rect x="409.52" y="310.43" width="6.34" height="2.00" fill="#bed3e8"/>
<rect x="409.52" y="311.93" width="6.34" height="2.00" fill="#e2ebef"/>
<rect x="409.52" y="313.43" width="6.34" height="2.00" fill="#fbf4d2"/>
<rect x="409.52" y="314.93" width="6.34" height="3.50" fill="#fcefb6"/>
<rect x="409.52" y="317.93" width="6.34" height="3.50" fill="#e2ebef"/>
<rect x="409.52" y="320.94" width="6.34" height="2.00" fill="#fbf4d2"/>
<rect x="409.52" y="322.44" width="6.34" height="3.50" fill="#e2ebef"/>
<rect x="409.52" y="325.44" width="6.34" height="2.00" fill="#fcefb6"/>
<rect x="409.52" y="326.95" width="6.34" height="2.00" fill="#fbf4d2"/>
<rect x="409.52" y="328.45" width="6.34" height="2.00" fill="#e2ebef"/>
<rect x="409.52" y="329.95" width="6.34" height="2.00" fill="#f3f4e6"/>
<rect x="409.52" y="331.45" width="6.34" height="2.00" fill="#e2ebef"/>
<rect x="409.52" y="332.95" width="6.34" height="2.00" fill="#f3f4e6"/>
<rect x="409.52" y="334.46" width="6.34" height="2.00" fill="#e2ebef"/>
<rect x="409.52" y="335.96" width="6.34" height="3.50" fill="#bed3e8"/>
<rect x="409.52" y="338.96" width="6.34" height="3.50" fill="#e2ebef"/>
<rect x="409.52" y="341.97" width="6.34" height="5.01" fill="#f3f4e6"/>
<rect x="409.52" y="346.47" width="6.34" height="2.00" fill="#e2ebef"/>
<rect x="409.52" y="347.97" width="6.34" height="3.50" fill="#f3f4e6"/>
<rect x="409.52" y="350.98" width="6.34" height="2.00" fill="#bed3e8"/>
<rect x="409.52" y="352.48" width="6.34" height="2.00" fill="#fbf4d2"/>
<rect x="409.52" y="353.98" width="6.34" height="3.50" fill="#f3f4e6"/>
<rect x="409.52" y="356.99" width="6.34" height="2.00" fill="#bed3e8"/>
<rect x="409.52" y="358.49" width="6.34" height="2.00" fill="#e2ebef"/>
<rect x="409.52" y="359.99" width="6.34" height="2.00" fill="#bed3e8"/>
<rect x="409.52" y="361.49" width="6.34" height="2.00" fill="#f3f4e6"/>
<rect x="409.52" y="362.99" width="6.34" height="2.00" fill="#fbf4d2"/>
<rect x="409.52" y="364.50" width="6.34" height="3.00" fill="#e2ebef"/>
<rect x="415.36" y="62.60" width="6.34" height="2.00" fill="#f3f4e6"/>
<rect x="415.36" y="64.10" width="6.34" height="2.00" fill="#fbf4d2"/>
<rect x="415.36" y="65.60" width="6.34" height="2.00" fill="#f3f4e6"/>
<rect x="415.36" y="67.11" width="6.34" height="2.00" fill="#fcefb6"/>
<rect x="415.36" y="68.61" width="6.34" height="2.00" fill="#f3f4e6"/>
<rect x="415.36" y="70.11" width="6.34" height="2.00" fill="#fbf4d2"/>
<rect x="415.36" y="71.61" width="6.34" height="2.00" fill="#f3f4e6"/>
<rect x="415.36" y="73.11" width="6.34" height="2.00" fill="#fbf4d2"/>
<rect x="415.36" y="74.62" width="6.34" height="2.00" fill="#f3f4e6"/>
<rect x="415.36" y="76.12" width="6.34" height="2.00" fill="#bed3e8"/>
<rect x="415.36" y="77.62" width="6.34" height="2.00" fill="#fbf4d2"/>
<rect x="415.36" y="79.12" width="6.34" height="2.00" fill="#f3f4e6"/>
<rect x="415.36" y="80.62" width="6.34" height="2.00" fill="#fcefb6"/>
<rect x="415.36" y="82.13" width="6.34" height="2.00" fill="#f8d38c"/>
<rect x="415.36" y="83.63" width="6.34" height="2.00" fill="#fcefb6"/>
<rect x="415.36" y="85.13" width="6.34" height="5.01" fill="#f3f4e6"/>
<rect x="415.36" y="89.64" width="6.34" height="3.50" fill="#fbf4d2"/>
<rect x="415.36" y="92.64" width="6.34" height="2.00" fill="#fcefb6"/>
<rect x="415.36" y="94.14" width="6.34" height="2.00" fill="#bed3e8"/>
<rect x="415.36" y="95.64" width="6.34" height="3.50" fill="#fbf4d2"/>
<rect x="415.36" y="98.65" width="6.34" height="2.00" fill="#f3f4e6"/>
<rect x="415.36" y="100.15" width="6.34" height="2.00" fill="#f8d38c"/>
<rect x="415.36" y="101.65" width="6.34" height="2.00" fill="#f3f4e6"/>
<rect x="415.36" y="103.15" width="6.34" height="3.50" fill="#fbf4d2"/>
<rect x="415.36" y="106.16" width="6.34" height="3.50" fill="#f3f4e6"/>
<rect x="415.36" y="109.16" width="6.34" height="2.00" fill="#fbf4d2"/>
<rect x="415.36" y="110.66" width="6.34" height="2.00" fill="#f3f4e6"/>
<rect x="415.36" y="112.17" width="6.34" height="2.00" fill="#f8d38c"/>
<rect x="415.36" y="113.67" width="6.34" height="2.00" fill="#fbf4d2"/>
<rect x="415.36" y="115.17" width="6.34" height="3.50" fill="#f3f4e6"/>
<rect x="415.36" y="118.17" width="6.34" height="2.00" fill="#f8d38c"/>
<rect x="415.36" y="119.67" width="6.34" height="2.00" fill="#f3f4e6"/>
<rect x="415.36" y="121.18" width="6.34" height="2.00" fill="#fbf4d2"/>
<rect x="415.36" y="122.68" width="6.34" height="2.00" fill="#f3f4e6"/>
<rect x="415.36" y="124.18" width="6.34" height="2.00" fill="#fce79e"/>
<rect x="415.36" y="125.68" width="6.34" height="2.00" fill="#fbf4d2"/>
<rect x="415.36" y="127.18" width="6.34" height="3.50" fill="#f3f4e6"/>
<rect x="415.36" y="130.19" width="6.34" height="2.00" fill="#fbf4d2"/>
<rect x="415.36" y="131.69" width="6.34" height="2.00" fill="#e2ebef"/>
<rect x="415.36" y="133.19" width="6.34" height="2.00" fill="#fbf4d2"/>
<rect x="415.36" y="134.69" width="6.34" height="3.50" fill="#f3f4e6"/>
<rect x="415.36" y="137.70" width="6.34" height="8.01" fill="#fbf4d2"/>
<rect x="415.36" y="145.21" width="6.34" height="2.00" fill="#fcefb6"/>
<rect x="415.36" y="146.71" width="6.34" height="3.50" fill="#f3f4e6"/>
<rect x="415.36" y="149.71" width="6.34" height="3.50" fill="#fcefb6"/>
<rect x="415.36" y="152.72" width="6.34" height="2.00" fill="#fbf4d2"/>
<rect x="415.36" y="154.22" width="6.34" height="2.00" fill="#fcefb6"/>
<rect x="415.36" y="155.72" width="6.34" height="2.00" fill="#eca066"/>
<rect x="415.36" y="157.22" width="6.34" height="2.00" fill="#fbf4d2"/>
<rect x="415.36" y="158.73" width="6.34" height="2.00" fill="#fcefb6"/>
<rect x="415.36" y="160.23" width="6.34" height="2.00" fill="#e2ebef"/>
<rect x="415.36" y="161.73" width="6.34" height="2.00" fill="#f3f4e6"/>
<rect x="415.36" y="163.23" width="6.34" height="2.00" fill="#fbf4d2"/>
<rect x="415.36" y="164.73" width="6.34" height="2.00" fill="#fcefb6"/>
<rect x="415.36" y="166.24" width="6.34" height="2.00" fill="#fbf4d2"/>
<rect x="415.36" y="167.74" width="6.34" height="2.00" fill="#fce79e"/>
<rect x="415.36" y="169.24" width="6.34" height="2.00" fill="#fbf4d2"/>
<rect x="415.36" y="170.74" width="6.34" height="2.00" fill="#fce79e"/>
<rect x="415.36" y="172.24" width="6.34" height="2.00" fill="#fbf4d2"/>
<rect x="415.36" y="173.75" width="6.34" height="2.00" fill="#fcefb6"/>
<rect x="415.36" y="175.25" width="6.34" height="2.00" fill="#fbf4d2"/>
<rect x="415.36" y="176.75" width="6.34" height="5.01" fill="#fce79e"/>
<rect x="415.36" y="181.26" width="6.34" height="2.00" fill="#fbf4d2"/>
<rect x="415.36" y="182.76" width="6.34" height="2.00" fill="#f3f4e6"/>
<rect x="415.36" y="184.26" width="6.34" height="2.00" fill="#fbf4d2"/>
<rect x="415.36" y="185.76" width="6.34" height="3.50" fill="#fce79e"/>
<rect x="415.36" y="188.77" width="6.34" height="3.50" fill="#fbf4d2"/>
<rect x="415.36" y="191.77" width="6.34" height="2.00" fill="#fce79e"/>
<rect x="415.36" y="193.27" width="6.34" height="3.50" fill="#fcefb6"/>
<rect x="415.36" y="196.28" width="6.34" height="2.00" fill="#fbf4d2"/>
<rect x="415.36" y="197.78" width="6.34" height="3.50" fill="#fcefb6"/>
<rect x="415.36" y="200.78" width="6.34" height="2.00" fill="#fce79e"/>
<rect x="415.36" y="202.28" width="6.34" height="2.00" fill="#fbf4d2"/>
<rect x="415.36" y="203.79" width="6.34" height="2.00" fill="#fce79e"/>
<rect x="415.36" y="205.29" width="6.34" height="2.00" fill="#fbf4d2"/>
<rect x="415.36" y="206.79" width="6.34" height="2.00" fill="#fcefb6"/>
<rect x="415.36" y="208.29" width="6.34" height="2.00" fill="#fbf4d2"/>
<rect x="415.36" y="209.79" width="6.34" height="2.00" fill="#fcefb6"/>
<rect x="415.36" y="211.30" width="6.34" height="2.00" fill="#fbf4d2"/>
<rect x="415.36" y="212.80" width="6.34" height="2.00" fill="#fce79e"/>
<rect x="415.36" y="214.30" width="6.34" height="2.00" fill="#fcefb6"/>
<rect x="415.36" y="215.80" width="6.34" height="2.00" fill="#fce79e"/>
<rect x="415.36" y="217.30" width="6.34" height="2.00" fill="#fcefb6"/>
<rect x="415.36" y="218.80" width="6.34" height="2.00" fill="#fbf4d2"/>
<rect x="415.36" y="220.31" width="6.34" height="8.01" fill="#fcefb6"/>
<rect x="415.36" y="227.82" width="6.34" height="5.01" fill="#fce79e"/>
<rect x="415.36" y="232.32" width="6.34" height="3.50" fill="#fcefb6"/>
<rect x="415.36" y="235.33" width="6.34" height="2.00" fill="#fce79e"/>
<rect x="415.36" y="236.83" width="6.34" height="3.50" fill="#fbf4d2"/>
<rect x="415.36" y="239.83" width="6.34" height="3.50" fill="#fce79e"/>
<rect x="415.36" y="242.84" width="6.34" height="2.00" fill="#f8d38c"/>
<rect x="415.36" y="244.34" width="6.34" height="2.00" fill="#fbf4d2"/>
<rect x="415.36" y="245.84" width="6.34" height="3.50" fill="#fcefb6"/>
<rect x="415.36" y="248.84" width="6.34" height="2.00" fill="#fce79e"/>
<rect x="415.36" y="250.35" width="6.34" height="3.50" fill="#fcefb6"/>
<rect x="415.36" y="253.35" width="6.34" height="5.01" fill="#fce79e"/>
<rect x="415.36" y="257.86" width="6.34" height="2.00" fill="#fcefb6"/>
<rect x="415.36" y="259.36" width="6.34" height="2.00" fill="#fce79e"/>
<rect x="415.36" y="260.86" width="6.34" height="5.01" fill="#fcefb6"/>
<rect x="415.36" y="265.37" width="6.34" height="5.01" fill="#fce79e"/>
<rect x="415.36" y="269.87" width="6.34" height="3.50" fill="#fcefb6"/>
<rect x="415.36" y="272.88" width="6.34" height="3.50" fill="#fce79e"/>
<rect x="415.36" y="275.88" width="6.34" height="2.00" fill="#fbf4d2"/>
<rect x="415.36" y="277.38" width="6.34" height="2.00" fill="#fcefb6"/>
<rect x="415.36" y="278.88" width="6.34" height="3.50" fill="#fce79e"/>
<rect x="415.36" y="281.89" width="6.34" height="2.00" fill="#e2ebef"/>
<rect x="415.36" y="283.39" width="6.34" height="3.50" fill="#fbf4d2"/>
<rect x="415.36" y="286.39" width="6.34" height="2.00" fill="#fcefb6"/>
<rect x="415.36" y="287.90" width="6.34" height="2.00" fill="#fbf4d2"/>
<rect x="415.36" y="289.40" width="6.34" height="2.00" fill="#f3f4e6"/>
<rect x="415.36" y="290.90" width="6.34" height="9.51" fill="#fbf4d2"/>
<rect x="415.36" y="299.91" width="6.34" height="2.00" fill="#bed3e8"/>
<rect x="415.36" y="301.41" width="6.34" height="2.00" fill="#fbf4d2"/>
<rect x="415.36" y="302.92" width="6.34" height="2.00" fill="#fcefb6"/>
<rect x="415.36" y="304.42" width="6.34" height="2.00" fill="#f3f4e6"/>
<rect x="415.36" y="305.92" width="6.34" height="2.00" fill="#fbf4d2"/>
<rect x="415.36" y="307.42" width="6.34" height="2.00" fill="#e2ebef"/>
<rect x="415.36" y="308.92" width="6.34" height="6.51" fill="#fbf4d2"/>
<rect x="415.36" y="314.93" width="6.34" height="2.00" fill="#f3f4e6"/>
<rect x="415.36" y="316.43" width="6.34" height="2.00" fill="#fcefb6"/>
<rect x="415.36" y="317.93" width="6.34" height="2.00" fill="#fbf4d2"/>
<rect x="415.36" y="319.44" width="6.34" height="2.00" fill="#e2ebef"/>
<rect x="415.36" y="320.94" width="6.34" height="2.00" fill="#fcefb6"/>
<rect x="415.36" y="322.44" width="6.34" height="2.00" fill="#fbf4d2"/>
<rect x="415.36" y="323.94" width="6.34" height="2.00" fill="#f3f4e6"/>
<rect x="415.36" y="325.44" width="6.34" height="2.00" fill="#e2ebef"/>
<rect x="415.36" y="326.95" width="6.34" height="2.00" fill="#fbf4d2"/>
<rect x="415.36" y="328.45" width="6.34" height="2.00" fill="#e2ebef"/>
<rect x="415.36" y="329.95" width="6.34" height="3.50" fill="#fbf4d2"/>
<rect x="415.36" y="332.95" width="6.34" height="2.00" fill="#bed3e8"/>
<rect x="415.36" y="334.46" width="6.34" height="3.50" fill="#f3f4e6"/>
<rect x="415.36" y="337.46" width="6.34" height="2.00" fill="#e2ebef"/>
<rect x="415.36" y="338.96" width="6.34" height="2.00" fill="#fbf4d2"/>
<rect x="415.36" y="340.46" width="6.34" height="3.50" fill="#f3f4e6"/>
<rect x="415.36" y="343.47" width="6.34" height="3.50" fill="#e2ebef"/>
<rect x="415.36" y="346.47" width="6.34" height="3.50" fill="#fbf4d2"/>
<rect x="415.36" y="349.48" width="6.34" height="2.00" fill="#e2ebef"/>
<rect x="415.36" y="350.98" width="6.34" height="2.00" fill="#bed3e8"/>
<rect x="415.36" y="352.48" width="6.34" height="2.00" fill="#fbf4d2"/>
<rect x="415.36" y="353.98" width="6.34" height="8.01" fill="#f3f4e6"/>
<rect x="415.36" y="361.49" width="6.34" height="2.00" fill="#8fb0d8"/>
<rect x="415.36" y="362.99" width="6.34" height="2.00" fill="#e2ebef"/>
<rect x="415.36" y="364.50" width="6.34" height="3.00" fill="#fbf4d2"/>
<rect x="421.20" y="62.60" width="6.34" height="2.00" fill="#fbf4d2"/>
<rect x="421.20" y="64.10" width="6.34" height="2.00" fill="#fcefb6"/>
<rect x="421.20" y="65.60" width="6.34" height="11.01" fill="#fbf4d2"/>
<rect x="421.20" y="76.12" width="6.34" height="2.00" fill="#bed3e8"/>
<rect x="421.20" y="77.62" width="6.34" height="3.50" fill="#fbf4d2"/>
<rect x="421.20" y="80.62" width="6.34" height="2.00" fill="#f3f4e6"/>
<rect x="421.20" y="82.13" width="6.34" height="2.00" fill="#fcefb6"/>
<rect x="421.20" y="83.63" width="6.34" height="2.00" fill="#fbf4d2"/>
<rect x="421.20" y="85.13" width="6.34" height="2.00" fill="#e2ebef"/>
<rect x="421.20" y="86.63" width="6.34" height="2.00" fill="#fbf4d2"/>
<rect x="421.20" y="88.13" width="6.34" height="2.00" fill="#fcefb6"/>
<rect x="421.20" y="89.64" width="6.34" height="2.00" fill="#fbf4d2"/>
<rect x="421.20" y="91.14" width="6.34" height="2.00" fill="#fcefb6"/>
<rect x="421.20" y="92.64" width="6.34" height="2.00" fill="#f3f4e6"/>
<rect x="421.20" y="94.14" width="6.34" height="2.00" fill="#fbf4d2"/>
<rect x="421.20" y="95.64" width="6.34" height="2.00" fill="#fcefb6"/>
<rect x="421.20" y="97.15" width="6.34" height="2.00" fill="#f3f4e6"/>
<rect x="421.20" y="98.65" width="6.34" height="2.00" fill="#fbf4d2"/>
<rect x="421.20" y="100.15" width="6.34" height="2.00" fill="#bed3e8"/>
<rect x="421.20" y="101.65" width="6.34" height="2.00" fill="#f3f4e6"/>
<rect x="421.20" y="103.15" width="6.34" height="2.00" fill="#eca066"/>
<rect x="421.20" y="104.66" width="6.34" height="2.00" fill="#f3f4e6"/>
<rect x="421.20" y="106.16" width="6.34" height="2.00" fill="#fbf4d2"/>
<rect x="421.20" y="107.66" width="6.34" height="5.01" fill="#fcefb6"/>
<rect x="421.20" y="112.17" width="6.34" height="2.00" fill="#f8d38c"/>
<rect x="421.20" y="113.67" width="6.34" height="2.00" fill="#fcefb6"/>
<rect x="421.20" y="115.17" width="6.34" height="3.50" fill="#fbf4d2"/>
<rect x="421.20" y="118.17" width="6.34" height="2.00" fill="#f8d38c"/>
<rect x="421.20" y="119.67" width="6.34" height="2.00" fill="#fcefb6"/>
<rect x="421.20" y="121.18" width="6.34" height="9.51" fill="#fbf4d2"/>
<rect x="421.20" y="130.19" width="6.34" height="2.00" fill="#fce79e"/>
<rect x="421.20" y="131.69" width="6.34" height="2.00" fill="#fbf4d2"/>
<rect x="421.20" y="133.19" width="6.34" height="3.50" fill="#f3f4e6"/>
<rect x="421.20" y="136.20" width="6.34" height="2.00" fill="#fbf4d2"/>
<rect x="421.20" y="137.70" width="6.34" height="2.00" fill="#e2ebef"/>
<rect x="421.20" y="139.20" width="6.34" height="3.50" fill="#fbf4d2"/>
<rect x="421.20" y="142.20" width="6.34" height="2.00" fill="#fce79e"/>
<rect x="421.20" y="143.71" width="6.34" height="2.00" fill="#f3f4e6"/>
<rect x="421.20" y="145.21" width="6.34" height="2.00" fill="#fbf4d2"/>
<rect x="421.20" y="146.71" width="6.34" height="2.00" fill="#fcefb6"/>
<rect x="421.20" y="148.21" width="6.34" height="2.00" fill="#f8d38c"/>
<rect x="421.20" y="149.71" width="6.34" height="2.00" fill="#f3f4e6"/>
<rect x="421.20" y="151.22" width="6.34" height="2.00" fill="#e2ebef"/>
<rect x="421.20" y="152.72" width="6.34" height="3.50" fill="#fbf4d2"/>
<rect x="421.20" y="155.72" width="6.34" height="2.00" fill="#bed3e8"/>
<rect x="421.20" y="157.22" width="6.34" height="3.50" fill="#f3f4e6"/>
<rect x="421.20" y="160.23" width="6.34" height="2.00" fill="#fbf4d2"/>
<rect x="421.20" y="161.73" width="6.34" height="5.01" fill="#fcefb6"/>
<rect x="421.20" y="166.24" width="6.34" height="3.50" fill="#fce79e"/>
<rect x="421.20" y="169.24" width="6.34" height="3.50" fill="#fcefb6"/>
<rect x="421.20" y="172.24" width="6.34" height="2.00" fill="#fce79e"/>
<rect x="421.20" y="173.75" width="6.34" height="2.00" fill="#f8d38c"/>
<rect x="421.20" y="175.25" width="6.34" height="3.50" fill="#fbf4d2"/>
<rect x="421.20" y="178.25" width="6.34" height="2.00" fill="#fcefb6"/>
<rect x="421.20" y="179.75" width="6.34" height="2.00" fill="#fce79e"/>
<rect x="421.20" y="181.26" width="6.34" height="2.00" fill="#fcefb6"/>
<rect x="421.20" y="182.76" width="6.34" height="2.00" fill="#fbf4d2"/>
<rect x="421.20" y="184.26" width="6.34" height="2.00" fill="#fcefb6"/>
<rect x="421.20" y="185.76" width="6.34" height="3.50" fill="#fce79e"/>
<rect x="421.20" y="188.77" width="6.34" height="2.00" fill="#fbf4d2"/>
<rect x="421.20" y="190.27" width="6.34" height="2.00" fill="#f3f4e6"/>
<rect x="421.20" y="191.77" width="6.34" height="2.00" fill="#fce79e"/>
<rect x="421.20" y="193.27" width="6.34" height="11.01" fill="#fcefb6"/>
<rect x="421.20" y="203.79" width="6.34" height="2.00" fill="#fbf4d2"/>
<rect x="421.20" y="205.29" width="6.34" height="2.00" fill="#f3f4e6"/>
<rect x="421.20" y="206.79" width="6.34" height="2.00" fill="#fbf4d2"/>
<rect x="421.20" y="208.29" width="6.34" height="2.00" fill="#fcefb6"/>
<rect x="421.20" y="209.79" width="6.34" height="8.01" fill="#fce79e"/>
<rect x="421.20" y="217.30" width="6.34" height="2.00" fill="#fbf4d2"/>
<rect x="421.20" y="218.80" width="6.34" height="2.00" fill="#fce79e"/>
<rect x="421.20" y="220.31" width="6.34" height="2.00" fill="#e2ebef"/>
<rect x="421.20" y="221.81" width="6.34" height="9.51" fill="#fcefb6"/>
<rect x="421.20" y="230.82" width="6.34" height="2.00" fill="#fce79e"/>
<rect x="421.20" y="232.32" width="6.34" height="2.00" fill="#fcefb6"/>
<rect x="421.20" y="233.82" width="6.34" height="2.00" fill="#fce79e"/>
<rect x="421.20" y="235.33" width="6.34" height="2.00" fill="#eca066"/>
<rect x="421.20" y="236.83" width="6.34" height="3.50" fill="#fcefb6"/>
<rect x="421.20" y="239.83" width="6.34" height="2.00" fill="#fbf4d2"/>
<rect x="421.20" y="241.33" width="6.34" height="5.01" fill="#fce79e"/>
<rect x="421.20" y="245.84" width="6.34" height="2.00" fill="#fbf4d2"/>
<rect x="421.20" y="247.34" width="6.34" height="2.00" fill="#fce79e"/>
<rect x="421.20" y="248.84" width="6.34" height="2.00" fill="#fbf4d2"/>
<rect x="421.20" y="250.35" width="6.34" height="8.01" fill="#fce79e"/>
<rect x="421.20" y="257.86" width="6.34" height="2.00" fill="#fcefb6"/>
<rect x="421.20" y="259.36" width="6.34" height="2.00" fill="#fbf4d2"/>
<rect x="421.20" y="260.86" width="6.34" height="2.00" fill="#fce79e"/>
<rect x="421.20" y="262.36" width="6.34" height="2.00" fill="#f8d38c"/>
<rect x="421.20" y="263.86" width="6.34" height="2.00" fill="#e2ebef"/>
<rect x="421.20" y="265.37" width="6.34" height="5.01" fill="#fcefb6"/>
<rect x="421.20" y="269.87" width="6.34" height="5.01" fill="#fce79e"/>
<rect x="421.20" y="274.38" width="6.34" height="8.01" fill="#fcefb6"/>
<rect x="421.20" y="281.89" width="6.34" height="2.00" fill="#fbf4d2"/>
<rect x="421.20" y="283.39" width="6.34" height="2.00" fill="#fcefb6"/>
<rect x="421.20" y="284.89" width="6.34" height="3.50" fill="#f3f4e6"/>
<rect x="421.20" y="287.90" width="6.34" height="3.50" fill="#fbf4d2"/>
<rect x="421.20" y="290.90" width="6.34" height="2.00" fill="#fcefb6"/>
<rect x="421.20" y="292.40" width="6.34" height="2.00" fill="#fbf4d2"/>
<rect x="421.20" y="293.90" width="6.34" height="2.00" fill="#f3f4e6"/>
<rect x="421.20" y="295.41" width="6.34" height="2.00" fill="#fbf4d2"/>
<rect x="421.20" y="296.91" width="6.34" height="2.00" fill="#f3f4e6"/>
<rect x="421.20" y="298.41" width="6.34" height="3.50" fill="#e2ebef"/>
<rect x="421.20" y="301.41" width="6.34" height="2.00" fill="#fbf4d2"/>
<rect x="421.20" y="302.92" width="6.34" height="3.50" fill="#f3f4e6"/>
<rect x="421.20" y="305.92" width="6.34" height="2.00" fill="#fbf4d2"/>
<rect x="421.20" y="307.42" width="6.34" height="2.00" fill="#e2ebef"/>
<rect x="421.20" y="308.92" width="6.34" height="3.50" fill="#fbf4d2"/>
<rect x="421.20" y="311.93" width="6.34" height="2.00" fill="#e2ebef"/>
<rect x="421.20" y="313.43" width="6.34" height="2.00" fill="#fbf4d2"/>
<rect x="421.20" y="314.93" width="6.34" height="3.50" fill="#f3f4e6"/>
<rect x="421.20" y="317.93" width="6.34" height="2.00" fill="#e2ebef"/>
<rect x="421.20" y="319.44" width="6.34" height="2.00" fill="#fbf4d2"/>
<rect x="421.20" y="320.94" width="6.34" height="3.50" fill="#f3f4e6"/>
<rect x="421.20" y="323.94" width="6.34" height="2.00" fill="#fbf4d2"/>
<rect x="421.20" y="325.44" width="6.34" height="2.00" fill="#f3f4e6"/>
<rect x="421.20" y="326.95" width="6.34" height="2.00" fill="#fbf4d2"/>
<rect x="421.20" y="328.45" width="6.34" height="2.00" fill="#bed3e8"/>
<rect x="421.20" y="329.95" width="6.34" height="2.00" fill="#e2ebef"/>
<rect x="421.20" y="331.45" width="6.34" height="2.00" fill="#fbf4d2"/>
<rect x="421.20" y="332.95" width="6.34" height="2.00" fill="#e2ebef"/>
<rect x="421.20" y="334.46" width="6.34" height="2.00" fill="#f3f4e6"/>
<rect x="421.20" y="335.96" width="6.34" height="2.00" fill="#e2ebef"/>
<rect x="421.20" y="337.46" width="6.34" height="2.00" fill="#8fb0d8"/>
<rect x="421.20" y="338.96" width="6.34" height="3.50" fill="#e2ebef"/>
<rect x="421.20" y="341.97" width="6.34" height="2.00" fill="#f3f4e6"/>
<rect x="421.20" y="343.47" width="6.34" height="2.00" fill="#fce79e"/>
<rect x="421.20" y="344.97" width="6.34" height="2.00" fill="#fbf4d2"/>
<rect x="421.20" y="346.47" width="6.34" height="2.00" fill="#fce79e"/>
<rect x="421.20" y="347.97" width="6.34" height="2.00" fill="#e2ebef"/>
<rect x="421.20" y="349.48" width="6.34" height="3.50" fill="#bed3e8"/>
<rect x="421.20" y="352.48" width="6.34" height="2.00" fill="#f3f4e6"/>
<rect x="421.20" y="353.98" width="6.34" height="2.00" fill="#e2ebef"/>
<rect x="421.20" y="355.48" width="6.34" height="2.00" fill="#fce79e"/>
<rect x="421.20" y="356.99" width="6.34" height="3.50" fill="#f3f4e6"/>
<rect x="421.20" y="359.99" width="6.34" height="2.00" fill="#e2ebef"/>
<rect x="421.20" y="361.49" width="6.34" height="3.50" fill="#f3f4e6"/>
<rect x="421.20" y="364.50" width="6.34" height="3.00" fill="#e2ebef"/>
<rect x="427.04" y="62.60" width="6.34" height="3.50" fill="#fbf4d2"/>
<rect x="427.04" y="65.60" width="6.34" height="5.01" fill="#fcefb6"/>
<rect x="427.04" y="70.11" width="6.34" height="2.00" fill="#fbf4d2"/>
<rect x="427.04" y="71.61" width="6.34" height="2.00" fill="#fcefb6"/>
<rect x="427.04" y="73.11" width="6.34" height="6.51" fill="#fbf4d2"/>
<rect x="427.04" y="79.12" width="6.34" height="2.00" fill="#fcefb6"/>
<rect x="427.04" y="80.62" width="6.34" height="2.00" fill="#fbf4d2"/>
<rect x="427.04" y="82.13" width="6.34" height="2.00" fill="#f8d38c"/>
<rect x="427.04" y="83.63" width="6.34" height="2.00" fill="#f3f4e6"/>
<rect x="427.04" y="85.13" width="6.34" height="2.00" fill="#fbf4d2"/>
<rect x="427.04" y="86.63" width="6.34" height="2.00" fill="#f3f4e6"/>
<rect x="427.04" y="88.13" width="6.34" height="5.01" fill="#fbf4d2"/>
<rect x="427.04" y="92.64" width="6.34" height="2.00" fill="#fcefb6"/>
<rect x="427.04" y="94.14" width="6.34" height="2.00" fill="#eca066"/>
<rect x="427.04" y="95.64" width="6.34" height="3.50" fill="#fbf4d2"/>
<rect x="427.04" y="98.65" width="6.34" height="2.00" fill="#e2ebef"/>
<rect x="427.04" y="100.15" width="6.34" height="5.01" fill="#fcefb6"/>
<rect x="427.04" y="104.66" width="6.34" height="3.50" fill="#fbf4d2"/>
<rect x="427.04" y="107.66" width="6.34" height="2.00" fill="#fce79e"/>
<rect x="427.04" y="109.16" width="6.34" height="2.00" fill="#fcefb6"/>
<rect x="427.04" y="110.66" width="6.34" height="5.01" fill="#fbf4d2"/>
<rect x="427.04" y="115.17" width="6.34" height="2.00" fill="#f3f4e6"/>
<rect x="427.04" y="116.67" width="6.34" height="3.50" fill="#fbf4d2"/>
<rect x="427.04" y="119.67" width="6.34" height="3.50" fill="#fcefb6"/>
<rect x="427.04" y="122.68" width="6.34" height="2.00" fill="#fbf4d2"/>
<rect x="427.04" y="124.18" width="6.34" height="3.50" fill="#e2ebef"/>
<rect x="427.04" y="127.18" width="6.34" height="2.00" fill="#fbf4d2"/>
<rect x="427.04" y="128.69" width="6.34" height="2.00" fill="#f3f4e6"/>
<rect x="427.04" y="130.19" width="6.34" height="2.00" fill="#f8d38c"/>
<rect x="427.04" y="131.69" width="6.34" height="3.50" fill="#fbf4d2"/>
<rect x="427.04" y="134.69" width="6.34" height="2.00" fill="#fcefb6"/>
<rect x="427.04" y="136.20" width="6.34" height="2.00" fill="#fbf4d2"/>
<rect x="427.04" y="137.70" width="6.34" height="2.00" fill="#eca066"/>
<rect x="427.04" y="139.20" width="6.34" height="3.50" fill="#fcefb6"/>
<rect x="427.04" y="142.20" width="6.34" height="2.00" fill="#fbf4d2"/>
<rect x="427.04" y="143.71" width="6.34" height="2.00" fill="#fce79e"/>
<rect x="427.04" y="145.21" width="6.34" height="2.00" fill="#eca066"/>
<rect x="427.04" y="146.71" width="6.34" height="2.00" fill="#fbf4d2"/>
<rect x="427.04" y="148.21" width="6.34" height="2.00" fill="#fcefb6"/>
<rect x="427.04" y="149.71" width="6.34" height="3.50" fill="#fbf4d2"/>
<rect x="427.04" y="152.72" width="6.34" height="2.00" fill="#f8d38c"/>
<rect x="427.04" y="154.22" width="6.34" height="2.00" fill="#fcefb6"/>
<rect x="427.04" y="155.72" width="6.34" height="2.00" fill="#eca066"/>
<rect x="427.04" y="157.22" width="6.34" height="2.00" fill="#f3f4e6"/>
<rect x="427.04" y="158.73" width="6.34" height="3.50" fill="#fbf4d2"/>
<rect x="427.04" y="161.73" width="6.34" height="2.00" fill="#eca066"/>
<rect x="427.04" y="163.23" width="6.34" height="3.50" fill="#e2ebef"/>
<rect x="427.04" y="166.24" width="6.34" height="2.00" fill="#fbf4d2"/>
<rect x="427.04" y="167.74" width="6.34" height="2.00" fill="#f8d38c"/>
<rect x="427.04" y="169.24" width="6.34" height="9.51" fill="#fcefb6"/>
<rect x="427.04" y="178.25" width="6.34" height="2.00" fill="#eca066"/>
<rect x="427.04" y="179.75" width="6.34" height="2.00" fill="#fce79e"/>
<rect x="427.04" y="181.26" width="6.34" height="2.00" fill="#dc6a45"/>
<rect x="427.04" y="182.76" width="6.34" height="2.00" fill="#fce79e"/>
<rect x="427.04" y="184.26" width="6.34" height="2.00" fill="#f8d38c"/>
<rect x="427.04" y="185.76" width="6.34" height="3.50" fill="#fce79e"/>
<rect x="427.04" y="188.77" width="6.34" height="5.01" fill="#f8d38c"/>
<rect x="427.04" y="193.27" width="6.34" height="2.00" fill="#eca066"/>
<rect x="427.04" y="194.77" width="6.34" height="6.51" fill="#f8d38c"/>
<rect x="427.04" y="200.78" width="6.34" height="2.00" fill="#eca066"/>
<rect x="427.04" y="202.28" width="6.34" height="2.00" fill="#fce79e"/>
<rect x="427.04" y="203.79" width="6.34" height="2.00" fill="#fcefb6"/>
<rect x="427.04" y="205.29" width="6.34" height="2.00" fill="#f8d38c"/>
<rect x="427.04" y="206.79" width="6.34" height="2.00" fill="#eca066"/>
<rect x="427.04" y="208.29" width="6.34" height="2.00" fill="#fbf4d2"/>
<rect x="427.04" y="209.79" width="6.34" height="3.50" fill="#f8d38c"/>
<rect x="427.04" y="212.80" width="6.34" height="2.00" fill="#eca066"/>
<rect x="427.04" y="214.30" width="6.34" height="2.00" fill="#f8d38c"/>
<rect x="427.04" y="215.80" width="6.34" height="2.00" fill="#fcefb6"/>
<rect x="427.04" y="217.30" width="6.34" height="3.50" fill="#fce79e"/>
<rect x="427.04" y="220.31" width="6.34" height="2.00" fill="#f8d38c"/>
<rect x="427.04" y="221.81" width="6.34" height="2.00" fill="#fcefb6"/>
<rect x="427.04" y="223.31" width="6.34" height="3.50" fill="#fce79e"/>
<rect x="427.04" y="226.31" width="6.34" height="2.00" fill="#f8d38c"/>
<rect x="427.04" y="227.82" width="6.34" height="2.00" fill="#fce79e"/>
<rect x="427.04" y="229.32" width="6.34" height="3.50" fill="#fcefb6"/>
<rect x="427.04" y="232.32" width="6.34" height="2.00" fill="#fce79e"/>
<rect x="427.04" y="233.82" width="6.34" height="2.00" fill="#f8d38c"/>
<rect x="427.04" y="235.33" width="6.34" height="3.50" fill="#eca066"/>
<rect x="427.04" y="238.33" width="6.34" height="3.50" fill="#f8d38c"/>
<rect x="427.04" y="241.33" width="6.34" height="2.00" fill="#eca066"/>
<rect x="427.04" y="242.84" width="6.34" height="2.00" fill="#f8d38c"/>
<rect x="427.04" y="244.34" width="6.34" height="2.00" fill="#fce79e"/>
<rect x="427.04" y="245.84" width="6.34" height="2.00" fill="#eca066"/>
<rect x="427.04" y="247.34" width="6.34" height="3.50" fill="#fce79e"/>
<rect x="427.04" y="250.35" width="6.34" height="2.00" fill="#eca066"/>
<rect x="427.04" y="251.85" width="6.34" height="2.00" fill="#f8d38c"/>
<rect x="427.04" y="253.35" width="6.34" height="3.50" fill="#fce79e"/>
<rect x="427.04" y="256.35" width="6.34" height="2.00" fill="#f8d38c"/>
<rect x="427.04" y="257.86" width="6.34" height="2.00" fill="#fcefb6"/>
<rect x="427.04" y="259.36" width="6.34" height="3.50" fill="#fce79e"/>
<rect x="427.04" y="262.36" width="6.34" height="2.00" fill="#f8d38c"/>
<rect x="427.04" y="263.86" width="6.34" height="3.50" fill="#fce79e"/>
<rect x="427.04" y="266.87" width="6.34" height="5.01" fill="#f8d38c"/>
<rect x="427.04" y="271.37" width="6.34" height="2.00" fill="#fce79e"/>
<rect x="427.04" y="272.88" width="6.34" height="2.00" fill="#eca066"/>
<rect x="427.04" y="274.38" width="6.34" height="3.50" fill="#f8d38c"/>
<rect x="427.04" y="277.38" width="6.34" height="2.00" fill="#fce79e"/>
<rect x="427.04" y="278.88" width="6.34" height="2.00" fill="#eca066"/>
<rect x="427.04" y="280.39" width="6.34" height="2.00" fill="#fce79e"/>
<rect x="427.04" y="281.89" width="6.34" height="3.50" fill="#fbf4d2"/>
<rect x="427.04" y="284.89" width="6.34" height="3.50" fill="#e2ebef"/>
<rect x="427.04" y="287.90" width="6.34" height="6.51" fill="#f3f4e6"/>
<rect x="427.04" y="293.90" width="6.34" height="2.00" fill="#fcefb6"/>
<rect x="427.04" y="295.41" width="6.34" height="2.00" fill="#fbf4d2"/>
<rect x="427.04" y="296.91" width="6.34" height="2.00" fill="#e2ebef"/>
<rect x="427.04" y="298.41" width="6.34" height="2.00" fill="#f3f4e6"/>
<rect x="427.04" y="299.91" width="6.34" height="3.50" fill="#e2ebef"/>
<rect x="427.04" y="302.92" width="6.34" height="2.00" fill="#fbf4d2"/>
<rect x="427.04" y="304.42" width="6.34" height="2.00" fill="#fcefb6"/>
<rect x="427.04" y="305.92" width="6.34" height="3.50" fill="#fbf4d2"/>
<rect x="427.04" y="308.92" width="6.34" height="2.00" fill="#f3f4e6"/>
<rect x="427.04" y="310.43" width="6.34" height="2.00" fill="#5b80bd"/>
<rect x="427.04" y="311.93" width="6.34" height="2.00" fill="#fcefb6"/>
<rect x="427.04" y="313.43" width="6.34" height="5.01" fill="#fbf4d2"/>
<rect x="427.04" y="317.93" width="6.34" height="5.01" fill="#e2ebef"/>
<rect x="427.04" y="322.44" width="6.34" height="3.50" fill="#fbf4d2"/>
<rect x="427.04" y="325.44" width="6.34" height="2.00" fill="#e2ebef"/>
<rect x="427.04" y="326.95" width="6.34" height="2.00" fill="#fbf4d2"/>
<rect x="427.04" y="328.45" width="6.34" height="2.00" fill="#f3f4e6"/>
<rect x="427.04" y="329.95" width="6.34" height="2.00" fill="#e2ebef"/>
<rect x="427.04" y="331.45" width="6.34" height="2.00" fill="#fbf4d2"/>
<rect x="427.04" y="332.95" width="6.34" height="3.50" fill="#e2ebef"/>
<rect x="427.04" y="335.96" width="6.34" height="2.00" fill="#f3f4e6"/>
<rect x="427.04" y="337.46" width="6.34" height="2.00" fill="#5b80bd"/>
<rect x="427.04" y="338.96" width="6.34" height="3.50" fill="#e2ebef"/>
<rect x="427.04" y="341.97" width="6.34" height="2.00" fill="#f3f4e6"/>
<rect x="427.04" y="343.47" width="6.34" height="2.00" fill="#bed3e8"/>
<rect x="427.04" y="344.97" width="6.34" height="3.50" fill="#e2ebef"/>
<rect x="427.04" y="347.97" width="6.34" height="3.50" fill="#f3f4e6"/>
<rect x="427.04" y="350.98" width="6.34" height="2.00" fill="#e2ebef"/>
<rect x="427.04" y="352.48" width="6.34" height="2.00" fill="#bed3e8"/>
<rect x="427.04" y="353.98" width="6.34" height="3.50" fill="#f3f4e6"/>
<rect x="427.04" y="356.99" width="6.34" height="2.00" fill="#5b80bd"/>
<rect x="427.04" y="358.49" width="6.34" height="2.00" fill="#8fb0d8"/>
<rect x="427.04" y="359.99" width="6.34" height="2.00" fill="#e2ebef"/>
<rect x="427.04" y="361.49" width="6.34" height="2.00" fill="#5b80bd"/>
<rect x="427.04" y="362.99" width="6.34" height="2.00" fill="#e2ebef"/>
<rect x="427.04" y="364.50" width="6.34" height="2.00" fill="#fbf4d2"/>
<rect x="427.04" y="366.00" width="6.34" height="1.50" fill="#5b80bd"/>
<rect x="432.88" y="62.60" width="6.34" height="2.00" fill="#fbf4d2"/>
<rect x="432.88" y="64.10" width="6.34" height="5.01" fill="#fcefb6"/>
<rect x="432.88" y="68.61" width="6.34" height="2.00" fill="#fbf4d2"/>
<rect x="432.88" y="70.11" width="6.34" height="2.00" fill="#f3f4e6"/>
<rect x="432.88" y="71.61" width="6.34" height="2.00" fill="#fcefb6"/>
<rect x="432.88" y="73.11" width="6.34" height="3.50" fill="#fbf4d2"/>
<rect x="432.88" y="76.12" width="6.34" height="2.00" fill="#fcefb6"/>
<rect x="432.88" y="77.62" width="6.34" height="2.00" fill="#fbf4d2"/>
<rect x="432.88" y="79.12" width="6.34" height="2.00" fill="#fcefb6"/>
<rect x="432.88" y="80.62" width="6.34" height="2.00" fill="#fbf4d2"/>
<rect x="432.88" y="82.13" width="6.34" height="2.00" fill="#f3f4e6"/>
<rect x="432.88" y="83.63" width="6.34" height="8.01" fill="#fcefb6"/>
<rect x="432.88" y="91.14" width="6.34" height="3.50" fill="#fbf4d2"/>
<rect x="432.88" y="94.14" width="6.34" height="2.00" fill="#bed3e8"/>
<rect x="432.88" y="95.64" width="6.34" height="2.00" fill="#fcefb6"/>
<rect x="432.88" y="97.15" width="6.34" height="3.50" fill="#fbf4d2"/>
<rect x="432.88" y="100.15" width="6.34" height="2.00" fill="#fcefb6"/>
<rect x="432.88" y="101.65" width="6.34" height="2.00" fill="#fbf4d2"/>
<rect x="432.88" y="103.15" width="6.34" height="3.50" fill="#fcefb6"/>
<rect x="432.88" y="106.16" width="6.34" height="6.51" fill="#fbf4d2"/>
<rect x="432.88" y="112.17" width="6.34" height="2.00" fill="#e2ebef"/>
<rect x="432.88" y="113.67" width="6.34" height="2.00" fill="#fcefb6"/>
<rect x="432.88" y="115.17" width="6.34" height="2.00" fill="#e2ebef"/>
<rect x="432.88" y="116.67" width="6.34" height="2.00" fill="#fbf4d2"/>
<rect x="432.88" y="118.17" width="6.34" height="2.00" fill="#f8d38c"/>
<rect x="432.88" y="119.67" width="6.34" height="5.01" fill="#fcefb6"/>
<rect x="432.88" y="124.18" width="6.34" height="6.51" fill="#fbf4d2"/>
<rect x="432.88" y="130.19" width="6.34" height="2.00" fill="#fcefb6"/>
<rect x="432.88" y="131.69" width="6.34" height="3.50" fill="#fbf4d2"/>
<rect x="432.88" y="134.69" width="6.34" height="2.00" fill="#fcefb6"/>
<rect x="432.88" y="136.20" width="6.34" height="2.00" fill="#e2ebef"/>
<rect x="432.88" y="137.70" width="6.34" height="2.00" fill="#bed3e8"/>
<rect x="432.88" y="139.20" width="6.34" height="3.50" fill="#fbf4d2"/>
<rect x="432.88" y="142.20" width="6.34" height="2.00" fill="#fcefb6"/>
<rect x="432.88" y="143.71" width="6.34" height="3.50" fill="#fbf4d2"/>
<rect x="432.88" y="146.71" width="6.34" height="3.50" fill="#fcefb6"/>
<rect x="432.88" y="149.71" width="6.34" height="2.00" fill="#f3f4e6"/>
<rect x="432.88" y="151.22" width="6.34" height="2.00" fill="#fbf4d2"/>
<rect x="432.88" y="152.72" width="6.34" height="2.00" fill="#fcefb6"/>
<rect x="432.88" y="154.22" width="6.34" height="2.00" fill="#fbf4d2"/>
<rect x="432.88" y="155.72" width="6.34" height="2.00" fill="#dc6a45"/>
<rect x="432.88" y="157.22" width="6.34" height="2.00" fill="#fbf4d2"/>
<rect x="432.88" y="158.73" width="6.34" height="3.50" fill="#fcefb6"/>
<rect x="432.88" y="161.73" width="6.34" height="2.00" fill="#f8d38c"/>
<rect x="432.88" y="163.23" width="6.34" height="2.00" fill="#fbf4d2"/>
<rect x="432.88" y="164.73" width="6.34" height="2.00" fill="#f3f4e6"/>
<rect x="432.88" y="166.24" width="6.34" height="2.00" fill="#fbf4d2"/>
<rect x="432.88" y="167.74" width="6.34" height="3.50" fill="#fcefb6"/>
<rect x="432.88" y="170.74" width="6.34" height="6.51" fill="#f8d38c"/>
<rect x="432.88" y="176.75" width="6.34" height="2.00" fill="#fcefb6"/>
<rect x="432.88" y="178.25" width="6.34" height="2.00" fill="#eca066"/>
<rect x="432.88" y="179.75" width="6.34" height="2.00" fill="#fce79e"/>
<rect x="432.88" y="181.26" width="6.34" height="2.00" fill="#f8d38c"/>
<rect x="432.88" y="182.76" width="6.34" height="2.00" fill="#fcefb6"/>
<rect x="432.88" y="184.26" width="6.34" height="2.00" fill="#f8d38c"/>
<rect x="432.88" y="185.76" width="6.34" height="2.00" fill="#fcefb6"/>
<rect x="432.88" y="187.26" width="6.34" height="2.00" fill="#f8d38c"/>
<rect x="432.88" y="188.77" width="6.34" height="2.00" fill="#fce79e"/>
<rect x="432.88" y="190.27" width="6.34" height="2.00" fill="#f8d38c"/>
<rect x="432.88" y="191.77" width="6.34" height="2.00" fill="#fcefb6"/>
<rect x="432.88" y="193.27" width="6.34" height="2.00" fill="#f8d38c"/>
<rect x="432.88" y="194.77" width="6.34" height="2.00" fill="#fce79e"/>
<rect x="432.88" y="196.28" width="6.34" height="2.00" fill="#eca066"/>
<rect x="432.88" y="197.78" width="6.34" height="2.00" fill="#fcefb6"/>
<rect x="432.88" y="199.28" width="6.34" height="3.50" fill="#fce79e"/>
<rect x="432.88" y="202.28" width="6.34" height="3.50" fill="#f8d38c"/>
<rect x="432.88" y="205.29" width="6.34" height="2.00" fill="#fcefb6"/>
<rect x="432.88" y="206.79" width="6.34" height="2.00" fill="#eca066"/>
<rect x="432.88" y="208.29" width="6.34" height="2.00" fill="#f8d38c"/>
<rect x="432.88" y="209.79" width="6.34" height="3.50" fill="#fcefb6"/>
<rect x="432.88" y="212.80" width="6.34" height="3.50" fill="#fce79e"/>
<rect x="432.88" y="215.80" width="6.34" height="2.00" fill="#eca066"/>
<rect x="432.88" y="217.30" width="6.34" height="3.50" fill="#f8d38c"/>
<rect x="432.88" y="220.31" width="6.34" height="2.00" fill="#fce79e"/>
<rect x="432.88" y="221.81" width="6.34" height="2.00" fill="#f8d38c"/>
<rect x="432.88" y="223.31" width="6.34" height="2.00" fill="#fce79e"/>
<rect x="432.88" y="224.81" width="6.34" height="5.01" fill="#f8d38c"/>
<rect x="432.88" y="229.32" width="6.34" height="2.00" fill="#eca066"/>
<rect x="432.88" y="230.82" width="6.34" height="2.00" fill="#fce79e"/>
<rect x="432.88" y="232.32" width="6.34" height="2.00" fill="#f8d38c"/>
<rect x="432.88" y="233.82" width="6.34" height="2.00" fill="#eca066"/>
<rect x="432.88" y="235.33" width="6.34" height="2.00" fill="#fcefb6"/>
<rect x="432.88" y="236.83" width="6.34" height="2.00" fill="#f8d38c"/>
<rect x="432.88" y="238.33" width="6.34" height="3.50" fill="#fce79e"/>
<rect x="432.88" y="241.33" width="6.34" height="2.00" fill="#dc6a45"/>
<rect x="432.88" y="242.84" width="6.34" height="3.50" fill="#fce79e"/>
<rect x="432.88" y="245.84" width="6.34" height="2.00" fill="#eca066"/>
<rect x="432.88" y="247.34" width="6.34" height="2.00" fill="#fce79e"/>
<rect x="432.88" y="248.84" width="6.34" height="2.00" fill="#f8d38c"/>
<rect x="432.88" y="250.35" width="6.34" height="2.00" fill="#fcefb6"/>
<rect x="432.88" y="251.85" width="6.34" height="2.00" fill="#fce79e"/>
<rect x="432.88" y="253.35" width="6.34" height="2.00" fill="#dc6a45"/>
<rect x="432.88" y="254.85" width="6.34" height="5.01" fill="#f8d38c"/>
<rect x="432.88" y="259.36" width="6.34" height="2.00" fill="#fce79e"/>
<rect x="432.88" y="260.86" width="6.34" height="2.00" fill="#eca066"/>
<rect x="432.88" y="262.36" width="6.34" height="2.00" fill="#dc6a45"/>
<rect x="432.88" y="263.86" width="6.34" height="2.00" fill="#fcefb6"/>
<rect x="432.88" y="265.37" width="6.34" height="2.00" fill="#fce79e"/>
<rect x="432.88" y="266.87" width="6.34" height="3.50" fill="#eca066"/>
<rect x="432.88" y="269.87" width="6.34" height="2.00" fill="#f8d38c"/>
<rect x="432.88" y="271.37" width="6.34" height="2.00" fill="#fcefb6"/>
<rect x="432.88" y="272.88" width="6.34" height="2.00" fill="#eca066"/>
<rect x="432.88" y="274.38" width="6.34" height="3.50" fill="#fce79e"/>
<rect x="432.88" y="277.38" width="6.34" height="2.00" fill="#eca066"/>
<rect x="432.88" y="278.88" width="6.34" height="3.50" fill="#f8d38c"/>
<rect x="432.88" y="281.89" width="6.34" height="2.00" fill="#f3f4e6"/>
<rect x="432.88" y="283.39" width="6.34" height="2.00" fill="#fbf4d2"/>
<rect x="432.88" y="284.89" width="6.34" height="2.00" fill="#fcefb6"/>
<rect x="432.88" y="286.39" width="6.34" height="3.50" fill="#fbf4d2"/>
<rect x="432.88" y="289.40" width="6.34" height="2.00" fill="#e2ebef"/>
<rect x="432.88" y="290.90" width="6.34" height="3.50" fill="#fbf4d2"/>
<rect x="432.88" y="293.90" width="6.34" height="2.00" fill="#f3f4e6"/>
<rect x="432.88" y="295.41" width="6.34" height="3.50" fill="#e2ebef"/>
<rect x="432.88" y="298.41" width="6.34" height="2.00" fill="#eca066"/>
<rect x="432.88" y="299.91" width="6.34" height="2.00" fill="#fbf4d2"/>
<rect x="432.88" y="301.41" width="6.34" height="2.00" fill="#e2ebef"/>
<rect x="432.88" y="302.92" width="6.34" height="8.01" fill="#fbf4d2"/>
<rect x="432.88" y="310.43" width="6.34" height="2.00" fill="#f8d38c"/>
<rect x="432.88" y="311.93" width="6.34" height="3.50" fill="#f3f4e6"/>
<rect x="432.88" y="314.93" width="6.34" height="2.00" fill="#e2ebef"/>
<rect x="432.88" y="316.43" width="6.34" height="3.50" fill="#fbf4d2"/>
<rect x="432.88" y="319.44" width="6.34" height="2.00" fill="#e2ebef"/>
<rect x="432.88" y="320.94" width="6.34" height="2.00" fill="#fcefb6"/>
<rect x="432.88" y="322.44" width="6.34" height="5.01" fill="#fbf4d2"/>
<rect x="432.88" y="326.95" width="6.34" height="2.00" fill="#8fb0d8"/>
<rect x="432.88" y="328.45" width="6.34" height="3.50" fill="#e2ebef"/>
<rect x="432.88" y="331.45" width="6.34" height="2.00" fill="#bed3e8"/>
<rect x="432.88" y="332.95" width="6.34" height="2.00" fill="#e2ebef"/>
<rect x="432.88" y="334.46" width="6.34" height="2.00" fill="#f3f4e6"/>
<rect x="432.88" y="335.96" width="6.34" height="6.51" fill="#e2ebef"/>
<rect x="432.88" y="341.97" width="6.34" height="2.00" fill="#fbf4d2"/>
<rect x="432.88" y="343.47" width="6.34" height="2.00" fill="#bed3e8"/>
<rect x="432.88" y="344.97" width="6.34" height="3.50" fill="#e2ebef"/>
<rect x="432.88" y="347.97" width="6.34" height="2.00" fill="#f3f4e6"/>
<rect x="432.88" y="349.48" width="6.34" height="2.00" fill="#8fb0d8"/>
<rect x="432.88" y="350.98" width="6.34" height="2.00" fill="#bed3e8"/>
<rect x="432.88" y="352.48" width="6.34" height="2.00" fill="#f3f4e6"/>
<rect x="432.88" y="353.98" width="6.34" height="2.00" fill="#e2ebef"/>
<rect x="432.88" y="355.48" width="6.34" height="2.00" fill="#fbf4d2"/>
<rect x="432.88" y="356.99" width="6.34" height="3.50" fill="#f3f4e6"/>
<rect x="432.88" y="359.99" width="6.34" height="2.00" fill="#fbf4d2"/>
<rect x="432.88" y="361.49" width="6.34" height="6.01" fill="#f3f4e6"/>
<rect x="438.72" y="62.60" width="6.34" height="3.50" fill="#f3f4e6"/>
<rect x="438.72" y="65.60" width="6.34" height="2.00" fill="#fcefb6"/>
<rect x="438.72" y="67.11" width="6.34" height="2.00" fill="#f3f4e6"/>
<rect x="438.72" y="68.61" width="6.34" height="2.00" fill="#fbf4d2"/>
<rect x="438.72" y="70.11" width="6.34" height="2.00" fill="#e2ebef"/>
<rect x="438.72" y="71.61" width="6.34" height="5.01" fill="#fbf4d2"/>
<rect x="438.72" y="76.12" width="6.34" height="3.50" fill="#f3f4e6"/>
<rect x="438.72" y="79.12" width="6.34" height="3.50" fill="#fbf4d2"/>
<rect x="438.72" y="82.13" width="6.34" height="2.00" fill="#eca066"/>
<rect x="438.72" y="83.63" width="6.34" height="2.00" fill="#f3f4e6"/>
<rect x="438.72" y="85.13" width="6.34" height="2.00" fill="#fbf4d2"/>
<rect x="438.72" y="86.63" width="6.34" height="2.00" fill="#fcefb6"/>
<rect x="438.72" y="88.13" width="6.34" height="2.00" fill="#f3f4e6"/>
<rect x="438.72" y="89.64" width="6.34" height="2.00" fill="#fbf4d2"/>
<rect x="438.72" y="91.14" width="6.34" height="2.00" fill="#f3f4e6"/>
<rect x="438.72" y="92.64" width="6.34" height="2.00" fill="#fcefb6"/>
<rect x="438.72" y="94.14" width="6.34" height="3.50" fill="#f3f4e6"/>
<rect x="438.72" y="97.15" width="6.34" height="3.50" fill="#fbf4d2"/>
<rect x="438.72" y="100.15" width="6.34" height="5.01" fill="#f3f4e6"/>
<rect x="438.72" y="104.66" width="6.34" height="2.00" fill="#e2ebef"/>
<rect x="438.72" y="106.16" width="6.34" height="2.00" fill="#f3f4e6"/>
<rect x="438.72" y="107.66" width="6.34" height="5.01" fill="#fbf4d2"/>
<rect x="438.72" y="112.17" width="6.34" height="2.00" fill="#f8d38c"/>
<rect x="438.72" y="113.67" width="6.34" height="2.00" fill="#fbf4d2"/>
<rect x="438.72" y="115.17" width="6.34" height="2.00" fill="#f3f4e6"/>
<rect x="438.72" y="116.67" width="6.34" height="2.00" fill="#fbf4d2"/>
<rect x="438.72" y="118.17" width="6.34" height="2.00" fill="#fcefb6"/>
<rect x="438.72" y="119.67" width="6.34" height="2.00" fill="#f3f4e6"/>
<rect x="438.72" y="121.18" width="6.34" height="2.00" fill="#fbf4d2"/>
<rect x="438.72" y="122.68" width="6.34" height="3.50" fill="#f3f4e6"/>
<rect x="438.72" y="125.68" width="6.34" height="6.51" fill="#fbf4d2"/>
<rect x="438.72" y="131.69" width="6.34" height="2.00" fill="#f3f4e6"/>
<rect x="438.72" y="133.19" width="6.34" height="2.00" fill="#fbf4d2"/>
<rect x="438.72" y="134.69" width="6.34" height="3.50" fill="#f3f4e6"/>
<rect x="438.72" y="137.70" width="6.34" height="3.50" fill="#eca066"/>
<rect x="438.72" y="140.70" width="6.34" height="3.50" fill="#fbf4d2"/>
<rect x="438.72" y="143.71" width="6.34" height="2.00" fill="#f3f4e6"/>
<rect x="438.72" y="145.21" width="6.34" height="3.50" fill="#fbf4d2"/>
<rect x="438.72" y="148.21" width="6.34" height="2.00" fill="#f3f4e6"/>
<rect x="438.72" y="149.71" width="6.34" height="2.00" fill="#fbf4d2"/>
<rect x="438.72" y="151.22" width="6.34" height="2.00" fill="#fcefb6"/>
<rect x="438.72" y="152.72" width="6.34" height="2.00" fill="#fce79e"/>
<rect x="438.72" y="154.22" width="6.34" height="3.50" fill="#e2ebef"/>
<rect x="438.72" y="157.22" width="6.34" height="2.00" fill="#fcefb6"/>
<rect x="438.72" y="158.73" width="6.34" height="2.00" fill="#fbf4d2"/>
<rect x="438.72" y="160.23" width="6.34" height="2.00" fill="#f3f4e6"/>
<rect x="438.72" y="161.73" width="6.34" height="2.00" fill="#fbf4d2"/>
<rect x="438.72" y="163.23" width="6.34" height="2.00" fill="#fce79e"/>
<rect x="438.72" y="164.73" width="6.34" height="2.00" fill="#fcefb6"/>
<rect x="438.72" y="166.24" width="6.34" height="9.51" fill="#fbf4d2"/>
<rect x="438.72" y="175.25" width="6.34" height="2.00" fill="#fcefb6"/>
<rect x="438.72" y="176.75" width="6.34" height="3.50" fill="#fbf4d2"/>
<rect x="438.72" y="179.75" width="6.34" height="2.00" fill="#fce79e"/>
<rect x="438.72" y="181.26" width="6.34" height="2.00" fill="#fcefb6"/>
<rect x="438.72" y="182.76" width="6.34" height="2.00" fill="#fce79e"/>
<rect x="438.72" y="184.26" width="6.34" height="2.00" fill="#fbf4d2"/>
<rect x="438.72" y="185.76" width="6.34" height="2.00" fill="#fce79e"/>
<rect x="438.72" y="187.26" width="6.34" height="3.50" fill="#fcefb6"/>
<rect x="438.72" y="190.27" width="6.34" height="2.00" fill="#fbf4d2"/>
<rect x="438.72" y="191.77" width="6.34" height="2.00" fill="#fcefb6"/>
<rect x="438.72" y="193.27" width="6.34" height="2.00" fill="#fbf4d2"/>
<rect x="438.72" y="194.77" width="6.34" height="2.00" fill="#f3f4e6"/>
<rect x="438.72" y="196.28" width="6.34" height="2.00" fill="#fce79e"/>
<rect x="438.72" y="197.78" width="6.34" height="3.50" fill="#f8d38c"/>
<rect x="438.72" y="200.78" width="6.34" height="2.00" fill="#fcefb6"/>
<rect x="438.72" y="202.28" width="6.34" height="2.00" fill="#f3f4e6"/>
<rect x="438.72" y="203.79" width="6.34" height="3.50" fill="#fbf4d2"/>
<rect x="438.72" y="206.79" width="6.34" height="3.50" fill="#fcefb6"/>
<rect x="438.72" y="209.79" width="6.34" height="2.00" fill="#fce79e"/>
<rect x="438.72" y="211.30" width="6.34" height="3.50" fill="#fcefb6"/>
<rect x="438.72" y="214.30" width="6.34" height="2.00" fill="#fce79e"/>
<rect x="438.72" y="215.80" width="6.34" height="2.00" fill="#fcefb6"/>
<rect x="438.72" y="217.30" width="6.34" height="3.50" fill="#fce79e"/>
<rect x="438.72" y="220.31" width="6.34" height="2.00" fill="#fcefb6"/>
<rect x="438.72" y="221.81" width="6.34" height="3.50" fill="#fce79e"/>
<rect x="438.72" y="224.81" width="6.34" height="2.00" fill="#fbf4d2"/>
<rect x="438.72" y="226.31" width="6.34" height="2.00" fill="#fcefb6"/>
<rect x="438.72" y="227.82" width="6.34" height="2.00" fill="#fce79e"/>
<rect x="438.72" y="229.32" width="6.34" height="2.00" fill="#fbf4d2"/>
<rect x="438.72" y="230.82" width="6.34" height="2.00" fill="#f8d38c"/>
<rect x="438.72" y="232.32" width="6.34" height="3.50" fill="#fcefb6"/>
<rect x="438.72" y="235.33" width="6.34" height="2.00" fill="#fce79e"/>
<rect x="438.72" y="236.83" width="6.34" height="2.00" fill="#fcefb6"/>
<rect x="438.72" y="238.33" width="6.34" height="5.01" fill="#fce79e"/>
<rect x="438.72" y="242.84" width="6.34" height="2.00" fill="#fbf4d2"/>
<rect x="438.72" y="244.34" width="6.34" height="2.00" fill="#fcefb6"/>
<rect x="438.72" y="245.84" width="6.34" height="3.50" fill="#fce79e"/>
<rect x="438.72" y="248.84" width="6.34" height="2.00" fill="#fbf4d2"/>
<rect x="438.72" y="250.35" width="6.34" height="2.00" fill="#fce79e"/>
<rect x="438.72" y="251.85" width="6.34" height="2.00" fill="#fcefb6"/>
<rect x="438.72" y="253.35" width="6.34" height="3.50" fill="#fce79e"/>
<rect x="438.72" y="256.35" width="6.34" height="2.00" fill="#fcefb6"/>
<rect x="438.72" y="257.86" width="6.34" height="2.00" fill="#fbf4d2"/>
<rect x="438.72" y="259.36" width="6.34" height="2.00" fill="#fce79e"/>
<rect x="438.72" y="260.86" width="6.34" height="3.50" fill="#fcefb6"/>
<rect x="438.72" y="263.86" width="6.34" height="2.00" fill="#fce79e"/>
<rect x="438.72" y="265.37" width="6.34" height="2.00" fill="#fcefb6"/>
<rect x="438.72" y="266.87" width="6.34" height="2.00" fill="#fce79e"/>
<rect x="438.72" y="268.37" width="6.34" height="3.50" fill="#fcefb6"/>
<rect x="438.72" y="271.37" width="6.34" height="3.50" fill="#fce79e"/>
<rect x="438.72" y="274.38" width="6.34" height="2.00" fill="#fcefb6"/>
<rect x="438.72" y="275.88" width="6.34" height="2.00" fill="#fce79e"/>
<rect x="438.72" y="277.38" width="6.34" height="3.50" fill="#fcefb6"/>
<rect x="438.72" y="280.39" width="6.34" height="2.00" fill="#fce79e"/>
<rect x="438.72" y="281.89" width="6.34" height="2.00" fill="#f3f4e6"/>
<rect x="438.72" y="283.39" width="6.34" height="2.00" fill="#e2ebef"/>
<rect x="438.72" y="284.89" width="6.34" height="2.00" fill="#fbf4d2"/>
<rect x="438.72" y="286.39" width="6.34" height="3.50" fill="#f3f4e6"/>
<rect x="438.72" y="289.40" width="6.34" height="2.00" fill="#fbf4d2"/>
<rect x="438.72" y="290.90" width="6.34" height="5.01" fill="#e2ebef"/>
<rect x="438.72" y="295.41" width="6.34" height="5.01" fill="#fbf4d2"/>
<rect x="438.72" y="299.91" width="6.34" height="2.00" fill="#dc6a45"/>
<rect x="438.72" y="301.41" width="6.34" height="2.00" fill="#fcefb6"/>
<rect x="438.72" y="302.92" width="6.34" height="2.00" fill="#fbf4d2"/>
<rect x="438.72" y="304.42" width="6.34" height="2.00" fill="#fcefb6"/>
<rect x="438.72" y="305.92" width="6.34" height="2.00" fill="#fbf4d2"/>
<rect x="438.72" y="307.42" width="6.34" height="2.00" fill="#e2ebef"/>
<rect x="438.72" y="308.92" width="6.34" height="2.00" fill="#f3f4e6"/>
<rect x="438.72" y="310.43" width="6.34" height="2.00" fill="#e2ebef"/>
<rect x="438.72" y="311.93" width="6.34" height="2.00" fill="#fbf4d2"/>
<rect x="438.72" y="313.43" width="6.34" height="3.50" fill="#f3f4e6"/>
<rect x="438.72" y="316.43" width="6.34" height="5.01" fill="#fbf4d2"/>
<rect x="438.72" y="320.94" width="6.34" height="2.00" fill="#fce79e"/>
<rect x="438.72" y="322.44" width="6.34" height="5.01" fill="#fbf4d2"/>
<rect x="438.72" y="326.95" width="6.34" height="5.01" fill="#e2ebef"/>
<rect x="438.72" y="331.45" width="6.34" height="2.00" fill="#f3f4e6"/>
<rect x="438.72" y="332.95" width="6.34" height="2.00" fill="#e2ebef"/>
<rect x="438.72" y="334.46" width="6.34" height="2.00" fill="#f3f4e6"/>
<rect x="438.72" y="335.96" width="6.34" height="2.00" fill="#fce79e"/>
<rect x="438.72" y="337.46" width="6.34" height="2.00" fill="#fbf4d2"/>
<rect x="438.72" y="338.96" width="6.34" height="3.50" fill="#f3f4e6"/>
<rect x="438.72" y="341.97" width="6.34" height="2.00" fill="#bed3e8"/>
<rect x="438.72" y="343.47" width="6.34" height="2.00" fill="#fbf4d2"/>
<rect x="438.72" y="344.97" width="6.34" height="2.00" fill="#bed3e8"/>
<rect x="438.72" y="346.47" width="6.34" height="2.00" fill="#f3f4e6"/>
<rect x="438.72" y="347.97" width="6.34" height="2.00" fill="#e2ebef"/>
<rect x="438.72" y="349.48" width="6.34" height="3.50" fill="#f3f4e6"/>
<rect x="438.72" y="352.48" width="6.34" height="3.50" fill="#e2ebef"/>
<rect x="438.72" y="355.48" width="6.34" height="2.00" fill="#fbf4d2"/>
<rect x="438.72" y="356.99" width="6.34" height="2.00" fill="#f3f4e6"/>
<rect x="438.72" y="358.49" width="6.34" height="3.50" fill="#e2ebef"/>
<rect x="438.72" y="361.49" width="6.34" height="3.50" fill="#f3f4e6"/>
<rect x="438.72" y="364.50" width="6.34" height="2.00" fill="#bed3e8"/>
<rect x="438.72" y="366.00" width="6.34" height="1.50" fill="#e2ebef"/>
<rect x="444.56" y="62.60" width="6.34" height="3.50" fill="#fbf4d2"/>
<rect x="444.56" y="65.60" width="6.34" height="2.00" fill="#f3f4e6"/>
<rect x="444.56" y="67.11" width="6.34" height="5.01" fill="#fbf4d2"/>
<rect x="444.56" y="71.61" width="6.34" height="2.00" fill="#fcefb6"/>
<rect x="444.56" y="73.11" width="6.34" height="2.00" fill="#fbf4d2"/>
<rect x="444.56" y="74.62" width="6.34" height="2.00" fill="#fcefb6"/>
<rect x="444.56" y="76.12" width="6.34" height="2.00" fill="#bed3e8"/>
<rect x="444.56" y="77.62" width="6.34" height="2.00" fill="#fcefb6"/>
<rect x="444.56" y="79.12" width="6.34" height="2.00" fill="#f3f4e6"/>
<rect x="444.56" y="80.62" width="6.34" height="2.00" fill="#fcefb6"/>
<rect x="444.56" y="82.13" width="6.34" height="3.50" fill="#fbf4d2"/>
<rect x="444.56" y="85.13" width="6.34" height="2.00" fill="#bed3e8"/>
<rect x="444.56" y="86.63" width="6.34" height="2.00" fill="#f8d38c"/>
<rect x="444.56" y="88.13" width="6.34" height="2.00" fill="#bed3e8"/>
<rect x="444.56" y="89.64" width="6.34" height="2.00" fill="#fbf4d2"/>
<rect x="444.56" y="91.14" width="6.34" height="2.00" fill="#fcefb6"/>
<rect x="444.56" y="92.64" width="6.34" height="2.00" fill="#fbf4d2"/>
<rect x="444.56" y="94.14" width="6.34" height="2.00" fill="#dc6a45"/>
<rect x="444.56" y="95.64" width="6.34" height="2.00" fill="#fbf4d2"/>
<rect x="444.56" y="97.15" width="6.34" height="2.00" fill="#fcefb6"/>
<rect x="444.56" y="98.65" width="6.34" height="2.00" fill="#fbf4d2"/>
<rect x="444.56" y="100.15" width="6.34" height="2.00" fill="#f3f4e6"/>
<rect x="444.56" y="101.65" width="6.34" height="2.00" fill="#fbf4d2"/>
<rect x="444.56" y="103.15" width="6.34" height="2.00" fill="#e2ebef"/>
<rect x="444.56" y="104.66" width="6.34" height="2.00" fill="#fbf4d2"/>
<rect x="444.56" y="106.16" width="6.34" height="2.00" fill="#f3f4e6"/>
<rect x="444.56" y="107.66" width="6.34" height="3.50" fill="#fbf4d2"/>
<rect x="444.56" y="110.66" width="6.34" height="2.00" fill="#e2ebef"/>
<rect x="444.56" y="112.17" width="6.34" height="2.00" fill="#8fb0d8"/>
<rect x="444.56" y="113.67" width="6.34" height="3.50" fill="#fbf4d2"/>
<rect x="444.56" y="116.67" width="6.34" height="2.00" fill="#e2ebef"/>
<rect x="444.56" y="118.17" width="6.34" height="2.00" fill="#f8d38c"/>
<rect x="444.56" y="119.67" width="6.34" height="9.51" fill="#fbf4d2"/>
<rect x="444.56" y="128.69" width="6.34" height="2.00" fill="#fcefb6"/>
<rect x="444.56" y="130.19" width="6.34" height="2.00" fill="#f3f4e6"/>
<rect x="444.56" y="131.69" width="6.34" height="2.00" fill="#fcefb6"/>
<rect x="444.56" y="133.19" width="6.34" height="2.00" fill="#fbf4d2"/>
<rect x="444.56" y="134.69" width="6.34" height="2.00" fill="#f3f4e6"/>
<rect x="444.56" y="136.20" width="6.34" height="2.00" fill="#fbf4d2"/>
<rect x="444.56" y="137.70" width="6.34" height="2.00" fill="#fcefb6"/>
<rect x="444.56" y="139.20" width="6.34" height="2.00" fill="#fbf4d2"/>
<rect x="444.56" y="140.70" width="6.34" height="2.00" fill="#bed3e8"/>
<rect x="444.56" y="142.20" width="6.34" height="2.00" fill="#fce79e"/>
<rect x="444.56" y="143.71" width="6.34" height="3.50" fill="#fcefb6"/>
<rect x="444.56" y="146.71" width="6.34" height="2.00" fill="#f3f4e6"/>
<rect x="444.56" y="148.21" width="6.34" height="2.00" fill="#bed3e8"/>
<rect x="444.56" y="149.71" width="6.34" height="2.00" fill="#e2ebef"/>
<rect x="444.56" y="151.22" width="6.34" height="3.50" fill="#fbf4d2"/>
<rect x="444.56" y="154.22" width="6.34" height="2.00" fill="#f3f4e6"/>
<rect x="444.56" y="155.72" width="6.34" height="2.00" fill="#f8d38c"/>
<rect x="444.56" y="157.22" width="6.34" height="2.00" fill="#f3f4e6"/>
<rect x="444.56" y="158.73" width="6.34" height="2.00" fill="#e2ebef"/>
<rect x="444.56" y="160.23" width="6.34" height="2.00" fill="#fcefb6"/>
<rect x="444.56" y="161.73" width="6.34" height="2.00" fill="#e2ebef"/>
<rect x="444.56" y="163.23" width="6.34" height="2.00" fill="#eca066"/>
<rect x="444.56" y="164.73" width="6.34" height="2.00" fill="#fcefb6"/>
<rect x="444.56" y="166.24" width="6.34" height="2.00" fill="#c53b2d"/>
<rect x="444.56" y="167.74" width="6.34" height="2.00" fill="#fbf4d2"/>
<rect x="444.56" y="169.24" width="6.34" height="3.50" fill="#fce79e"/>
<rect x="444.56" y="172.24" width="6.34" height="2.00" fill="#fbf4d2"/>
<rect x="444.56" y="173.75" width="6.34" height="2.00" fill="#8fb0d8"/>
<rect x="444.56" y="175.25" width="6.34" height="2.00" fill="#bed3e8"/>
<rect x="444.56" y="176.75" width="6.34" height="2.00" fill="#fcefb6"/>
<rect x="444.56" y="178.25" width="6.34" height="2.00" fill="#fbf4d2"/>
<rect x="444.56" y="179.75" width="6.34" height="2.00" fill="#fcefb6"/>
<rect x="444.56" y="181.26" width="6.34" height="2.00" fill="#fbf4d2"/>
<rect x="444.56" y="182.76" width="6.34" height="2.00" fill="#bed3e8"/>
<rect x="444.56" y="184.26" width="6.34" height="2.00" fill="#f3f4e6"/>
<rect x="444.56" y="185.76" width="6.34" height="2.00" fill="#fcefb6"/>
<rect x="444.56" y="187.26" width="6.34" height="2.00" fill="#fbf4d2"/>
<rect x="444.56" y="188.77" width="6.34" height="2.00" fill="#fcefb6"/>
<rect x="444.56" y="190.27" width="6.34" height="2.00" fill="#fbf4d2"/>
<rect x="444.56" y="191.77" width="6.34" height="2.00" fill="#c53b2d"/>
<rect x="444.56" y="193.27" width="6.34" height="2.00" fill="#fce79e"/>
<rect x="444.56" y="194.77" width="6.34" height="2.00" fill="#fcefb6"/>
<rect x="444.56" y="196.28" width="6.34" height="2.00" fill="#fbf4d2"/>
<rect x="444.56" y="197.78" width="6.34" height="2.00" fill="#fce79e"/>
<rect x="444.56" y="199.28" width="6.34" height="2.00" fill="#eca066"/>
<rect x="444.56" y="200.78" width="6.34" height="2.00" fill="#f8d38c"/>
<rect x="444.56" y="202.28" width="6.34" height="2.00" fill="#fcefb6"/>
<rect x="444.56" y="203.79" width="6.34" height="2.00" fill="#f8d38c"/>
<rect x="444.56" y="205.29" width="6.34" height="3.50" fill="#fcefb6"/>
<rect x="444.56" y="208.29" width="6.34" height="2.00" fill="#fbf4d2"/>
<rect x="444.56" y="209.79" width="6.34" height="2.00" fill="#fce79e"/>
<rect x="444.56" y="211.30" width="6.34" height="2.00" fill="#fcefb6"/>
<rect x="444.56" y="212.80" width="6.34" height="2.00" fill="#fbf4d2"/>
<rect x="444.56" y="214.30" width="6.34" height="3.50" fill="#fcefb6"/>
<rect x="444.56" y="217.30" width="6.34" height="2.00" fill="#fbf4d2"/>
<rect x="444.56" y="218.80" width="6.34" height="2.00" fill="#e2ebef"/>
<rect x="444.56" y="220.31" width="6.34" height="2.00" fill="#eca066"/>
<rect x="444.56" y="221.81" width="6.34" height="2.00" fill="#fce79e"/>
<rect x="444.56" y="223.31" width="6.34" height="2.00" fill="#fcefb6"/>
<rect x="444.56" y="224.81" width="6.34" height="2.00" fill="#fbf4d2"/>
<rect x="444.56" y="226.31" width="6.34" height="2.00" fill="#dc6a45"/>
<rect x="444.56" y="227.82" width="6.34" height="2.00" fill="#eca066"/>
<rect x="444.56" y="229.32" width="6.34" height="2.00" fill="#fcefb6"/>
<rect x="444.56" y="230.82" width="6.34" height="2.00" fill="#dc6a45"/>
<rect x="444.56" y="232.32" width="6.34" height="2.00" fill="#fcefb6"/>
<rect x="444.56" y="233.82" width="6.34" height="2.00" fill="#e2ebef"/>
<rect x="444.56" y="235.33" width="6.34" height="2.00" fill="#fcefb6"/>
<rect x="444.56" y="236.83" width="6.34" height="2.00" fill="#fce79e"/>
<rect x="444.56" y="238.33" width="6.34" height="2.00" fill="#fcefb6"/>
<rect x="444.56" y="239.83" width="6.34" height="2.00" fill="#f8d38c"/>
<rect x="444.56" y="241.33" width="6.34" height="2.00" fill="#fce79e"/>
<rect x="444.56" y="242.84" width="6.34" height="2.00" fill="#f8d38c"/>
<rect x="444.56" y="244.34" width="6.34" height="3.50" fill="#fce79e"/>
<rect x="444.56" y="247.34" width="6.34" height="2.00" fill="#f8d38c"/>
<rect x="444.56" y="248.84" width="6.34" height="2.00" fill="#fcefb6"/>
<rect x="444.56" y="250.35" width="6.34" height="2.00" fill="#fce79e"/>
<rect x="444.56" y="251.85" width="6.34" height="2.00" fill="#fbf4d2"/>
<rect x="444.56" y="253.35" width="6.34" height="2.00" fill="#fce79e"/>
<rect x="444.56" y="254.85" width="6.34" height="3.50" fill="#fcefb6"/>
<rect x="444.56" y="257.86" width="6.34" height="2.00" fill="#fce79e"/>
<rect x="444.56" y="259.36" width="6.34" height="3.50" fill="#fcefb6"/>
<rect x="444.56" y="262.36" width="6.34" height="2.00" fill="#f8d38c"/>
<rect x="444.56" y="263.86" width="6.34" height="2.00" fill="#fce79e"/>
<rect x="444.56" y="265.37" width="6.34" height="3.50" fill="#f8d38c"/>
<rect x="444.56" y="268.37" width="6.34" height="2.00" fill="#dc6a45"/>
<rect x="444.56" y="269.87" width="6.34" height="2.00" fill="#fce79e"/>
<rect x="444.56" y="271.37" width="6.34" height="2.00" fill="#fcefb6"/>
<rect x="444.56" y="272.88" width="6.34" height="2.00" fill="#fce79e"/>
<rect x="444.56" y="274.38" width="6.34" height="2.00" fill="#dc6a45"/>
<rect x="444.56" y="275.88" width="6.34" height="2.00" fill="#fce79e"/>
<rect x="444.56" y="277.38" width="6.34" height="2.00" fill="#fcefb6"/>
<rect x="444.56" y="278.88" width="6.34" height="2.00" fill="#fce79e"/>
<rect x="444.56" y="280.39" width="6.34" height="2.00" fill="#f8d38c"/>
<rect x="444.56" y="281.89" width="6.34" height="2.00" fill="#e2ebef"/>
<rect x="444.56" y="283.39" width="6.34" height="3.50" fill="#fbf4d2"/>
<rect x="444.56" y="286.39" width="6.34" height="2.00" fill="#f3f4e6"/>
<rect x="444.56" y="287.90" width="6.34" height="2.00" fill="#fbf4d2"/>
<rect x="444.56" y="289.40" width="6.34" height="2.00" fill="#f3f4e6"/>
<rect x="444.56" y="290.90" width="6.34" height="2.00" fill="#fbf4d2"/>
<rect x="444.56" y="292.40" width="6.34" height="2.00" fill="#f3f4e6"/>
<rect x="444.56" y="293.90" width="6.34" height="3.50" fill="#e2ebef"/>
<rect x="444.56" y="296.91" width="6.34" height="5.01" fill="#fbf4d2"/>
<rect x="444.56" y="301.41" width="6.34" height="2.00" fill="#f3f4e6"/>
<rect x="444.56" y="302.92" width="6.34" height="2.00" fill="#f8d38c"/>
<rect x="444.56" y="304.42" width="6.34" height="6.51" fill="#f3f4e6"/>
<rect x="444.56" y="310.43" width="6.34" height="2.00" fill="#8fb0d8"/>
<rect x="444.56" y="311.93" width="6.34" height="2.00" fill="#f3f4e6"/>
<rect x="444.56" y="313.43" width="6.34" height="5.01" fill="#fbf4d2"/>
<rect x="444.56" y="317.93" width="6.34" height="2.00" fill="#f3f4e6"/>
<rect x="444.56" y="319.44" width="6.34" height="3.50" fill="#fbf4d2"/>
<rect x="444.56" y="322.44" width="6.34" height="2.00" fill="#f3f4e6"/>
<rect x="444.56" y="323.94" width="6.34" height="2.00" fill="#e2ebef"/>
<rect x="444.56" y="325.44" width="6.34" height="2.00" fill="#fcefb6"/>
<rect x="444.56" y="326.95" width="6.34" height="2.00" fill="#f8d38c"/>
<rect x="444.56" y="328.45" width="6.34" height="3.50" fill="#f3f4e6"/>
<rect x="444.56" y="331.45" width="6.34" height="2.00" fill="#bed3e8"/>
<rect x="444.56" y="332.95" width="6.34" height="2.00" fill="#fce79e"/>
<rect x="444.56" y="334.46" width="6.34" height="2.00" fill="#f3f4e6"/>
<rect x="444.56" y="335.96" width="6.34" height="2.00" fill="#bed3e8"/>
<rect x="444.56" y="337.46" width="6.34" height="6.51" fill="#e2ebef"/>
<rect x="444.56" y="343.47" width="6.34" height="2.00" fill="#f3f4e6"/>
<rect x="444.56" y="344.97" width="6.34" height="2.00" fill="#bed3e8"/>
<rect x="444.56" y="346.47" width="6.34" height="3.50" fill="#f3f4e6"/>
<rect x="444.56" y="349.48" width="6.34" height="3.50" fill="#e2ebef"/>
<rect x="444.56" y="352.48" width="6.34" height="2.00" fill="#bed3e8"/>
<rect x="444.56" y="353.98" width="6.34" height="3.50" fill="#e2ebef"/>
<rect x="444.56" y="356.99" width="6.34" height="2.00" fill="#8fb0d8"/>
<rect x="444.56" y="358.49" width="6.34" height="2.00" fill="#f3f4e6"/>
<rect x="444.56" y="359.99" width="6.34" height="2.00" fill="#fbf4d2"/>
<rect x="444.56" y="361.49" width="6.34" height="2.00" fill="#bed3e8"/>
<rect x="444.56" y="362.99" width="6.34" height="2.00" fill="#fce79e"/>
<rect x="444.56" y="364.50" width="6.34" height="3.00" fill="#e2ebef"/>
<rect x="450.40" y="62.60" width="6.34" height="5.01" fill="#fbf4d2"/>
<rect x="450.40" y="67.11" width="6.34" height="2.00" fill="#fcefb6"/>
<rect x="450.40" y="68.61" width="6.34" height="2.00" fill="#f8d38c"/>
<rect x="450.40" y="70.11" width="6.34" height="2.00" fill="#fbf4d2"/>
<rect x="450.40" y="71.61" width="6.34" height="2.00" fill="#fcefb6"/>
<rect x="450.40" y="73.11" width="6.34" height="6.51" fill="#fbf4d2"/>
<rect x="450.40" y="79.12" width="6.34" height="3.50" fill="#fcefb6"/>
<rect x="450.40" y="82.13" width="6.34" height="3.50" fill="#fbf4d2"/>
<rect x="450.40" y="85.13" width="6.34" height="2.00" fill="#fcefb6"/>
<rect x="450.40" y="86.63" width="6.34" height="2.00" fill="#fbf4d2"/>
<rect x="450.40" y="88.13" width="6.34" height="2.00" fill="#fcefb6"/>
<rect x="450.40" y="89.64" width="6.34" height="2.00" fill="#fbf4d2"/>
<rect x="450.40" y="91.14" width="6.34" height="3.50" fill="#fcefb6"/>
<rect x="450.40" y="94.14" width="6.34" height="2.00" fill="#f8d38c"/>
<rect x="450.40" y="95.64" width="6.34" height="2.00" fill="#fbf4d2"/>
<rect x="450.40" y="97.15" width="6.34" height="2.00" fill="#fcefb6"/>
<rect x="450.40" y="98.65" width="6.34" height="2.00" fill="#fbf4d2"/>
<rect x="450.40" y="100.15" width="6.34" height="2.00" fill="#eca066"/>
<rect x="450.40" y="101.65" width="6.34" height="2.00" fill="#fcefb6"/>
<rect x="450.40" y="103.15" width="6.34" height="3.50" fill="#fbf4d2"/>
<rect x="450.40" y="106.16" width="6.34" height="2.00" fill="#f3f4e6"/>
<rect x="450.40" y="107.66" width="6.34" height="2.00" fill="#fcefb6"/>
<rect x="450.40" y="109.16" width="6.34" height="3.50" fill="#fbf4d2"/>
<rect x="450.40" y="112.17" width="6.34" height="3.50" fill="#f3f4e6"/>
<rect x="450.40" y="115.17" width="6.34" height="6.51" fill="#fbf4d2"/>
<rect x="450.40" y="121.18" width="6.34" height="2.00" fill="#f3f4e6"/>
<rect x="450.40" y="122.68" width="6.34" height="2.00" fill="#fbf4d2"/>
<rect x="450.40" y="124.18" width="6.34" height="2.00" fill="#f8d38c"/>
<rect x="450.40" y="125.68" width="6.34" height="11.01" fill="#fbf4d2"/>
<rect x="450.40" y="136.20" width="6.34" height="2.00" fill="#fcefb6"/>
<rect x="450.40" y="137.70" width="6.34" height="2.00" fill="#e2ebef"/>
<rect x="450.40" y="139.20" width="6.34" height="2.00" fill="#f3f4e6"/>
<rect x="450.40" y="140.70" width="6.34" height="2.00" fill="#e2ebef"/>
<rect x="450.40" y="142.20" width="6.34" height="2.00" fill="#f3f4e6"/>
<rect x="450.40" y="143.71" width="6.34" height="3.50" fill="#e2ebef"/>
<rect x="450.40" y="146.71" width="6.34" height="3.50" fill="#f3f4e6"/>
<rect x="450.40" y="149.71" width="6.34" height="2.00" fill="#fbf4d2"/>
<rect x="450.40" y="151.22" width="6.34" height="2.00" fill="#fce79e"/>
<rect x="450.40" y="152.72" width="6.34" height="2.00" fill="#e2ebef"/>
<rect x="450.40" y="154.22" width="6.34" height="5.01" fill="#fbf4d2"/>
<rect x="450.40" y="158.73" width="6.34" height="3.50" fill="#fcefb6"/>
<rect x="450.40" y="161.73" width="6.34" height="3.50" fill="#fbf4d2"/>
<rect x="450.40" y="164.73" width="6.34" height="2.00" fill="#fce79e"/>
<rect x="450.40" y="166.24" width="6.34" height="2.00" fill="#bed3e8"/>
<rect x="450.40" y="167.74" width="6.34" height="2.00" fill="#fbf4d2"/>
<rect x="450.40" y="169.24" width="6.34" height="2.00" fill="#f8d38c"/>
<rect x="450.40" y="170.74" width="6.34" height="2.00" fill="#fbf4d2"/>
<rect x="450.40" y="172.24" width="6.34" height="2.00" fill="#fcefb6"/>
<rect x="450.40" y="173.75" width="6.34" height="2.00" fill="#eca066"/>
<rect x="450.40" y="175.25" width="6.34" height="3.50" fill="#fbf4d2"/>
<rect x="450.40" y="178.25" width="6.34" height="2.00" fill="#f8d38c"/>
<rect x="450.40" y="179.75" width="6.34" height="2.00" fill="#fbf4d2"/>
<rect x="450.40" y="181.26" width="6.34" height="5.01" fill="#fcefb6"/>
<rect x="450.40" y="185.76" width="6.34" height="2.00" fill="#8fb0d8"/>
<rect x="450.40" y="187.26" width="6.34" height="2.00" fill="#fce79e"/>
<rect x="450.40" y="188.77" width="6.34" height="2.00" fill="#fcefb6"/>
<rect x="450.40" y="190.27" width="6.34" height="2.00" fill="#fbf4d2"/>
<rect x="450.40" y="191.77" width="6.34" height="2.00" fill="#fce79e"/>
<rect x="450.40" y="193.27" width="6.34" height="3.50" fill="#fcefb6"/>
<rect x="450.40" y="196.28" width="6.34" height="2.00" fill="#fce79e"/>
<rect x="450.40" y="197.78" width="6.34" height="2.00" fill="#fcefb6"/>
<rect x="450.40" y="199.28" width="6.34" height="2.00" fill="#e2ebef"/>
<rect x="450.40" y="200.78" width="6.34" height="3.50" fill="#fcefb6"/>
<rect x="450.40" y="203.79" width="6.34" height="2.00" fill="#fbf4d2"/>
<rect x="450.40" y="205.29" width="6.34" height="2.00" fill="#fce79e"/>
<rect x="450.40" y="206.79" width="6.34" height="3.50" fill="#fcefb6"/>
<rect x="450.40" y="209.79" width="6.34" height="2.00" fill="#fce79e"/>
<rect x="450.40" y="211.30" width="6.34" height="2.00" fill="#fcefb6"/>
<rect x="450.40" y="212.80" width="6.34" height="2.00" fill="#fbf4d2"/>
<rect x="450.40" y="214.30" width="6.34" height="2.00" fill="#fce79e"/>
<rect x="450.40" y="215.80" width="6.34" height="2.00" fill="#fcefb6"/>
<rect x="450.40" y="217.30" width="6.34" height="2.00" fill="#fce79e"/>
<rect x="450.40" y="218.80" width="6.34" height="2.00" fill="#fbf4d2"/>
<rect x="450.40" y="220.31" width="6.34" height="2.00" fill="#eca066"/>
<rect x="450.40" y="221.81" width="6.34" height="3.50" fill="#fcefb6"/>
<rect x="450.40" y="224.81" width="6.34" height="2.00" fill="#f8d38c"/>
<rect x="450.40" y="226.31" width="6.34" height="2.00" fill="#dc6a45"/>
<rect x="450.40" y="227.82" width="6.34" height="2.00" fill="#bed3e8"/>
<rect x="450.40" y="229.32" width="6.34" height="2.00" fill="#fcefb6"/>
<rect x="450.40" y="230.82" width="6.34" height="2.00" fill="#fce79e"/>
<rect x="450.40" y="232.32" width="6.34" height="2.00" fill="#bed3e8"/>
<rect x="450.40" y="233.82" width="6.34" height="3.50" fill="#fcefb6"/>
<rect x="450.40" y="236.83" width="6.34" height="2.00" fill="#eca066"/>
<rect x="450.40" y="238.33" width="6.34" height="2.00" fill="#fce79e"/>
<rect x="450.40" y="239.83" width="6.34" height="2.00" fill="#fcefb6"/>
<rect x="450.40" y="241.33" width="6.34" height="2.00" fill="#e2ebef"/>
<rect x="450.40" y="242.84" width="6.34" height="3.50" fill="#fce79e"/>
<rect x="450.40" y="245.84" width="6.34" height="2.00" fill="#fbf4d2"/>
<rect x="450.40" y="247.34" width="6.34" height="2.00" fill="#fce79e"/>
<rect x="450.40" y="248.84" width="6.34" height="3.50" fill="#fcefb6"/>
<rect x="450.40" y="251.85" width="6.34" height="3.50" fill="#f8d38c"/>
<rect x="450.40" y="254.85" width="6.34" height="2.00" fill="#f3f4e6"/>
<rect x="450.40" y="256.35" width="6.34" height="3.50" fill="#fce79e"/>
<rect x="450.40" y="259.36" width="6.34" height="2.00" fill="#fcefb6"/>
<rect x="450.40" y="260.86" width="6.34" height="2.00" fill="#eca066"/>
<rect x="450.40" y="262.36" width="6.34" height="2.00" fill="#f8d38c"/>
<rect x="450.40" y="263.86" width="6.34" height="2.00" fill="#e2ebef"/>
<rect x="450.40" y="265.37" width="6.34" height="3.50" fill="#f8d38c"/>
<rect x="450.40" y="268.37" width="6.34" height="6.51" fill="#fce79e"/>
<rect x="450.40" y="274.38" width="6.34" height="2.00" fill="#fcefb6"/>
<rect x="450.40" y="275.88" width="6.34" height="2.00" fill="#fce79e"/>
<rect x="450.40" y="277.38" width="6.34" height="5.01" fill="#fcefb6"/>
<rect x="450.40" y="281.89" width="6.34" height="3.50" fill="#f3f4e6"/>
<rect x="450.40" y="284.89" width="6.34" height="2.00" fill="#fbf4d2"/>
<rect x="450.40" y="286.39" width="6.34" height="2.00" fill="#8fb0d8"/>
<rect x="450.40" y="287.90" width="6.34" height="2.00" fill="#f3f4e6"/>
<rect x="450.40" y="289.40" width="6.34" height="2.00" fill="#bed3e8"/>
<rect x="450.40" y="290.90" width="6.34" height="2.00" fill="#fbf4d2"/>
<rect x="450.40" y="292.40" width="6.34" height="2.00" fill="#f8d38c"/>
<rect x="450.40" y="293.90" width="6.34" height="3.50" fill="#fbf4d2"/>
<rect x="450.40" y="296.91" width="6.34" height="2.00" fill="#e2ebef"/>
<rect x="450.40" y="298.41" width="6.34" height="3.50" fill="#f3f4e6"/>
<rect x="450.40" y="301.41" width="6.34" height="6.51" fill="#fbf4d2"/>
<rect x="450.40" y="307.42" width="6.34" height="2.00" fill="#e2ebef"/>
<rect x="450.40" y="308.92" width="6.34" height="2.00" fill="#fbf4d2"/>
<rect x="450.40" y="310.43" width="6.34" height="2.00" fill="#dc6a45"/>
<rect x="450.40" y="311.93" width="6.34" height="5.01" fill="#fcefb6"/>
<rect x="450.40" y="316.43" width="6.34" height="2.00" fill="#fbf4d2"/>
<rect x="450.40" y="317.93" width="6.34" height="2.00" fill="#e2ebef"/>
<rect x="450.40" y="319.44" width="6.34" height="2.00" fill="#fbf4d2"/>
<rect x="450.40" y="320.94" width="6.34" height="2.00" fill="#e2ebef"/>
<rect x="450.40" y="322.44" width="6.34" height="2.00" fill="#fbf4d2"/>
<rect x="450.40" y="323.94" width="6.34" height="2.00" fill="#f8d38c"/>
<rect x="450.40" y="325.44" width="6.34" height="3.50" fill="#fbf4d2"/>
<rect x="450.40" y="328.45" width="6.34" height="2.00" fill="#e2ebef"/>
<rect x="450.40" y="329.95" width="6.34" height="2.00" fill="#f3f4e6"/>
<rect x="450.40" y="331.45" width="6.34" height="2.00" fill="#bed3e8"/>
<rect x="450.40" y="332.95" width="6.34" height="2.00" fill="#f3f4e6"/>
<rect x="450.40" y="334.46" width="6.34" height="2.00" fill="#fbf4d2"/>
<rect x="450.40" y="335.96" width="6.34" height="2.00" fill="#fce79e"/>
<rect x="450.40" y="337.46" width="6.34" height="2.00" fill="#f3f4e6"/>
<rect x="450.40" y="338.96" width="6.34" height="3.50" fill="#e2ebef"/>
<rect x="450.40" y="341.97" width="6.34" height="2.00" fill="#fce79e"/>
<rect x="450.40" y="343.47" width="6.34" height="5.01" fill="#fbf4d2"/>
<rect x="450.40" y="347.97" width="6.34" height="2.00" fill="#fce79e"/>
<rect x="450.40" y="349.48" width="6.34" height="2.00" fill="#f3f4e6"/>
<rect x="450.40" y="350.98" width="6.34" height="2.00" fill="#e2ebef"/>
<rect x="450.40" y="352.48" width="6.34" height="2.00" fill="#bed3e8"/>
<rect x="450.40" y="353.98" width="6.34" height="2.00" fill="#e2ebef"/>
<rect x="450.40" y="355.48" width="6.34" height="2.00" fill="#fce79e"/>
<rect x="450.40" y="356.99" width="6.34" height="3.50" fill="#fbf4d2"/>
<rect x="450.40" y="359.99" width="6.34" height="2.00" fill="#e2ebef"/>
<rect x="450.40" y="361.49" width="6.34" height="2.00" fill="#bed3e8"/>
<rect x="450.40" y="362.99" width="6.34" height="2.00" fill="#e2ebef"/>
<rect x="450.40" y="364.50" width="6.34" height="2.00" fill="#bed3e8"/>
<rect x="450.40" y="366.00" width="6.34" height="1.50" fill="#e2ebef"/>
<rect x="456.24" y="62.60" width="5.84" height="2.00" fill="#f3f4e6"/>
<rect x="456.24" y="64.10" width="5.84" height="2.00" fill="#fbf4d2"/>
<rect x="456.24" y="65.60" width="5.84" height="2.00" fill="#e2ebef"/>
<rect x="456.24" y="67.11" width="5.84" height="2.00" fill="#fcefb6"/>
<rect x="456.24" y="68.61" width="5.84" height="3.50" fill="#fbf4d2"/>
<rect x="456.24" y="71.61" width="5.84" height="3.50" fill="#fcefb6"/>
<rect x="456.24" y="74.62" width="5.84" height="2.00" fill="#fbf4d2"/>
<rect x="456.24" y="76.12" width="5.84" height="2.00" fill="#5b80bd"/>
<rect x="456.24" y="77.62" width="5.84" height="2.00" fill="#eca066"/>
<rect x="456.24" y="79.12" width="5.84" height="2.00" fill="#fcefb6"/>
<rect x="456.24" y="80.62" width="5.84" height="5.01" fill="#fbf4d2"/>
<rect x="456.24" y="85.13" width="5.84" height="2.00" fill="#eca066"/>
<rect x="456.24" y="86.63" width="5.84" height="2.00" fill="#fbf4d2"/>
<rect x="456.24" y="88.13" width="5.84" height="2.00" fill="#e2ebef"/>
<rect x="456.24" y="89.64" width="5.84" height="5.01" fill="#fbf4d2"/>
<rect x="456.24" y="94.14" width="5.84" height="2.00" fill="#bed3e8"/>
<rect x="456.24" y="95.64" width="5.84" height="3.50" fill="#f3f4e6"/>
<rect x="456.24" y="98.65" width="5.84" height="2.00" fill="#fbf4d2"/>
<rect x="456.24" y="100.15" width="5.84" height="3.50" fill="#fcefb6"/>
<rect x="456.24" y="103.15" width="5.84" height="2.00" fill="#c53b2d"/>
<rect x="456.24" y="104.66" width="5.84" height="8.01" fill="#fbf4d2"/>
<rect x="456.24" y="112.17" width="5.84" height="2.00" fill="#eca066"/>
<rect x="456.24" y="113.67" width="5.84" height="2.00" fill="#e2ebef"/>
<rect x="456.24" y="115.17" width="5.84" height="3.50" fill="#fbf4d2"/>
<rect x="456.24" y="118.17" width="5.84" height="2.00" fill="#f8d38c"/>
<rect x="456.24" y="119.67" width="5.84" height="3.50" fill="#fbf4d2"/>
<rect x="456.24" y="122.68" width="5.84" height="3.50" fill="#f3f4e6"/>
<rect x="456.24" y="125.68" width="5.84" height="2.00" fill="#fcefb6"/>
<rect x="456.24" y="127.18" width="5.84" height="5.01" fill="#fbf4d2"/>
<rect x="456.24" y="131.69" width="5.84" height="2.00" fill="#fcefb6"/>
<rect x="456.24" y="133.19" width="5.84" height="2.00" fill="#e2ebef"/>
<rect x="456.24" y="134.69" width="5.84" height="2.00" fill="#fcefb6"/>
<rect x="456.24" y="136.20" width="5.84" height="2.00" fill="#f3f4e6"/>
<rect x="456.24" y="137.70" width="5.84" height="2.00" fill="#eca066"/>
<rect x="456.24" y="139.20" width="5.84" height="2.00" fill="#fbf4d2"/>
<rect x="456.24" y="140.70" width="5.84" height="2.00" fill="#f8d38c"/>
<rect x="456.24" y="142.20" width="5.84" height="3.50" fill="#fbf4d2"/>
<rect x="456.24" y="145.21" width="5.84" height="2.00" fill="#eca066"/>
<rect x="456.24" y="146.71" width="5.84" height="2.00" fill="#fcefb6"/>
<rect x="456.24" y="148.21" width="5.84" height="2.00" fill="#eca066"/>
<rect x="456.24" y="149.71" width="5.84" height="2.00" fill="#fce79e"/>
<rect x="456.24" y="151.22" width="5.84" height="3.50" fill="#fbf4d2"/>
<rect x="456.24" y="154.22" width="5.84" height="2.00" fill="#fcefb6"/>
<rect x="456.24" y="155.72" width="5.84" height="2.00" fill="#c53b2d"/>
<rect x="456.24" y="157.22" width="5.84" height="2.00" fill="#e2ebef"/>
<rect x="456.24" y="158.73" width="5.84" height="8.01" fill="#fbf4d2"/>
<rect x="456.24" y="166.24" width="5.84" height="2.00" fill="#fcefb6"/>
<rect x="456.24" y="167.74" width="5.84" height="2.00" fill="#f8d38c"/>
<rect x="456.24" y="169.24" width="5.84" height="2.00" fill="#eca066"/>
<rect x="456.24" y="170.74" width="5.84" height="2.00" fill="#fcefb6"/>
<rect x="456.24" y="172.24" width="5.84" height="2.00" fill="#fce79e"/>
<rect x="456.24" y="173.75" width="5.84" height="2.00" fill="#f8d38c"/>
<rect x="456.24" y="175.25" width="5.84" height="3.50" fill="#fce79e"/>
<rect x="456.24" y="178.25" width="5.84" height="2.00" fill="#fcefb6"/>
<rect x="456.24" y="179.75" width="5.84" height="2.00" fill="#f8d38c"/>
<rect x="456.24" y="181.26" width="5.84" height="2.00" fill="#eca066"/>
<rect x="456.24" y="182.76" width="5.84" height="3.50" fill="#fcefb6"/>
<rect x="456.24" y="185.76" width="5.84" height="2.00" fill="#f8d38c"/>
<rect x="456.24" y="187.26" width="5.84" height="2.00" fill="#fce79e"/>
<rect x="456.24" y="188.77" width="5.84" height="3.50" fill="#f8d38c"/>
<rect x="456.24" y="191.77" width="5.84" height="2.00" fill="#fce79e"/>
<rect x="456.24" y="193.27" width="5.84" height="2.00" fill="#eca066"/>
<rect x="456.24" y="194.77" width="5.84" height="2.00" fill="#f8d38c"/>
<rect x="456.24" y="196.28" width="5.84" height="2.00" fill="#fce79e"/>
<rect x="456.24" y="197.78" width="5.84" height="2.00" fill="#fcefb6"/>
<rect x="456.24" y="199.28" width="5.84" height="2.00" fill="#fce79e"/>
<rect x="456.24" y="200.78" width="5.84" height="2.00" fill="#eca066"/>
<rect x="456.24" y="202.28" width="5.84" height="2.00" fill="#f8d38c"/>
<rect x="456.24" y="203.79" width="5.84" height="3.50" fill="#fcefb6"/>
<rect x="456.24" y="206.79" width="5.84" height="2.00" fill="#fce79e"/>
<rect x="456.24" y="208.29" width="5.84" height="2.00" fill="#eca066"/>
<rect x="456.24" y="209.79" width="5.84" height="2.00" fill="#fce79e"/>
<rect x="456.24" y="211.30" width="5.84" height="3.50" fill="#fcefb6"/>
<rect x="456.24" y="214.30" width="5.84" height="2.00" fill="#fce79e"/>
<rect x="456.24" y="215.80" width="5.84" height="3.50" fill="#eca066"/>
<rect x="456.24" y="218.80" width="5.84" height="3.50" fill="#fce79e"/>
<rect x="456.24" y="221.81" width="5.84" height="2.00" fill="#eca066"/>
<rect x="456.24" y="223.31" width="5.84" height="2.00" fill="#f8d38c"/>
<rect x="456.24" y="224.81" width="5.84" height="5.01" fill="#fce79e"/>
<rect x="456.24" y="229.32" width="5.84" height="3.50" fill="#f8d38c"/>
<rect x="456.24" y="232.32" width="5.84" height="2.00" fill="#fce79e"/>
<rect x="456.24" y="233.82" width="5.84" height="2.00" fill="#eca066"/>
<rect x="456.24" y="235.33" width="5.84" height="2.00" fill="#fce79e"/>
<rect x="456.24" y="236.83" width="5.84" height="2.00" fill="#f8d38c"/>
<rect x="456.24" y="238.33" width="5.84" height="2.00" fill="#fcefb6"/>
<rect x="456.24" y="239.83" width="5.84" height="2.00" fill="#fce79e"/>
<rect x="456.24" y="241.33" width="5.84" height="2.00" fill="#f8d38c"/>
<rect x="456.24" y="242.84" width="5.84" height="2.00" fill="#fce79e"/>
<rect x="456.24" y="244.34" width="5.84" height="2.00" fill="#f8d38c"/>
<rect x="456.24" y="245.84" width="5.84" height="2.00" fill="#eca066"/>
<rect x="456.24" y="247.34" width="5.84" height="3.50" fill="#f8d38c"/>
<rect x="456.24" y="250.35" width="5.84" height="2.00" fill="#fce79e"/>
<rect x="456.24" y="251.85" width="5.84" height="2.00" fill="#eca066"/>
<rect x="456.24" y="253.35" width="5.84" height="2.00" fill="#fcefb6"/>
<rect x="456.24" y="254.85" width="5.84" height="2.00" fill="#f8d38c"/>
<rect x="456.24" y="256.35" width="5.84" height="3.50" fill="#fce79e"/>
<rect x="456.24" y="259.36" width="5.84" height="2.00" fill="#f8d38c"/>
<rect x="456.24" y="260.86" width="5.84" height="3.50" fill="#fce79e"/>
<rect x="456.24" y="263.86" width="5.84" height="3.50" fill="#f8d38c"/>
<rect x="456.24" y="266.87" width="5.84" height="2.00" fill="#fce79e"/>
<rect x="456.24" y="268.37" width="5.84" height="2.00" fill="#f8d38c"/>
<rect x="456.24" y="269.87" width="5.84" height="3.50" fill="#fce79e"/>
<rect x="456.24" y="272.88" width="5.84" height="2.00" fill="#fcefb6"/>
<rect x="456.24" y="274.38" width="5.84" height="3.50" fill="#fce79e"/>
<rect x="456.24" y="277.38" width="5.84" height="2.00" fill="#f8d38c"/>
<rect x="456.24" y="278.88" width="5.84" height="2.00" fill="#fcefb6"/>
<rect x="456.24" y="280.39" width="5.84" height="2.00" fill="#f8d38c"/>
<rect x="456.24" y="281.89" width="5.84" height="2.00" fill="#fcefb6"/>
<rect x="456.24" y="283.39" width="5.84" height="2.00" fill="#fbf4d2"/>
<rect x="456.24" y="284.89" width="5.84" height="6.51" fill="#f3f4e6"/>
<rect x="456.24" y="290.90" width="5.84" height="2.00" fill="#fcefb6"/>
<rect x="456.24" y="292.40" width="5.84" height="2.00" fill="#f3f4e6"/>
<rect x="456.24" y="293.90" width="5.84" height="2.00" fill="#fce79e"/>
<rect x="456.24" y="295.41" width="5.84" height="5.01" fill="#f3f4e6"/>
<rect x="456.24" y="299.91" width="5.84" height="2.00" fill="#eca066"/>
<rect x="456.24" y="301.41" width="5.84" height="2.00" fill="#e2ebef"/>
<rect x="456.24" y="302.92" width="5.84" height="5.01" fill="#fbf4d2"/>
<rect x="456.24" y="307.42" width="5.84" height="5.01" fill="#f3f4e6"/>
<rect x="456.24" y="311.93" width="5.84" height="8.01" fill="#fbf4d2"/>
<rect x="456.24" y="319.44" width="5.84" height="2.00" fill="#fcefb6"/>
<rect x="456.24" y="320.94" width="5.84" height="3.50" fill="#f3f4e6"/>
<rect x="456.24" y="323.94" width="5.84" height="2.00" fill="#fbf4d2"/>
<rect x="456.24" y="325.44" width="5.84" height="2.00" fill="#e2ebef"/>
<rect x="456.24" y="326.95" width="5.84" height="3.50" fill="#f3f4e6"/>
<rect x="456.24" y="329.95" width="5.84" height="2.00" fill="#bed3e8"/>
<rect x="456.24" y="331.45" width="5.84" height="2.00" fill="#f3f4e6"/>
<rect x="456.24" y="332.95" width="5.84" height="2.00" fill="#e2ebef"/>
<rect x="456.24" y="334.46" width="5.84" height="3.50" fill="#f3f4e6"/>
<rect x="456.24" y="337.46" width="5.84" height="5.01" fill="#e2ebef"/>
<rect x="456.24" y="341.97" width="5.84" height="2.00" fill="#f3f4e6"/>
<rect x="456.24" y="343.47" width="5.84" height="2.00" fill="#e2ebef"/>
<rect x="456.24" y="344.97" width="5.84" height="5.01" fill="#f3f4e6"/>
<rect x="456.24" y="349.48" width="5.84" height="2.00" fill="#e2ebef"/>
<rect x="456.24" y="350.98" width="5.84" height="3.50" fill="#bed3e8"/>
<rect x="456.24" y="353.98" width="5.84" height="2.00" fill="#f3f4e6"/>
<rect x="456.24" y="355.48" width="5.84" height="2.00" fill="#bed3e8"/>
<rect x="456.24" y="356.99" width="5.84" height="2.00" fill="#e2ebef"/>
<rect x="456.24" y="358.49" width="5.84" height="2.00" fill="#f3f4e6"/>
<rect x="456.24" y="359.99" width="5.84" height="2.00" fill="#bed3e8"/>
<rect x="456.24" y="361.49" width="5.84" height="3.50" fill="#e2ebef"/>
<rect x="456.24" y="364.50" width="5.84" height="2.00" fill="#f3f4e6"/>
<rect x="456.24" y="366.00" width="5.84" height="1.50" fill="#8fb0d8"/></g>
<line x1="362.3" y1="62.4" x2="362.3" y2="367.5" stroke="#7a7a7a" stroke-width="0.9"/>
<polygon points="362.4,125 362.0,140.6 360.5,157 358.4,173.6 356.3,188 354.6,205 353.5,221.8 351.6,239.3 350.9,243.7 350.9,281.2 362.4,281.2" fill="#474747"/>
<polygon points="362.2,313.7 361.0,322 359.3,332 357.3,340.5 355.6,349 354.0,356 353.3,358.4 351.0,359.2 351.0,367.5 362.6,367.5" fill="#474747"/>
<rect x="465" y="63" width="9.4" height="304.5" fill="#bcbcbc"/>
<rect x="465" y="220.6" width="9.4" height="61.4" fill="#5eadbb"/>
<rect x="465" y="358.8" width="9.4" height="8.7" fill="#dab42e"/>
<line x1="476.2" y1="220.8" x2="485.4" y2="88.8" stroke="#5eadbb" stroke-width="1.1"/>
<line x1="476.2" y1="281.8" x2="485.2" y2="360.8" stroke="#5eadbb" stroke-width="1.1"/>
<text x="487.5" y="90.90" font-size="5.5" font-style="italic" fill="#5eadbb" stroke="#5eadbb" stroke-width="0.1">SPARC</text>
<text x="487.5" y="96.21" font-size="5.5" font-style="italic" fill="#5eadbb" stroke="#5eadbb" stroke-width="0.1">CLU</text>
<text x="487.5" y="101.52" font-size="5.5" font-style="italic" fill="#5eadbb" stroke="#5eadbb" stroke-width="0.1">MAPK1</text>
<text x="487.5" y="106.83" font-size="5.5" font-style="italic" fill="#5eadbb" stroke="#5eadbb" stroke-width="0.1">LYN</text>
<text x="487.5" y="112.14" font-size="5.5" font-style="italic" fill="#5eadbb" stroke="#5eadbb" stroke-width="0.1">FERMT3</text>
<text x="487.5" y="117.45" font-size="5.5" font-style="italic" fill="#5eadbb" stroke="#5eadbb" stroke-width="0.1">APP</text>
<text x="487.5" y="122.76" font-size="5.5" font-style="italic" fill="#5eadbb" stroke="#5eadbb" stroke-width="0.1">LHFPL2</text>
<text x="487.5" y="128.07" font-size="5.5" font-style="italic" fill="#5eadbb" stroke="#5eadbb" stroke-width="0.1">EGF</text>
<text x="487.5" y="133.38" font-size="5.5" font-style="italic" fill="#5eadbb" stroke="#5eadbb" stroke-width="0.1">GP9</text>
<text x="487.5" y="138.69" font-size="5.5" font-style="italic" fill="#5eadbb" stroke="#5eadbb" stroke-width="0.1">RAP1B</text>
<text x="487.5" y="144.00" font-size="5.5" font-style="italic" fill="#5eadbb" stroke="#5eadbb" stroke-width="0.1">NHLRC2</text>
<text x="487.5" y="149.31" font-size="5.5" font-style="italic" fill="#5eadbb" stroke="#5eadbb" stroke-width="0.1">TIMP1</text>
<text x="487.5" y="154.62" font-size="5.5" font-style="italic" fill="#5eadbb" stroke="#5eadbb" stroke-width="0.1">MPIG6B</text>
<text x="487.5" y="159.93" font-size="5.5" font-style="italic" fill="#5eadbb" stroke="#5eadbb" stroke-width="0.1">P2RY12</text>
<text x="487.5" y="165.24" font-size="5.5" font-style="italic" fill="#5eadbb" stroke="#5eadbb" stroke-width="0.1">WDR1</text>
<text x="487.5" y="170.55" font-size="5.5" font-style="italic" fill="#5eadbb" stroke="#5eadbb" stroke-width="0.1">MAGED2</text>
<text x="487.5" y="175.86" font-size="5.5" font-style="italic" fill="#5eadbb" stroke="#5eadbb" stroke-width="0.1">FYN</text>
<text x="487.5" y="181.17" font-size="5.5" font-style="italic" fill="#5eadbb" stroke="#5eadbb" stroke-width="0.1">SRGN</text>
<text x="487.5" y="186.48" font-size="5.5" font-style="italic" fill="#5eadbb" stroke="#5eadbb" stroke-width="0.1">ADRA2A</text>
<text x="487.5" y="191.79" font-size="5.5" font-style="italic" fill="#5eadbb" stroke="#5eadbb" stroke-width="0.1">PRKCD</text>
<text x="487.5" y="197.10" font-size="5.5" font-style="italic" fill="#5eadbb" stroke="#5eadbb" stroke-width="0.1">TGFB1</text>
<text x="487.5" y="202.41" font-size="5.5" font-style="italic" fill="#5eadbb" stroke="#5eadbb" stroke-width="0.1">ENDOD1</text>
<text x="487.5" y="207.72" font-size="5.5" font-style="italic" fill="#5eadbb" stroke="#5eadbb" stroke-width="0.1">VCL</text>
<text x="487.5" y="213.03" font-size="5.5" font-style="italic" fill="#5eadbb" stroke="#5eadbb" stroke-width="0.1">P2RY1</text>
<text x="487.5" y="218.34" font-size="5.5" font-style="italic" fill="#5eadbb" stroke="#5eadbb" stroke-width="0.1">PLA2G4A</text>
<text x="487.5" y="223.65" font-size="5.5" font-style="italic" fill="#5eadbb" stroke="#5eadbb" stroke-width="0.1">CDC42</text>
<text x="487.5" y="228.96" font-size="5.5" font-style="italic" fill="#5eadbb" stroke="#5eadbb" stroke-width="0.1">DGKG</text>
<text x="487.5" y="234.27" font-size="5.5" font-style="italic" fill="#5eadbb" stroke="#5eadbb" stroke-width="0.1">ARRB1</text>
<text x="487.5" y="239.58" font-size="5.5" font-style="italic" fill="#5eadbb" stroke="#5eadbb" stroke-width="0.1">TBXA2R</text>
<text x="487.5" y="244.89" font-size="5.5" font-style="italic" fill="#5eadbb" stroke="#5eadbb" stroke-width="0.1">GNG11</text>
<text x="487.5" y="250.20" font-size="5.5" font-style="italic" fill="#5eadbb" stroke="#5eadbb" stroke-width="0.1">CAP1</text>
<text x="487.5" y="255.51" font-size="5.5" font-style="italic" fill="#5eadbb" stroke="#5eadbb" stroke-width="0.1">GTPBP2</text>
<text x="487.5" y="260.82" font-size="5.5" font-style="italic" fill="#5eadbb" stroke="#5eadbb" stroke-width="0.1">VEGFC</text>
<text x="487.5" y="266.13" font-size="5.5" font-style="italic" fill="#5eadbb" stroke="#5eadbb" stroke-width="0.1">RHOA</text>
<text x="487.5" y="271.44" font-size="5.5" font-style="italic" fill="#5eadbb" stroke="#5eadbb" stroke-width="0.1">LAT</text>
<text x="487.5" y="276.75" font-size="5.5" font-style="italic" fill="#5eadbb" stroke="#5eadbb" stroke-width="0.1">TRPC6</text>
<text x="487.5" y="282.06" font-size="5.5" font-style="italic" fill="#5eadbb" stroke="#5eadbb" stroke-width="0.1">RAB27B</text>
<text x="487.5" y="287.37" font-size="5.5" font-style="italic" fill="#5eadbb" stroke="#5eadbb" stroke-width="0.1">RAC1</text>
<text x="487.5" y="292.68" font-size="5.5" font-style="italic" fill="#5eadbb" stroke="#5eadbb" stroke-width="0.1">TUBA4A</text>
<text x="487.5" y="297.99" font-size="5.5" font-style="italic" fill="#5eadbb" stroke="#5eadbb" stroke-width="0.1">GP1BA</text>
<text x="487.5" y="303.30" font-size="5.5" font-style="italic" fill="#5eadbb" stroke="#5eadbb" stroke-width="0.1">PDGFA</text>
<text x="487.5" y="308.61" font-size="5.5" font-style="italic" fill="#5eadbb" stroke="#5eadbb" stroke-width="0.1">STXBP2</text>
<text x="487.5" y="313.92" font-size="5.5" font-style="italic" fill="#5eadbb" stroke="#5eadbb" stroke-width="0.1">TAGLN2</text>
<text x="487.5" y="319.23" font-size="5.5" font-style="italic" fill="#5eadbb" stroke="#5eadbb" stroke-width="0.1">PRKCQ</text>
<text x="487.5" y="324.54" font-size="5.5" font-style="italic" fill="#5eadbb" stroke="#5eadbb" stroke-width="0.1">F2R</text>
<text x="487.5" y="329.85" font-size="5.5" font-style="italic" fill="#5eadbb" stroke="#5eadbb" stroke-width="0.1">PRKCA</text>
<text x="487.5" y="335.16" font-size="5.5" font-style="italic" fill="#5eadbb" stroke="#5eadbb" stroke-width="0.1">GNAQ</text>
<text x="487.5" y="340.47" font-size="5.5" font-style="italic" fill="#5eadbb" stroke="#5eadbb" stroke-width="0.1">ITPR2</text>
<text x="487.5" y="345.78" font-size="5.5" font-style="italic" fill="#5eadbb" stroke="#5eadbb" stroke-width="0.1">F2RL3</text>
<text x="487.5" y="351.09" font-size="5.5" font-style="italic" fill="#5eadbb" stroke="#5eadbb" stroke-width="0.1">PTK2</text>
<text x="487.5" y="356.40" font-size="5.5" font-style="italic" fill="#5eadbb" stroke="#5eadbb" stroke-width="0.1">CYB5R1</text>
<text x="487.5" y="361.71" font-size="5.5" font-style="italic" fill="#5eadbb" stroke="#5eadbb" stroke-width="0.1">YWHAZ</text>
<rect x="0" y="0" width="520" height="1.1" fill="#000"/>
<rect x="0" y="0" width="1.1" height="412" fill="#000"/>
<rect x="518.6" y="0" width="1.4" height="412" fill="#000"/>
<rect x="0" y="410.6" width="520" height="1.4" fill="#000"/>
</svg>
</body></html>
